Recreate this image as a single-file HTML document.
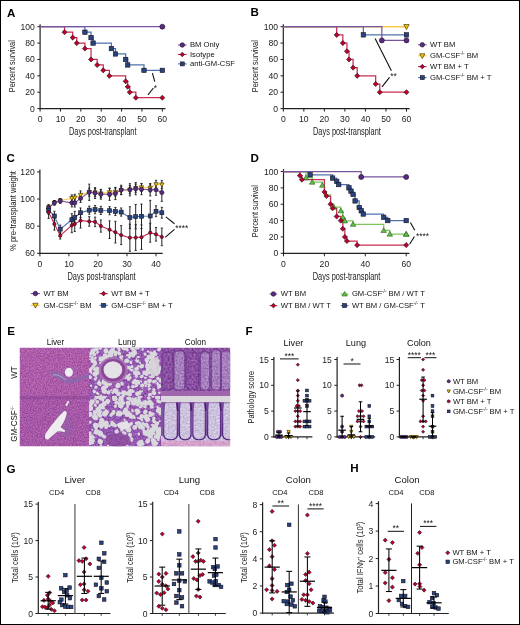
<!DOCTYPE html>
<html><head><meta charset="utf-8"><title>Figure</title>
<style>
html,body{margin:0;padding:0;background:#fff;}
#wrap{position:relative;width:520px;height:625px;overflow:hidden;}
#wrap svg{display:block;position:absolute;left:0;top:0;will-change:transform;}
#frame{position:absolute;left:0;top:0;width:520px;height:625px;box-sizing:border-box;border:1px solid #000;pointer-events:none;}
text{font-family:"Liberation Sans", sans-serif;}
</style></head><body><div id="wrap">
<svg width="520" height="625" viewBox="0 0 520 625" font-family='"Liberation Sans", sans-serif'>
<rect x="0" y="0" width="520" height="625" fill="#fff"/>
<text transform="translate(6.9,16.5)" font-size="11.6" text-anchor="start" font-weight="bold" fill="#000">A</text>
<text transform="translate(250.5,16.3)" font-size="11.6" text-anchor="start" font-weight="bold" fill="#000">B</text>
<text transform="translate(6.6,161.8)" font-size="11.6" text-anchor="start" font-weight="bold" fill="#000">C</text>
<text transform="translate(250.5,161.7)" font-size="11.6" text-anchor="start" font-weight="bold" fill="#000">D</text>
<text transform="translate(7.3,334.7)" font-size="11.6" text-anchor="start" font-weight="bold" fill="#000">E</text>
<text transform="translate(245.4,334.7)" font-size="11.6" text-anchor="start" font-weight="bold" fill="#000">F</text>
<text transform="translate(6.6,472.5)" font-size="11.6" text-anchor="start" font-weight="bold" fill="#000">G</text>
<text transform="translate(350.3,472.3)" font-size="11.6" text-anchor="start" font-weight="bold" fill="#000">H</text>
<line x1="40.1" y1="24.3" x2="40.1" y2="109.2" stroke="#222" stroke-width="1.2"/>
<line x1="39.5" y1="108.6" x2="165.52" y2="108.6" stroke="#222" stroke-width="1.2"/>
<line x1="37.3" y1="108.6" x2="40.1" y2="108.6" stroke="#222" stroke-width="1"/>
<text transform="translate(34.9,111.6)" font-size="8.6" text-anchor="end" font-weight="normal" fill="#222">0</text>
<line x1="37.3" y1="92.22" x2="40.1" y2="92.22" stroke="#222" stroke-width="1"/>
<text transform="translate(34.9,95.22)" font-size="8.6" text-anchor="end" font-weight="normal" fill="#222">20</text>
<line x1="37.3" y1="75.84" x2="40.1" y2="75.84" stroke="#222" stroke-width="1"/>
<text transform="translate(34.9,78.84)" font-size="8.6" text-anchor="end" font-weight="normal" fill="#222">40</text>
<line x1="37.3" y1="59.46" x2="40.1" y2="59.46" stroke="#222" stroke-width="1"/>
<text transform="translate(34.9,62.46)" font-size="8.6" text-anchor="end" font-weight="normal" fill="#222">60</text>
<line x1="37.3" y1="43.08" x2="40.1" y2="43.08" stroke="#222" stroke-width="1"/>
<text transform="translate(34.9,46.08)" font-size="8.6" text-anchor="end" font-weight="normal" fill="#222">80</text>
<line x1="37.3" y1="26.7" x2="40.1" y2="26.7" stroke="#222" stroke-width="1"/>
<text transform="translate(34.9,29.7)" font-size="8.6" text-anchor="end" font-weight="normal" fill="#222">100</text>
<line x1="40.1" y1="108.6" x2="40.1" y2="111.6" stroke="#222" stroke-width="1"/>
<text transform="translate(40.1,121.9)" font-size="8.6" text-anchor="middle" font-weight="normal" fill="#222">0</text>
<line x1="60.47" y1="108.6" x2="60.47" y2="111.6" stroke="#222" stroke-width="1"/>
<text transform="translate(60.47,121.9)" font-size="8.6" text-anchor="middle" font-weight="normal" fill="#222">10</text>
<line x1="80.84" y1="108.6" x2="80.84" y2="111.6" stroke="#222" stroke-width="1"/>
<text transform="translate(80.84,121.9)" font-size="8.6" text-anchor="middle" font-weight="normal" fill="#222">20</text>
<line x1="101.21" y1="108.6" x2="101.21" y2="111.6" stroke="#222" stroke-width="1"/>
<text transform="translate(101.21,121.9)" font-size="8.6" text-anchor="middle" font-weight="normal" fill="#222">30</text>
<line x1="121.58" y1="108.6" x2="121.58" y2="111.6" stroke="#222" stroke-width="1"/>
<text transform="translate(121.58,121.9)" font-size="8.6" text-anchor="middle" font-weight="normal" fill="#222">40</text>
<line x1="141.95" y1="108.6" x2="141.95" y2="111.6" stroke="#222" stroke-width="1"/>
<text transform="translate(141.95,121.9)" font-size="8.6" text-anchor="middle" font-weight="normal" fill="#222">50</text>
<line x1="162.32" y1="108.6" x2="162.32" y2="111.6" stroke="#222" stroke-width="1"/>
<text transform="translate(162.32,121.9)" font-size="8.6" text-anchor="middle" font-weight="normal" fill="#222">60</text>
<text transform="translate(15.2,66.2) rotate(-90)" font-size="9.2" text-anchor="middle" font-weight="normal" fill="#222" textLength="52" lengthAdjust="spacingAndGlyphs">Percent survival</text>
<text transform="translate(69,135.1)" font-size="11" text-anchor="start" font-weight="normal" fill="#222" textLength="67.5" lengthAdjust="spacingAndGlyphs">Days post-transplant</text>
<polyline points="40.1,26.7 64.54,26.7 64.54,32.19 72.69,32.19 72.69,37.59 76.77,37.59 76.77,43.08 84.91,43.08 84.91,48.57 91.03,48.57 91.03,59.46 97.14,59.46 97.14,64.95 103.25,64.95 103.25,70.35 109.36,70.35 109.36,75.84 125.65,75.84 125.65,81.33 127.69,81.33 127.69,86.73 129.73,86.73 129.73,92.22 135.84,92.22 135.84,97.71 162.32,97.71" fill="none" stroke="#c62f53" stroke-width="1.25" stroke-linejoin="miter"/>
<polyline points="40.1,26.7 84.91,26.7 84.91,32.19 91.03,32.19 91.03,37.59 93.06,37.59 93.06,43.08 111.4,43.08 111.4,48.57 115.47,48.57 115.47,53.97 125.65,53.97 125.65,59.46 127.69,59.46 127.69,64.95 143.99,64.95 143.99,70.35 162.32,70.35" fill="none" stroke="#5072aa" stroke-width="1.25" stroke-linejoin="miter"/>
<polyline points="40.1,26.7 162.32,26.7" fill="none" stroke="#77569b" stroke-width="1.3" stroke-linejoin="miter"/>
<path d="M64.54 29.64L67.09 32.19L64.54 34.74L61.99 32.19Z" fill="#bf0029" stroke="#1a1020" stroke-width="0.6"/>
<path d="M72.69 35.04L75.24 37.59L72.69 40.14L70.14 37.59Z" fill="#bf0029" stroke="#1a1020" stroke-width="0.6"/>
<path d="M76.77 40.53L79.32 43.08L76.77 45.63L74.22 43.08Z" fill="#bf0029" stroke="#1a1020" stroke-width="0.6"/>
<path d="M84.91 46.02L87.46 48.57L84.91 51.12L82.36 48.57Z" fill="#bf0029" stroke="#1a1020" stroke-width="0.6"/>
<path d="M91.03 56.91L93.58 59.46L91.03 62.01L88.48 59.46Z" fill="#bf0029" stroke="#1a1020" stroke-width="0.6"/>
<path d="M97.14 62.4L99.69 64.95L97.14 67.5L94.59 64.95Z" fill="#bf0029" stroke="#1a1020" stroke-width="0.6"/>
<path d="M103.25 67.8L105.8 70.35L103.25 72.9L100.7 70.35Z" fill="#bf0029" stroke="#1a1020" stroke-width="0.6"/>
<path d="M109.36 73.29L111.91 75.84L109.36 78.39L106.81 75.84Z" fill="#bf0029" stroke="#1a1020" stroke-width="0.6"/>
<path d="M125.65 78.78L128.2 81.33L125.65 83.88L123.1 81.33Z" fill="#bf0029" stroke="#1a1020" stroke-width="0.6"/>
<path d="M127.69 84.18L130.24 86.73L127.69 89.28L125.14 86.73Z" fill="#bf0029" stroke="#1a1020" stroke-width="0.6"/>
<path d="M129.73 89.67L132.28 92.22L129.73 94.77L127.18 92.22Z" fill="#bf0029" stroke="#1a1020" stroke-width="0.6"/>
<path d="M135.84 95.16L138.39 97.71L135.84 100.26L133.29 97.71Z" fill="#bf0029" stroke="#1a1020" stroke-width="0.6"/>
<path d="M162.32 95.16L164.87 97.71L162.32 100.26L159.77 97.71Z" fill="#bf0029" stroke="#1a1020" stroke-width="0.6"/>
<rect x="82.71" y="29.99" width="4.4" height="4.4" fill="#26457f" stroke="#1a1020" stroke-width="0.6"/>
<rect x="88.83" y="35.39" width="4.4" height="4.4" fill="#26457f" stroke="#1a1020" stroke-width="0.6"/>
<rect x="90.86" y="40.88" width="4.4" height="4.4" fill="#26457f" stroke="#1a1020" stroke-width="0.6"/>
<rect x="109.2" y="46.37" width="4.4" height="4.4" fill="#26457f" stroke="#1a1020" stroke-width="0.6"/>
<rect x="113.27" y="51.77" width="4.4" height="4.4" fill="#26457f" stroke="#1a1020" stroke-width="0.6"/>
<rect x="123.45" y="57.26" width="4.4" height="4.4" fill="#26457f" stroke="#1a1020" stroke-width="0.6"/>
<rect x="125.49" y="62.75" width="4.4" height="4.4" fill="#26457f" stroke="#1a1020" stroke-width="0.6"/>
<rect x="141.79" y="68.15" width="4.4" height="4.4" fill="#26457f" stroke="#1a1020" stroke-width="0.6"/>
<rect x="160.12" y="68.15" width="4.4" height="4.4" fill="#26457f" stroke="#1a1020" stroke-width="0.6"/>
<circle cx="162.32" cy="26.7" r="2.5" fill="#5a2a84" stroke="#1a1020" stroke-width="0.6"/>
<line x1="152.4" y1="73.2" x2="154.8" y2="81.6" stroke="#111" stroke-width="1.1"/>
<line x1="153.4" y1="88" x2="148" y2="94.8" stroke="#111" stroke-width="1.1"/>
<text transform="translate(155.4,91.2)" font-size="8.4" text-anchor="middle" font-weight="normal" fill="#111">*</text>
<line x1="178" y1="45" x2="186.6" y2="45" stroke="#77569b" stroke-width="1.1"/>
<circle cx="182.3" cy="45" r="2.25" fill="#5a2a84" stroke="#1a1020" stroke-width="0.6"/>
<text transform="translate(190,47.3) scale(0.97,1)" font-size="7.9" text-anchor="start" font-weight="normal" fill="#111">BM Only</text>
<line x1="178" y1="54.5" x2="186.6" y2="54.5" stroke="#c62f53" stroke-width="1.1"/>
<path d="M182.3 52.2L184.59 54.5L182.3 56.8L180.01 54.5Z" fill="#bf0029" stroke="#1a1020" stroke-width="0.6"/>
<text transform="translate(190,56.8) scale(0.97,1)" font-size="7.9" text-anchor="start" font-weight="normal" fill="#111">Isotype</text>
<line x1="178" y1="63.9" x2="186.6" y2="63.9" stroke="#5072aa" stroke-width="1.1"/>
<rect x="180.32" y="61.92" width="3.96" height="3.96" fill="#26457f" stroke="#1a1020" stroke-width="0.6"/>
<text transform="translate(190,66.2) scale(0.97,1)" font-size="7.9" text-anchor="start" font-weight="normal" fill="#111">anti-GM-CSF</text>
<line x1="283.3" y1="24.3" x2="283.3" y2="109.2" stroke="#222" stroke-width="1.2"/>
<line x1="282.7" y1="108.6" x2="409.68" y2="108.6" stroke="#222" stroke-width="1.2"/>
<line x1="280.5" y1="108.6" x2="283.3" y2="108.6" stroke="#222" stroke-width="1"/>
<text transform="translate(278.1,111.6)" font-size="8.6" text-anchor="end" font-weight="normal" fill="#222">0</text>
<line x1="280.5" y1="92.22" x2="283.3" y2="92.22" stroke="#222" stroke-width="1"/>
<text transform="translate(278.1,95.22)" font-size="8.6" text-anchor="end" font-weight="normal" fill="#222">20</text>
<line x1="280.5" y1="75.84" x2="283.3" y2="75.84" stroke="#222" stroke-width="1"/>
<text transform="translate(278.1,78.84)" font-size="8.6" text-anchor="end" font-weight="normal" fill="#222">40</text>
<line x1="280.5" y1="59.46" x2="283.3" y2="59.46" stroke="#222" stroke-width="1"/>
<text transform="translate(278.1,62.46)" font-size="8.6" text-anchor="end" font-weight="normal" fill="#222">60</text>
<line x1="280.5" y1="43.08" x2="283.3" y2="43.08" stroke="#222" stroke-width="1"/>
<text transform="translate(278.1,46.08)" font-size="8.6" text-anchor="end" font-weight="normal" fill="#222">80</text>
<line x1="280.5" y1="26.7" x2="283.3" y2="26.7" stroke="#222" stroke-width="1"/>
<text transform="translate(278.1,29.7)" font-size="8.6" text-anchor="end" font-weight="normal" fill="#222">100</text>
<line x1="283.3" y1="108.6" x2="283.3" y2="111.6" stroke="#222" stroke-width="1"/>
<text transform="translate(283.3,121.9)" font-size="8.6" text-anchor="middle" font-weight="normal" fill="#222">0</text>
<line x1="303.83" y1="108.6" x2="303.83" y2="111.6" stroke="#222" stroke-width="1"/>
<text transform="translate(303.83,121.9)" font-size="8.6" text-anchor="middle" font-weight="normal" fill="#222">10</text>
<line x1="324.36" y1="108.6" x2="324.36" y2="111.6" stroke="#222" stroke-width="1"/>
<text transform="translate(324.36,121.9)" font-size="8.6" text-anchor="middle" font-weight="normal" fill="#222">20</text>
<line x1="344.89" y1="108.6" x2="344.89" y2="111.6" stroke="#222" stroke-width="1"/>
<text transform="translate(344.89,121.9)" font-size="8.6" text-anchor="middle" font-weight="normal" fill="#222">30</text>
<line x1="365.42" y1="108.6" x2="365.42" y2="111.6" stroke="#222" stroke-width="1"/>
<text transform="translate(365.42,121.9)" font-size="8.6" text-anchor="middle" font-weight="normal" fill="#222">40</text>
<line x1="385.95" y1="108.6" x2="385.95" y2="111.6" stroke="#222" stroke-width="1"/>
<text transform="translate(385.95,121.9)" font-size="8.6" text-anchor="middle" font-weight="normal" fill="#222">50</text>
<line x1="406.48" y1="108.6" x2="406.48" y2="111.6" stroke="#222" stroke-width="1"/>
<text transform="translate(406.48,121.9)" font-size="8.6" text-anchor="middle" font-weight="normal" fill="#222">60</text>
<text transform="translate(258.2,66.2) rotate(-90)" font-size="9.2" text-anchor="middle" font-weight="normal" fill="#222" textLength="52" lengthAdjust="spacingAndGlyphs">Percent survival</text>
<text transform="translate(313,135.1)" font-size="11" text-anchor="start" font-weight="normal" fill="#222" textLength="67.8" lengthAdjust="spacingAndGlyphs">Days post-transplant</text>
<polyline points="283.3,26.7 406.48,26.7" fill="none" stroke="#f3c94a" stroke-width="1.35" stroke-linejoin="miter"/>
<polyline points="283.3,26.7 336.68,26.7 336.68,34.89 342.84,34.89 342.84,43.08 346.94,43.08 346.94,51.27 349,51.27 349,59.46 353.1,59.46 353.1,67.65 357.21,67.65 357.21,75.84 375.69,75.84 375.69,84.03 379.79,84.03 379.79,92.22 406.48,92.22" fill="none" stroke="#c62f53" stroke-width="1.25" stroke-linejoin="miter"/>
<polyline points="283.3,26.7 363.37,26.7 363.37,34.89 406.48,34.89" fill="none" stroke="#5072aa" stroke-width="1.25" stroke-linejoin="miter"/>
<polyline points="283.3,26.7 381.84,26.7 381.84,40.38 406.48,40.38" fill="none" stroke="#77569b" stroke-width="1.25" stroke-linejoin="miter"/>
<path d="M336.68 32.34L339.23 34.89L336.68 37.44L334.13 34.89Z" fill="#bf0029" stroke="#1a1020" stroke-width="0.6"/>
<path d="M342.84 40.53L345.39 43.08L342.84 45.63L340.29 43.08Z" fill="#bf0029" stroke="#1a1020" stroke-width="0.6"/>
<path d="M346.94 48.72L349.49 51.27L346.94 53.82L344.39 51.27Z" fill="#bf0029" stroke="#1a1020" stroke-width="0.6"/>
<path d="M349 56.91L351.55 59.46L349 62.01L346.45 59.46Z" fill="#bf0029" stroke="#1a1020" stroke-width="0.6"/>
<path d="M353.1 65.1L355.65 67.65L353.1 70.2L350.55 67.65Z" fill="#bf0029" stroke="#1a1020" stroke-width="0.6"/>
<path d="M357.21 73.29L359.76 75.84L357.21 78.39L354.66 75.84Z" fill="#bf0029" stroke="#1a1020" stroke-width="0.6"/>
<path d="M375.69 81.48L378.24 84.03L375.69 86.58L373.13 84.03Z" fill="#bf0029" stroke="#1a1020" stroke-width="0.6"/>
<path d="M379.79 89.67L382.34 92.22L379.79 94.77L377.24 92.22Z" fill="#bf0029" stroke="#1a1020" stroke-width="0.6"/>
<path d="M406.48 89.67L409.03 92.22L406.48 94.77L403.93 92.22Z" fill="#bf0029" stroke="#1a1020" stroke-width="0.6"/>
<rect x="361.17" y="32.69" width="4.4" height="4.4" fill="#26457f" stroke="#1a1020" stroke-width="0.6"/>
<rect x="404.28" y="32.69" width="4.4" height="4.4" fill="#26457f" stroke="#1a1020" stroke-width="0.6"/>
<circle cx="381.84" cy="40.38" r="2.5" fill="#5a2a84" stroke="#1a1020" stroke-width="0.6"/>
<circle cx="406.48" cy="40.38" r="2.5" fill="#5a2a84" stroke="#1a1020" stroke-width="0.6"/>
<path d="M403.78 24.59L409.18 24.59L406.48 29.54Z" fill="#f6c400" stroke="#2a2000" stroke-width="0.6"/>
<line x1="375.1" y1="38.5" x2="391.4" y2="70.8" stroke="#111" stroke-width="1.1"/>
<line x1="389.5" y1="77.4" x2="382" y2="86.8" stroke="#111" stroke-width="1.1"/>
<text transform="translate(393.6,79.1)" font-size="8.4" text-anchor="middle" font-weight="normal" fill="#111">**</text>
<line x1="418" y1="44.8" x2="426.6" y2="44.8" stroke="#77569b" stroke-width="1.1"/>
<circle cx="422.3" cy="44.8" r="2.25" fill="#5a2a84" stroke="#1a1020" stroke-width="0.6"/>
<text transform="translate(430,47.1) scale(0.97,1)" font-size="7.9" text-anchor="start" font-weight="normal" fill="#111">WT BM</text>
<line x1="418" y1="55.8" x2="426.6" y2="55.8" stroke="#f3c94a" stroke-width="1.1"/>
<path d="M419.68 53.75L424.92 53.75L422.3 58.56Z" fill="#f6c400" stroke="#2a2000" stroke-width="0.6"/>
<text transform="translate(430,58.1) scale(0.97,1)" font-size="7.9" text-anchor="start" font-weight="normal" fill="#111">GM-CSF<tspan font-size="4.8" dy="-3.1">-/-</tspan><tspan dy="3.1"> </tspan>BM</text>
<line x1="418" y1="66.6" x2="426.6" y2="66.6" stroke="#c62f53" stroke-width="1.1"/>
<path d="M422.3 64.3L424.6 66.6L422.3 68.89L420 66.6Z" fill="#bf0029" stroke="#1a1020" stroke-width="0.6"/>
<text transform="translate(430,68.9) scale(0.97,1)" font-size="7.9" text-anchor="start" font-weight="normal" fill="#111">WT BM + T</text>
<line x1="418" y1="77.6" x2="426.6" y2="77.6" stroke="#5072aa" stroke-width="1.1"/>
<rect x="420.32" y="75.62" width="3.96" height="3.96" fill="#26457f" stroke="#1a1020" stroke-width="0.6"/>
<text transform="translate(430,79.9) scale(0.97,1)" font-size="7.9" text-anchor="start" font-weight="normal" fill="#111">GM-CSF<tspan font-size="4.8" dy="-3.1">-/-</tspan><tspan dy="3.1"> </tspan>BM + T</text>
<line x1="39.9" y1="169.5" x2="39.9" y2="253.9" stroke="#222" stroke-width="1.2"/>
<line x1="39.3" y1="253.3" x2="162.7" y2="253.3" stroke="#222" stroke-width="1.2"/>
<line x1="37.1" y1="253.3" x2="39.9" y2="253.3" stroke="#222" stroke-width="1"/>
<text transform="translate(34.7,256.3)" font-size="8.6" text-anchor="end" font-weight="normal" fill="#222">60</text>
<line x1="37.1" y1="226.17" x2="39.9" y2="226.17" stroke="#222" stroke-width="1"/>
<text transform="translate(34.7,229.17)" font-size="8.6" text-anchor="end" font-weight="normal" fill="#222">80</text>
<line x1="37.1" y1="199.03" x2="39.9" y2="199.03" stroke="#222" stroke-width="1"/>
<text transform="translate(34.7,202.03)" font-size="8.6" text-anchor="end" font-weight="normal" fill="#222">100</text>
<line x1="37.1" y1="171.9" x2="39.9" y2="171.9" stroke="#222" stroke-width="1"/>
<text transform="translate(34.7,174.9)" font-size="8.6" text-anchor="end" font-weight="normal" fill="#222">120</text>
<line x1="39.9" y1="253.3" x2="39.9" y2="256.3" stroke="#222" stroke-width="1"/>
<text transform="translate(39.9,266.6)" font-size="8.6" text-anchor="middle" font-weight="normal" fill="#222">0</text>
<line x1="68.93" y1="253.3" x2="68.93" y2="256.3" stroke="#222" stroke-width="1"/>
<text transform="translate(68.93,266.6)" font-size="8.6" text-anchor="middle" font-weight="normal" fill="#222">10</text>
<line x1="97.96" y1="253.3" x2="97.96" y2="256.3" stroke="#222" stroke-width="1"/>
<text transform="translate(97.96,266.6)" font-size="8.6" text-anchor="middle" font-weight="normal" fill="#222">20</text>
<line x1="126.99" y1="253.3" x2="126.99" y2="256.3" stroke="#222" stroke-width="1"/>
<text transform="translate(126.99,266.6)" font-size="8.6" text-anchor="middle" font-weight="normal" fill="#222">30</text>
<line x1="156.02" y1="253.3" x2="156.02" y2="256.3" stroke="#222" stroke-width="1"/>
<text transform="translate(156.02,266.6)" font-size="8.6" text-anchor="middle" font-weight="normal" fill="#222">40</text>
<text transform="translate(16,211) rotate(-90)" font-size="9.2" text-anchor="middle" font-weight="normal" fill="#222" textLength="80" lengthAdjust="spacingAndGlyphs">% pre-transplant weight</text>
<text transform="translate(67.4,279.7)" font-size="11" text-anchor="start" font-weight="normal" fill="#222" textLength="68.2" lengthAdjust="spacingAndGlyphs">Days post-transplant</text>
<line x1="48.61" y1="204.46" x2="48.61" y2="210.43" stroke="#222" stroke-width="1"/>
<line x1="47.51" y1="204.46" x2="49.71" y2="204.46" stroke="#222" stroke-width="0.9"/>
<line x1="47.51" y1="210.43" x2="49.71" y2="210.43" stroke="#222" stroke-width="0.9"/>
<line x1="54.41" y1="200.53" x2="54.41" y2="204.87" stroke="#222" stroke-width="1"/>
<line x1="53.31" y1="200.53" x2="55.52" y2="200.53" stroke="#222" stroke-width="0.9"/>
<line x1="53.31" y1="204.87" x2="55.52" y2="204.87" stroke="#222" stroke-width="0.9"/>
<line x1="60.22" y1="198.49" x2="60.22" y2="202.83" stroke="#222" stroke-width="1"/>
<line x1="59.12" y1="198.49" x2="61.32" y2="198.49" stroke="#222" stroke-width="0.9"/>
<line x1="59.12" y1="202.83" x2="61.32" y2="202.83" stroke="#222" stroke-width="0.9"/>
<line x1="71.83" y1="194.83" x2="71.83" y2="201.61" stroke="#222" stroke-width="1"/>
<line x1="70.73" y1="194.83" x2="72.93" y2="194.83" stroke="#222" stroke-width="0.9"/>
<line x1="70.73" y1="201.61" x2="72.93" y2="201.61" stroke="#222" stroke-width="0.9"/>
<line x1="74.74" y1="194.29" x2="74.74" y2="201.07" stroke="#222" stroke-width="1"/>
<line x1="73.64" y1="194.29" x2="75.84" y2="194.29" stroke="#222" stroke-width="0.9"/>
<line x1="73.64" y1="201.07" x2="75.84" y2="201.07" stroke="#222" stroke-width="0.9"/>
<line x1="80.54" y1="190.89" x2="80.54" y2="199.03" stroke="#222" stroke-width="1"/>
<line x1="79.44" y1="190.89" x2="81.64" y2="190.89" stroke="#222" stroke-width="0.9"/>
<line x1="79.44" y1="199.03" x2="81.64" y2="199.03" stroke="#222" stroke-width="0.9"/>
<line x1="89.25" y1="188.04" x2="89.25" y2="196.18" stroke="#222" stroke-width="1"/>
<line x1="88.15" y1="188.04" x2="90.35" y2="188.04" stroke="#222" stroke-width="0.9"/>
<line x1="88.15" y1="196.18" x2="90.35" y2="196.18" stroke="#222" stroke-width="0.9"/>
<line x1="95.06" y1="188.45" x2="95.06" y2="196.59" stroke="#222" stroke-width="1"/>
<line x1="93.96" y1="188.45" x2="96.16" y2="188.45" stroke="#222" stroke-width="0.9"/>
<line x1="93.96" y1="196.59" x2="96.16" y2="196.59" stroke="#222" stroke-width="0.9"/>
<line x1="100.86" y1="189.54" x2="100.86" y2="197.68" stroke="#222" stroke-width="1"/>
<line x1="99.76" y1="189.54" x2="101.96" y2="189.54" stroke="#222" stroke-width="0.9"/>
<line x1="99.76" y1="197.68" x2="101.96" y2="197.68" stroke="#222" stroke-width="0.9"/>
<line x1="109.57" y1="188.32" x2="109.57" y2="196.46" stroke="#222" stroke-width="1"/>
<line x1="108.47" y1="188.32" x2="110.67" y2="188.32" stroke="#222" stroke-width="0.9"/>
<line x1="108.47" y1="196.46" x2="110.67" y2="196.46" stroke="#222" stroke-width="0.9"/>
<line x1="115.38" y1="187.91" x2="115.38" y2="196.05" stroke="#222" stroke-width="1"/>
<line x1="114.28" y1="187.91" x2="116.48" y2="187.91" stroke="#222" stroke-width="0.9"/>
<line x1="114.28" y1="196.05" x2="116.48" y2="196.05" stroke="#222" stroke-width="0.9"/>
<line x1="121.18" y1="186.28" x2="121.18" y2="194.42" stroke="#222" stroke-width="1"/>
<line x1="120.08" y1="186.28" x2="122.28" y2="186.28" stroke="#222" stroke-width="0.9"/>
<line x1="120.08" y1="194.42" x2="122.28" y2="194.42" stroke="#222" stroke-width="0.9"/>
<line x1="129.89" y1="185.6" x2="129.89" y2="193.74" stroke="#222" stroke-width="1"/>
<line x1="128.79" y1="185.6" x2="130.99" y2="185.6" stroke="#222" stroke-width="0.9"/>
<line x1="128.79" y1="193.74" x2="130.99" y2="193.74" stroke="#222" stroke-width="0.9"/>
<line x1="135.7" y1="184.11" x2="135.7" y2="192.25" stroke="#222" stroke-width="1"/>
<line x1="134.6" y1="184.11" x2="136.8" y2="184.11" stroke="#222" stroke-width="0.9"/>
<line x1="134.6" y1="192.25" x2="136.8" y2="192.25" stroke="#222" stroke-width="0.9"/>
<line x1="141.5" y1="183.43" x2="141.5" y2="191.57" stroke="#222" stroke-width="1"/>
<line x1="140.41" y1="183.43" x2="142.6" y2="183.43" stroke="#222" stroke-width="0.9"/>
<line x1="140.41" y1="191.57" x2="142.6" y2="191.57" stroke="#222" stroke-width="0.9"/>
<line x1="150.21" y1="183.84" x2="150.21" y2="191.98" stroke="#222" stroke-width="1"/>
<line x1="149.11" y1="183.84" x2="151.31" y2="183.84" stroke="#222" stroke-width="0.9"/>
<line x1="149.11" y1="191.98" x2="151.31" y2="191.98" stroke="#222" stroke-width="0.9"/>
<line x1="156.02" y1="180.31" x2="156.02" y2="188.45" stroke="#222" stroke-width="1"/>
<line x1="154.92" y1="180.31" x2="157.12" y2="180.31" stroke="#222" stroke-width="0.9"/>
<line x1="154.92" y1="188.45" x2="157.12" y2="188.45" stroke="#222" stroke-width="0.9"/>
<line x1="161.83" y1="180.58" x2="161.83" y2="188.72" stroke="#222" stroke-width="1"/>
<line x1="160.73" y1="180.58" x2="162.93" y2="180.58" stroke="#222" stroke-width="0.9"/>
<line x1="160.73" y1="188.72" x2="162.93" y2="188.72" stroke="#222" stroke-width="0.9"/>
<line x1="48.61" y1="205.27" x2="48.61" y2="210.7" stroke="#222" stroke-width="1"/>
<line x1="47.51" y1="205.27" x2="49.71" y2="205.27" stroke="#222" stroke-width="0.9"/>
<line x1="47.51" y1="210.7" x2="49.71" y2="210.7" stroke="#222" stroke-width="0.9"/>
<line x1="54.41" y1="200.66" x2="54.41" y2="205" stroke="#222" stroke-width="1"/>
<line x1="53.31" y1="200.66" x2="55.52" y2="200.66" stroke="#222" stroke-width="0.9"/>
<line x1="53.31" y1="205" x2="55.52" y2="205" stroke="#222" stroke-width="0.9"/>
<line x1="60.22" y1="198.9" x2="60.22" y2="203.24" stroke="#222" stroke-width="1"/>
<line x1="59.12" y1="198.9" x2="61.32" y2="198.9" stroke="#222" stroke-width="0.9"/>
<line x1="59.12" y1="203.24" x2="61.32" y2="203.24" stroke="#222" stroke-width="0.9"/>
<line x1="71.83" y1="198.76" x2="71.83" y2="206.9" stroke="#222" stroke-width="1"/>
<line x1="70.73" y1="198.76" x2="72.93" y2="198.76" stroke="#222" stroke-width="0.9"/>
<line x1="70.73" y1="206.9" x2="72.93" y2="206.9" stroke="#222" stroke-width="0.9"/>
<line x1="74.74" y1="198.9" x2="74.74" y2="207.04" stroke="#222" stroke-width="1"/>
<line x1="73.64" y1="198.9" x2="75.84" y2="198.9" stroke="#222" stroke-width="0.9"/>
<line x1="73.64" y1="207.04" x2="75.84" y2="207.04" stroke="#222" stroke-width="0.9"/>
<line x1="80.54" y1="194.29" x2="80.54" y2="202.43" stroke="#222" stroke-width="1"/>
<line x1="79.44" y1="194.29" x2="81.64" y2="194.29" stroke="#222" stroke-width="0.9"/>
<line x1="79.44" y1="202.43" x2="81.64" y2="202.43" stroke="#222" stroke-width="0.9"/>
<line x1="89.25" y1="184.11" x2="89.25" y2="200.39" stroke="#222" stroke-width="1"/>
<line x1="88.15" y1="184.11" x2="90.35" y2="184.11" stroke="#222" stroke-width="0.9"/>
<line x1="88.15" y1="200.39" x2="90.35" y2="200.39" stroke="#222" stroke-width="0.9"/>
<line x1="95.06" y1="187.64" x2="95.06" y2="198.49" stroke="#222" stroke-width="1"/>
<line x1="93.96" y1="187.64" x2="96.16" y2="187.64" stroke="#222" stroke-width="0.9"/>
<line x1="93.96" y1="198.49" x2="96.16" y2="198.49" stroke="#222" stroke-width="0.9"/>
<line x1="100.86" y1="189.4" x2="100.86" y2="199.17" stroke="#222" stroke-width="1"/>
<line x1="99.76" y1="189.4" x2="101.96" y2="189.4" stroke="#222" stroke-width="0.9"/>
<line x1="99.76" y1="199.17" x2="101.96" y2="199.17" stroke="#222" stroke-width="0.9"/>
<line x1="109.57" y1="188.18" x2="109.57" y2="200.39" stroke="#222" stroke-width="1"/>
<line x1="108.47" y1="188.18" x2="110.67" y2="188.18" stroke="#222" stroke-width="0.9"/>
<line x1="108.47" y1="200.39" x2="110.67" y2="200.39" stroke="#222" stroke-width="0.9"/>
<line x1="115.38" y1="187.37" x2="115.38" y2="199.58" stroke="#222" stroke-width="1"/>
<line x1="114.28" y1="187.37" x2="116.48" y2="187.37" stroke="#222" stroke-width="0.9"/>
<line x1="114.28" y1="199.58" x2="116.48" y2="199.58" stroke="#222" stroke-width="0.9"/>
<line x1="121.18" y1="185.2" x2="121.18" y2="194.69" stroke="#222" stroke-width="1"/>
<line x1="120.08" y1="185.2" x2="122.28" y2="185.2" stroke="#222" stroke-width="0.9"/>
<line x1="120.08" y1="194.69" x2="122.28" y2="194.69" stroke="#222" stroke-width="0.9"/>
<line x1="129.89" y1="183.7" x2="129.89" y2="195.91" stroke="#222" stroke-width="1"/>
<line x1="128.79" y1="183.7" x2="130.99" y2="183.7" stroke="#222" stroke-width="0.9"/>
<line x1="128.79" y1="195.91" x2="130.99" y2="195.91" stroke="#222" stroke-width="0.9"/>
<line x1="135.7" y1="182.62" x2="135.7" y2="194.83" stroke="#222" stroke-width="1"/>
<line x1="134.6" y1="182.62" x2="136.8" y2="182.62" stroke="#222" stroke-width="0.9"/>
<line x1="134.6" y1="194.83" x2="136.8" y2="194.83" stroke="#222" stroke-width="0.9"/>
<line x1="141.5" y1="183.84" x2="141.5" y2="194.69" stroke="#222" stroke-width="1"/>
<line x1="140.41" y1="183.84" x2="142.6" y2="183.84" stroke="#222" stroke-width="0.9"/>
<line x1="140.41" y1="194.69" x2="142.6" y2="194.69" stroke="#222" stroke-width="0.9"/>
<line x1="150.21" y1="183.7" x2="150.21" y2="195.91" stroke="#222" stroke-width="1"/>
<line x1="149.11" y1="183.7" x2="151.31" y2="183.7" stroke="#222" stroke-width="0.9"/>
<line x1="149.11" y1="195.91" x2="151.31" y2="195.91" stroke="#222" stroke-width="0.9"/>
<line x1="156.02" y1="184.38" x2="156.02" y2="195.23" stroke="#222" stroke-width="1"/>
<line x1="154.92" y1="184.38" x2="157.12" y2="184.38" stroke="#222" stroke-width="0.9"/>
<line x1="154.92" y1="195.23" x2="157.12" y2="195.23" stroke="#222" stroke-width="0.9"/>
<line x1="161.83" y1="183.7" x2="161.83" y2="201.34" stroke="#222" stroke-width="1"/>
<line x1="160.73" y1="183.7" x2="162.93" y2="183.7" stroke="#222" stroke-width="0.9"/>
<line x1="160.73" y1="201.34" x2="162.93" y2="201.34" stroke="#222" stroke-width="0.9"/>
<line x1="48.61" y1="206.09" x2="48.61" y2="214.23" stroke="#222" stroke-width="1"/>
<line x1="47.51" y1="206.09" x2="49.71" y2="206.09" stroke="#222" stroke-width="0.9"/>
<line x1="47.51" y1="214.23" x2="49.71" y2="214.23" stroke="#222" stroke-width="0.9"/>
<line x1="54.41" y1="211.24" x2="54.41" y2="220.74" stroke="#222" stroke-width="1"/>
<line x1="53.31" y1="211.24" x2="55.52" y2="211.24" stroke="#222" stroke-width="0.9"/>
<line x1="53.31" y1="220.74" x2="55.52" y2="220.74" stroke="#222" stroke-width="0.9"/>
<line x1="60.22" y1="225.08" x2="60.22" y2="233.22" stroke="#222" stroke-width="1"/>
<line x1="59.12" y1="225.08" x2="61.32" y2="225.08" stroke="#222" stroke-width="0.9"/>
<line x1="59.12" y1="233.22" x2="61.32" y2="233.22" stroke="#222" stroke-width="0.9"/>
<line x1="71.83" y1="213.69" x2="71.83" y2="225.9" stroke="#222" stroke-width="1"/>
<line x1="70.73" y1="213.69" x2="72.93" y2="213.69" stroke="#222" stroke-width="0.9"/>
<line x1="70.73" y1="225.9" x2="72.93" y2="225.9" stroke="#222" stroke-width="0.9"/>
<line x1="74.74" y1="211.38" x2="74.74" y2="223.59" stroke="#222" stroke-width="1"/>
<line x1="73.64" y1="211.38" x2="75.84" y2="211.38" stroke="#222" stroke-width="0.9"/>
<line x1="73.64" y1="223.59" x2="75.84" y2="223.59" stroke="#222" stroke-width="0.9"/>
<line x1="80.54" y1="207.99" x2="80.54" y2="217.48" stroke="#222" stroke-width="1"/>
<line x1="79.44" y1="207.99" x2="81.64" y2="207.99" stroke="#222" stroke-width="0.9"/>
<line x1="79.44" y1="217.48" x2="81.64" y2="217.48" stroke="#222" stroke-width="0.9"/>
<line x1="89.25" y1="206.09" x2="89.25" y2="214.23" stroke="#222" stroke-width="1"/>
<line x1="88.15" y1="206.09" x2="90.35" y2="206.09" stroke="#222" stroke-width="0.9"/>
<line x1="88.15" y1="214.23" x2="90.35" y2="214.23" stroke="#222" stroke-width="0.9"/>
<line x1="95.06" y1="205.55" x2="95.06" y2="213.69" stroke="#222" stroke-width="1"/>
<line x1="93.96" y1="205.55" x2="96.16" y2="205.55" stroke="#222" stroke-width="0.9"/>
<line x1="93.96" y1="213.69" x2="96.16" y2="213.69" stroke="#222" stroke-width="0.9"/>
<line x1="100.86" y1="206.36" x2="100.86" y2="214.5" stroke="#222" stroke-width="1"/>
<line x1="99.76" y1="206.36" x2="101.96" y2="206.36" stroke="#222" stroke-width="0.9"/>
<line x1="99.76" y1="214.5" x2="101.96" y2="214.5" stroke="#222" stroke-width="0.9"/>
<line x1="109.57" y1="206.63" x2="109.57" y2="214.77" stroke="#222" stroke-width="1"/>
<line x1="108.47" y1="206.63" x2="110.67" y2="206.63" stroke="#222" stroke-width="0.9"/>
<line x1="108.47" y1="214.77" x2="110.67" y2="214.77" stroke="#222" stroke-width="0.9"/>
<line x1="115.38" y1="207.44" x2="115.38" y2="215.58" stroke="#222" stroke-width="1"/>
<line x1="114.28" y1="207.44" x2="116.48" y2="207.44" stroke="#222" stroke-width="0.9"/>
<line x1="114.28" y1="215.58" x2="116.48" y2="215.58" stroke="#222" stroke-width="0.9"/>
<line x1="121.18" y1="207.99" x2="121.18" y2="216.13" stroke="#222" stroke-width="1"/>
<line x1="120.08" y1="207.99" x2="122.28" y2="207.99" stroke="#222" stroke-width="0.9"/>
<line x1="120.08" y1="216.13" x2="122.28" y2="216.13" stroke="#222" stroke-width="0.9"/>
<line x1="129.89" y1="206.77" x2="129.89" y2="228.47" stroke="#222" stroke-width="1"/>
<line x1="128.79" y1="206.77" x2="130.99" y2="206.77" stroke="#222" stroke-width="0.9"/>
<line x1="128.79" y1="228.47" x2="130.99" y2="228.47" stroke="#222" stroke-width="0.9"/>
<line x1="135.7" y1="204.46" x2="135.7" y2="228.88" stroke="#222" stroke-width="1"/>
<line x1="134.6" y1="204.46" x2="136.8" y2="204.46" stroke="#222" stroke-width="0.9"/>
<line x1="134.6" y1="228.88" x2="136.8" y2="228.88" stroke="#222" stroke-width="0.9"/>
<line x1="141.5" y1="204.05" x2="141.5" y2="228.47" stroke="#222" stroke-width="1"/>
<line x1="140.41" y1="204.05" x2="142.6" y2="204.05" stroke="#222" stroke-width="0.9"/>
<line x1="140.41" y1="228.47" x2="142.6" y2="228.47" stroke="#222" stroke-width="0.9"/>
<line x1="150.21" y1="200.39" x2="150.21" y2="231.59" stroke="#222" stroke-width="1"/>
<line x1="149.11" y1="200.39" x2="151.31" y2="200.39" stroke="#222" stroke-width="0.9"/>
<line x1="149.11" y1="231.59" x2="151.31" y2="231.59" stroke="#222" stroke-width="0.9"/>
<line x1="156.02" y1="205.82" x2="156.02" y2="216.67" stroke="#222" stroke-width="1"/>
<line x1="154.92" y1="205.82" x2="157.12" y2="205.82" stroke="#222" stroke-width="0.9"/>
<line x1="154.92" y1="216.67" x2="157.12" y2="216.67" stroke="#222" stroke-width="0.9"/>
<line x1="161.83" y1="207.31" x2="161.83" y2="218.16" stroke="#222" stroke-width="1"/>
<line x1="160.73" y1="207.31" x2="162.93" y2="207.31" stroke="#222" stroke-width="0.9"/>
<line x1="160.73" y1="218.16" x2="162.93" y2="218.16" stroke="#222" stroke-width="0.9"/>
<line x1="48.61" y1="206.22" x2="48.61" y2="218.43" stroke="#222" stroke-width="1"/>
<line x1="47.51" y1="206.22" x2="49.71" y2="206.22" stroke="#222" stroke-width="0.9"/>
<line x1="47.51" y1="218.43" x2="49.71" y2="218.43" stroke="#222" stroke-width="0.9"/>
<line x1="54.41" y1="217.89" x2="54.41" y2="230.1" stroke="#222" stroke-width="1"/>
<line x1="53.31" y1="217.89" x2="55.52" y2="217.89" stroke="#222" stroke-width="0.9"/>
<line x1="53.31" y1="230.1" x2="55.52" y2="230.1" stroke="#222" stroke-width="0.9"/>
<line x1="60.22" y1="232.27" x2="60.22" y2="239.06" stroke="#222" stroke-width="1"/>
<line x1="59.12" y1="232.27" x2="61.32" y2="232.27" stroke="#222" stroke-width="0.9"/>
<line x1="59.12" y1="239.06" x2="61.32" y2="239.06" stroke="#222" stroke-width="0.9"/>
<line x1="71.83" y1="217.76" x2="71.83" y2="232.68" stroke="#222" stroke-width="1"/>
<line x1="70.73" y1="217.76" x2="72.93" y2="217.76" stroke="#222" stroke-width="0.9"/>
<line x1="70.73" y1="232.68" x2="72.93" y2="232.68" stroke="#222" stroke-width="0.9"/>
<line x1="74.74" y1="216.53" x2="74.74" y2="231.46" stroke="#222" stroke-width="1"/>
<line x1="73.64" y1="216.53" x2="75.84" y2="216.53" stroke="#222" stroke-width="0.9"/>
<line x1="73.64" y1="231.46" x2="75.84" y2="231.46" stroke="#222" stroke-width="0.9"/>
<line x1="80.54" y1="213.14" x2="80.54" y2="228.07" stroke="#222" stroke-width="1"/>
<line x1="79.44" y1="213.14" x2="81.64" y2="213.14" stroke="#222" stroke-width="0.9"/>
<line x1="79.44" y1="228.07" x2="81.64" y2="228.07" stroke="#222" stroke-width="0.9"/>
<line x1="89.25" y1="216.67" x2="89.25" y2="226.17" stroke="#222" stroke-width="1"/>
<line x1="88.15" y1="216.67" x2="90.35" y2="216.67" stroke="#222" stroke-width="0.9"/>
<line x1="88.15" y1="226.17" x2="90.35" y2="226.17" stroke="#222" stroke-width="0.9"/>
<line x1="95.06" y1="217.08" x2="95.06" y2="226.57" stroke="#222" stroke-width="1"/>
<line x1="93.96" y1="217.08" x2="96.16" y2="217.08" stroke="#222" stroke-width="0.9"/>
<line x1="93.96" y1="226.57" x2="96.16" y2="226.57" stroke="#222" stroke-width="0.9"/>
<line x1="100.86" y1="219.93" x2="100.86" y2="232.14" stroke="#222" stroke-width="1"/>
<line x1="99.76" y1="219.93" x2="101.96" y2="219.93" stroke="#222" stroke-width="0.9"/>
<line x1="99.76" y1="232.14" x2="101.96" y2="232.14" stroke="#222" stroke-width="0.9"/>
<line x1="109.57" y1="220.88" x2="109.57" y2="238.51" stroke="#222" stroke-width="1"/>
<line x1="108.47" y1="220.88" x2="110.67" y2="220.88" stroke="#222" stroke-width="0.9"/>
<line x1="108.47" y1="238.51" x2="110.67" y2="238.51" stroke="#222" stroke-width="0.9"/>
<line x1="115.38" y1="221.28" x2="115.38" y2="242.99" stroke="#222" stroke-width="1"/>
<line x1="114.28" y1="221.28" x2="116.48" y2="221.28" stroke="#222" stroke-width="0.9"/>
<line x1="114.28" y1="242.99" x2="116.48" y2="242.99" stroke="#222" stroke-width="0.9"/>
<line x1="121.18" y1="225.62" x2="121.18" y2="244.62" stroke="#222" stroke-width="1"/>
<line x1="120.08" y1="225.62" x2="122.28" y2="225.62" stroke="#222" stroke-width="0.9"/>
<line x1="120.08" y1="244.62" x2="122.28" y2="244.62" stroke="#222" stroke-width="0.9"/>
<line x1="129.89" y1="224.13" x2="129.89" y2="251.27" stroke="#222" stroke-width="1"/>
<line x1="128.79" y1="224.13" x2="130.99" y2="224.13" stroke="#222" stroke-width="0.9"/>
<line x1="128.79" y1="251.27" x2="130.99" y2="251.27" stroke="#222" stroke-width="0.9"/>
<line x1="135.7" y1="224.67" x2="135.7" y2="250.45" stroke="#222" stroke-width="1"/>
<line x1="134.6" y1="224.67" x2="136.8" y2="224.67" stroke="#222" stroke-width="0.9"/>
<line x1="134.6" y1="250.45" x2="136.8" y2="250.45" stroke="#222" stroke-width="0.9"/>
<line x1="141.5" y1="224.95" x2="141.5" y2="249.37" stroke="#222" stroke-width="1"/>
<line x1="140.41" y1="224.95" x2="142.6" y2="224.95" stroke="#222" stroke-width="0.9"/>
<line x1="140.41" y1="249.37" x2="142.6" y2="249.37" stroke="#222" stroke-width="0.9"/>
<line x1="150.21" y1="223.18" x2="150.21" y2="242.18" stroke="#222" stroke-width="1"/>
<line x1="149.11" y1="223.18" x2="151.31" y2="223.18" stroke="#222" stroke-width="0.9"/>
<line x1="149.11" y1="242.18" x2="151.31" y2="242.18" stroke="#222" stroke-width="0.9"/>
<line x1="156.02" y1="227.52" x2="156.02" y2="241.09" stroke="#222" stroke-width="1"/>
<line x1="154.92" y1="227.52" x2="157.12" y2="227.52" stroke="#222" stroke-width="0.9"/>
<line x1="154.92" y1="241.09" x2="157.12" y2="241.09" stroke="#222" stroke-width="0.9"/>
<line x1="161.83" y1="228.07" x2="161.83" y2="245.7" stroke="#222" stroke-width="1"/>
<line x1="160.73" y1="228.07" x2="162.93" y2="228.07" stroke="#222" stroke-width="0.9"/>
<line x1="160.73" y1="245.7" x2="162.93" y2="245.7" stroke="#222" stroke-width="0.9"/>
<polyline points="48.61,207.44 54.41,202.7 60.22,200.66 71.83,198.22 74.74,197.68 80.54,194.96 89.25,192.11 95.06,192.52 100.86,193.61 109.57,192.39 115.38,191.98 121.18,190.35 129.89,189.67 135.7,188.18 141.5,187.5 150.21,187.91 156.02,184.38 161.83,184.65" fill="none" stroke="#f3c94a" stroke-width="1.1" stroke-linejoin="miter"/>
<polyline points="48.61,207.99 54.41,202.83 60.22,201.07 71.83,202.83 74.74,202.97 80.54,198.36 89.25,192.25 95.06,193.06 100.86,194.29 109.57,194.29 115.38,193.47 121.18,189.94 129.89,189.81 135.7,188.72 141.5,189.27 150.21,189.81 156.02,189.81 161.83,192.52" fill="none" stroke="#77569b" stroke-width="1.1" stroke-linejoin="miter"/>
<polyline points="48.61,210.16 54.41,215.99 60.22,229.15 71.83,219.79 74.74,217.48 80.54,212.74 89.25,210.16 95.06,209.62 100.86,210.43 109.57,210.7 115.38,211.51 121.18,212.06 129.89,217.62 135.7,216.67 141.5,216.26 150.21,215.99 156.02,211.24 161.83,212.74" fill="none" stroke="#5072aa" stroke-width="1.1" stroke-linejoin="miter"/>
<polyline points="48.61,212.33 54.41,224 60.22,235.66 71.83,225.22 74.74,224 80.54,220.6 89.25,221.42 95.06,221.83 100.86,226.03 109.57,229.69 115.38,232.14 121.18,235.12 129.89,237.7 135.7,237.56 141.5,237.16 150.21,232.68 156.02,234.31 161.83,236.88" fill="none" stroke="#c62f53" stroke-width="1.1" stroke-linejoin="miter"/>
<path d="M46.45 205.76L50.77 205.76L48.61 209.71Z" fill="#f6c400" stroke="#2a2000" stroke-width="0.6"/>
<path d="M52.25 201.01L56.58 201.01L54.41 204.96Z" fill="#f6c400" stroke="#2a2000" stroke-width="0.6"/>
<path d="M58.06 198.98L62.38 198.98L60.22 202.93Z" fill="#f6c400" stroke="#2a2000" stroke-width="0.6"/>
<path d="M69.67 196.53L73.99 196.53L71.83 200.49Z" fill="#f6c400" stroke="#2a2000" stroke-width="0.6"/>
<path d="M72.58 195.99L76.9 195.99L74.74 199.94Z" fill="#f6c400" stroke="#2a2000" stroke-width="0.6"/>
<path d="M78.38 193.28L82.7 193.28L80.54 197.23Z" fill="#f6c400" stroke="#2a2000" stroke-width="0.6"/>
<path d="M87.09 190.43L91.41 190.43L89.25 194.38Z" fill="#f6c400" stroke="#2a2000" stroke-width="0.6"/>
<path d="M92.9 190.84L97.22 190.84L95.06 194.79Z" fill="#f6c400" stroke="#2a2000" stroke-width="0.6"/>
<path d="M98.7 191.92L103.02 191.92L100.86 195.87Z" fill="#f6c400" stroke="#2a2000" stroke-width="0.6"/>
<path d="M107.41 190.7L111.73 190.7L109.57 194.65Z" fill="#f6c400" stroke="#2a2000" stroke-width="0.6"/>
<path d="M113.22 190.29L117.54 190.29L115.38 194.25Z" fill="#f6c400" stroke="#2a2000" stroke-width="0.6"/>
<path d="M119.02 188.67L123.34 188.67L121.18 192.62Z" fill="#f6c400" stroke="#2a2000" stroke-width="0.6"/>
<path d="M127.73 187.99L132.05 187.99L129.89 191.94Z" fill="#f6c400" stroke="#2a2000" stroke-width="0.6"/>
<path d="M133.54 186.5L137.86 186.5L135.7 190.45Z" fill="#f6c400" stroke="#2a2000" stroke-width="0.6"/>
<path d="M139.34 185.82L143.66 185.82L141.5 189.77Z" fill="#f6c400" stroke="#2a2000" stroke-width="0.6"/>
<path d="M148.05 186.22L152.37 186.22L150.21 190.18Z" fill="#f6c400" stroke="#2a2000" stroke-width="0.6"/>
<path d="M153.86 182.7L158.18 182.7L156.02 186.65Z" fill="#f6c400" stroke="#2a2000" stroke-width="0.6"/>
<path d="M159.67 182.97L163.99 182.97L161.83 186.92Z" fill="#f6c400" stroke="#2a2000" stroke-width="0.6"/>
<circle cx="48.61" cy="207.99" r="2.12" fill="#5a2a84" stroke="#1a1020" stroke-width="0.6"/>
<circle cx="54.41" cy="202.83" r="2.12" fill="#5a2a84" stroke="#1a1020" stroke-width="0.6"/>
<circle cx="60.22" cy="201.07" r="2.12" fill="#5a2a84" stroke="#1a1020" stroke-width="0.6"/>
<circle cx="71.83" cy="202.83" r="2.12" fill="#5a2a84" stroke="#1a1020" stroke-width="0.6"/>
<circle cx="74.74" cy="202.97" r="2.12" fill="#5a2a84" stroke="#1a1020" stroke-width="0.6"/>
<circle cx="80.54" cy="198.36" r="2.12" fill="#5a2a84" stroke="#1a1020" stroke-width="0.6"/>
<circle cx="89.25" cy="192.25" r="2.12" fill="#5a2a84" stroke="#1a1020" stroke-width="0.6"/>
<circle cx="95.06" cy="193.06" r="2.12" fill="#5a2a84" stroke="#1a1020" stroke-width="0.6"/>
<circle cx="100.86" cy="194.29" r="2.12" fill="#5a2a84" stroke="#1a1020" stroke-width="0.6"/>
<circle cx="109.57" cy="194.29" r="2.12" fill="#5a2a84" stroke="#1a1020" stroke-width="0.6"/>
<circle cx="115.38" cy="193.47" r="2.12" fill="#5a2a84" stroke="#1a1020" stroke-width="0.6"/>
<circle cx="121.18" cy="189.94" r="2.12" fill="#5a2a84" stroke="#1a1020" stroke-width="0.6"/>
<circle cx="129.89" cy="189.81" r="2.12" fill="#5a2a84" stroke="#1a1020" stroke-width="0.6"/>
<circle cx="135.7" cy="188.72" r="2.12" fill="#5a2a84" stroke="#1a1020" stroke-width="0.6"/>
<circle cx="141.5" cy="189.27" r="2.12" fill="#5a2a84" stroke="#1a1020" stroke-width="0.6"/>
<circle cx="150.21" cy="189.81" r="2.12" fill="#5a2a84" stroke="#1a1020" stroke-width="0.6"/>
<circle cx="156.02" cy="189.81" r="2.12" fill="#5a2a84" stroke="#1a1020" stroke-width="0.6"/>
<circle cx="161.83" cy="192.52" r="2.12" fill="#5a2a84" stroke="#1a1020" stroke-width="0.6"/>
<rect x="46.63" y="208.18" width="3.96" height="3.96" fill="#26457f" stroke="#1a1020" stroke-width="0.6"/>
<rect x="52.44" y="214.01" width="3.96" height="3.96" fill="#26457f" stroke="#1a1020" stroke-width="0.6"/>
<rect x="58.24" y="227.17" width="3.96" height="3.96" fill="#26457f" stroke="#1a1020" stroke-width="0.6"/>
<rect x="69.85" y="217.81" width="3.96" height="3.96" fill="#26457f" stroke="#1a1020" stroke-width="0.6"/>
<rect x="72.76" y="215.5" width="3.96" height="3.96" fill="#26457f" stroke="#1a1020" stroke-width="0.6"/>
<rect x="78.56" y="210.76" width="3.96" height="3.96" fill="#26457f" stroke="#1a1020" stroke-width="0.6"/>
<rect x="87.27" y="208.18" width="3.96" height="3.96" fill="#26457f" stroke="#1a1020" stroke-width="0.6"/>
<rect x="93.08" y="207.64" width="3.96" height="3.96" fill="#26457f" stroke="#1a1020" stroke-width="0.6"/>
<rect x="98.88" y="208.45" width="3.96" height="3.96" fill="#26457f" stroke="#1a1020" stroke-width="0.6"/>
<rect x="107.59" y="208.72" width="3.96" height="3.96" fill="#26457f" stroke="#1a1020" stroke-width="0.6"/>
<rect x="113.4" y="209.53" width="3.96" height="3.96" fill="#26457f" stroke="#1a1020" stroke-width="0.6"/>
<rect x="119.2" y="210.08" width="3.96" height="3.96" fill="#26457f" stroke="#1a1020" stroke-width="0.6"/>
<rect x="127.91" y="215.64" width="3.96" height="3.96" fill="#26457f" stroke="#1a1020" stroke-width="0.6"/>
<rect x="133.72" y="214.69" width="3.96" height="3.96" fill="#26457f" stroke="#1a1020" stroke-width="0.6"/>
<rect x="139.53" y="214.28" width="3.96" height="3.96" fill="#26457f" stroke="#1a1020" stroke-width="0.6"/>
<rect x="148.23" y="214.01" width="3.96" height="3.96" fill="#26457f" stroke="#1a1020" stroke-width="0.6"/>
<rect x="154.04" y="209.26" width="3.96" height="3.96" fill="#26457f" stroke="#1a1020" stroke-width="0.6"/>
<rect x="159.85" y="210.76" width="3.96" height="3.96" fill="#26457f" stroke="#1a1020" stroke-width="0.6"/>
<circle cx="48.61" cy="212.33" r="1.66" fill="#bf0029" stroke="#1a1020" stroke-width="0.6"/>
<circle cx="54.41" cy="224" r="1.66" fill="#bf0029" stroke="#1a1020" stroke-width="0.6"/>
<circle cx="60.22" cy="235.66" r="1.66" fill="#bf0029" stroke="#1a1020" stroke-width="0.6"/>
<circle cx="71.83" cy="225.22" r="1.66" fill="#bf0029" stroke="#1a1020" stroke-width="0.6"/>
<circle cx="74.74" cy="224" r="1.66" fill="#bf0029" stroke="#1a1020" stroke-width="0.6"/>
<circle cx="80.54" cy="220.6" r="1.66" fill="#bf0029" stroke="#1a1020" stroke-width="0.6"/>
<circle cx="89.25" cy="221.42" r="1.66" fill="#bf0029" stroke="#1a1020" stroke-width="0.6"/>
<circle cx="95.06" cy="221.83" r="1.66" fill="#bf0029" stroke="#1a1020" stroke-width="0.6"/>
<circle cx="100.86" cy="226.03" r="1.66" fill="#bf0029" stroke="#1a1020" stroke-width="0.6"/>
<circle cx="109.57" cy="229.69" r="1.66" fill="#bf0029" stroke="#1a1020" stroke-width="0.6"/>
<circle cx="115.38" cy="232.14" r="1.66" fill="#bf0029" stroke="#1a1020" stroke-width="0.6"/>
<circle cx="121.18" cy="235.12" r="1.66" fill="#bf0029" stroke="#1a1020" stroke-width="0.6"/>
<circle cx="129.89" cy="237.7" r="1.66" fill="#bf0029" stroke="#1a1020" stroke-width="0.6"/>
<circle cx="135.7" cy="237.56" r="1.66" fill="#bf0029" stroke="#1a1020" stroke-width="0.6"/>
<circle cx="141.5" cy="237.16" r="1.66" fill="#bf0029" stroke="#1a1020" stroke-width="0.6"/>
<circle cx="150.21" cy="232.68" r="1.66" fill="#bf0029" stroke="#1a1020" stroke-width="0.6"/>
<circle cx="156.02" cy="234.31" r="1.66" fill="#bf0029" stroke="#1a1020" stroke-width="0.6"/>
<circle cx="161.83" cy="236.88" r="1.66" fill="#bf0029" stroke="#1a1020" stroke-width="0.6"/>
<line x1="165.9" y1="216.9" x2="174.5" y2="223.8" stroke="#111" stroke-width="1.1"/>
<line x1="165.2" y1="237.3" x2="174.5" y2="229.4" stroke="#111" stroke-width="1.1"/>
<text transform="translate(181.8,231.2)" font-size="8.4" text-anchor="middle" font-weight="normal" fill="#111">****</text>
<line x1="30.8" y1="293.6" x2="40" y2="293.6" stroke="#77569b" stroke-width="1.1"/>
<circle cx="35.4" cy="293.6" r="2.25" fill="#5a2a84" stroke="#1a1020" stroke-width="0.6"/>
<text transform="translate(43.4,295.9) scale(0.97,1)" font-size="7.9" text-anchor="start" font-weight="normal" fill="#111">WT BM</text>
<line x1="99.4" y1="293.6" x2="107.8" y2="293.6" stroke="#c62f53" stroke-width="1.1"/>
<path d="M103.6 291.31L105.9 293.6L103.6 295.9L101.31 293.6Z" fill="#bf0029" stroke="#1a1020" stroke-width="0.6"/>
<text transform="translate(111.2,295.9) scale(0.97,1)" font-size="7.9" text-anchor="start" font-weight="normal" fill="#111">WT BM + T</text>
<line x1="30.8" y1="305.3" x2="40" y2="305.3" stroke="#f3c94a" stroke-width="1.1"/>
<path d="M32.78 303.25L38.02 303.25L35.4 308.06Z" fill="#f6c400" stroke="#2a2000" stroke-width="0.6"/>
<text transform="translate(43.4,307.6) scale(0.97,1)" font-size="7.9" text-anchor="start" font-weight="normal" fill="#111">GM-CSF<tspan font-size="4.8" dy="-3.1">-/-</tspan><tspan dy="3.1"> </tspan>BM</text>
<line x1="99.4" y1="305.3" x2="107.8" y2="305.3" stroke="#5072aa" stroke-width="1.1"/>
<rect x="101.62" y="303.32" width="3.96" height="3.96" fill="#26457f" stroke="#1a1020" stroke-width="0.6"/>
<text transform="translate(111.2,307.6) scale(0.97,1)" font-size="7.9" text-anchor="start" font-weight="normal" fill="#111">GM-CSF<tspan font-size="4.8" dy="-3.1">-/-</tspan><tspan dy="3.1"> </tspan>BM + T</text>
<line x1="283.5" y1="169.1" x2="283.5" y2="253.9" stroke="#222" stroke-width="1.2"/>
<line x1="282.9" y1="253.3" x2="409.4" y2="253.3" stroke="#222" stroke-width="1.2"/>
<line x1="280.7" y1="253.3" x2="283.5" y2="253.3" stroke="#222" stroke-width="1"/>
<text transform="translate(278.3,256.3)" font-size="8.6" text-anchor="end" font-weight="normal" fill="#222">0</text>
<line x1="280.7" y1="236.94" x2="283.5" y2="236.94" stroke="#222" stroke-width="1"/>
<text transform="translate(278.3,239.94)" font-size="8.6" text-anchor="end" font-weight="normal" fill="#222">20</text>
<line x1="280.7" y1="220.58" x2="283.5" y2="220.58" stroke="#222" stroke-width="1"/>
<text transform="translate(278.3,223.58)" font-size="8.6" text-anchor="end" font-weight="normal" fill="#222">40</text>
<line x1="280.7" y1="204.22" x2="283.5" y2="204.22" stroke="#222" stroke-width="1"/>
<text transform="translate(278.3,207.22)" font-size="8.6" text-anchor="end" font-weight="normal" fill="#222">60</text>
<line x1="280.7" y1="187.86" x2="283.5" y2="187.86" stroke="#222" stroke-width="1"/>
<text transform="translate(278.3,190.86)" font-size="8.6" text-anchor="end" font-weight="normal" fill="#222">80</text>
<line x1="280.7" y1="171.5" x2="283.5" y2="171.5" stroke="#222" stroke-width="1"/>
<text transform="translate(278.3,174.5)" font-size="8.6" text-anchor="end" font-weight="normal" fill="#222">100</text>
<line x1="283.5" y1="253.3" x2="283.5" y2="256.3" stroke="#222" stroke-width="1"/>
<text transform="translate(283.5,266.6)" font-size="8.6" text-anchor="middle" font-weight="normal" fill="#222">0</text>
<line x1="324.4" y1="253.3" x2="324.4" y2="256.3" stroke="#222" stroke-width="1"/>
<text transform="translate(324.4,266.6)" font-size="8.6" text-anchor="middle" font-weight="normal" fill="#222">20</text>
<line x1="365.3" y1="253.3" x2="365.3" y2="256.3" stroke="#222" stroke-width="1"/>
<text transform="translate(365.3,266.6)" font-size="8.6" text-anchor="middle" font-weight="normal" fill="#222">40</text>
<line x1="406.2" y1="253.3" x2="406.2" y2="256.3" stroke="#222" stroke-width="1"/>
<text transform="translate(406.2,266.6)" font-size="8.6" text-anchor="middle" font-weight="normal" fill="#222">60</text>
<text transform="translate(258.2,211.2) rotate(-90)" font-size="9.2" text-anchor="middle" font-weight="normal" fill="#222" textLength="52" lengthAdjust="spacingAndGlyphs">Percent survival</text>
<text transform="translate(312.8,279.7)" font-size="11" text-anchor="start" font-weight="normal" fill="#222" textLength="67.6" lengthAdjust="spacingAndGlyphs">Days post-transplant</text>
<polyline points="283.5,171.5 310.08,171.5 310.08,174.77 332.58,174.77 332.58,178.04 336.67,178.04 336.67,181.32 338.71,181.32 338.71,184.59 348.94,184.59 348.94,187.86 350.99,187.86 350.99,191.13 353.03,191.13 353.03,194.4 355.07,194.4 355.07,200.95 359.16,200.95 359.16,207.49 361.21,207.49 361.21,210.76 363.25,210.76 363.25,214.04 383.7,214.04 383.7,217.31 387.8,217.31 387.8,220.58 406.2,220.58" fill="none" stroke="#5072aa" stroke-width="1.25" stroke-linejoin="miter"/>
<polyline points="283.5,171.5 306,171.5 306,177.72 312.13,177.72 312.13,182.13 322.36,182.13 322.36,185.16 324.4,185.16 324.4,194.98 330.53,194.98 330.53,204.22 333.81,204.22 333.81,207.08 340.76,207.08 340.76,210.76 342.81,210.76 342.81,217.31 344.85,217.31 344.85,220.83 353.03,220.83 353.03,224.26 383.7,224.26 383.7,230.4 389.84,230.4 389.84,234.08 406.2,234.08" fill="none" stroke="#7cc65a" stroke-width="1.25" stroke-linejoin="miter"/>
<polyline points="283.5,171.5 299.86,171.5 299.86,175.59 301.9,175.59 301.9,179.68 324.4,179.68 324.4,191.95 326.44,191.95 326.44,196.04 330.53,196.04 330.53,204.22 332.58,204.22 332.58,208.31 336.67,208.31 336.67,216.49 340.76,216.49 340.76,220.58 342.81,220.58 342.81,228.76 344.85,228.76 344.85,236.94 346.89,236.94 346.89,241.03 357.12,241.03 357.12,245.12 406.2,245.12" fill="none" stroke="#c62f53" stroke-width="1.25" stroke-linejoin="miter"/>
<polyline points="283.5,171.5 361.21,171.5 361.21,176.98 406.2,176.98" fill="none" stroke="#77569b" stroke-width="1.25" stroke-linejoin="miter"/>
<rect x="307.88" y="172.57" width="4.4" height="4.4" fill="#26457f" stroke="#1a1020" stroke-width="0.6"/>
<rect x="330.38" y="175.84" width="4.4" height="4.4" fill="#26457f" stroke="#1a1020" stroke-width="0.6"/>
<rect x="334.47" y="179.12" width="4.4" height="4.4" fill="#26457f" stroke="#1a1020" stroke-width="0.6"/>
<rect x="336.51" y="182.39" width="4.4" height="4.4" fill="#26457f" stroke="#1a1020" stroke-width="0.6"/>
<rect x="346.74" y="185.66" width="4.4" height="4.4" fill="#26457f" stroke="#1a1020" stroke-width="0.6"/>
<rect x="348.79" y="188.93" width="4.4" height="4.4" fill="#26457f" stroke="#1a1020" stroke-width="0.6"/>
<rect x="350.83" y="192.2" width="4.4" height="4.4" fill="#26457f" stroke="#1a1020" stroke-width="0.6"/>
<rect x="352.88" y="198.75" width="4.4" height="4.4" fill="#26457f" stroke="#1a1020" stroke-width="0.6"/>
<rect x="356.96" y="205.29" width="4.4" height="4.4" fill="#26457f" stroke="#1a1020" stroke-width="0.6"/>
<rect x="359.01" y="208.56" width="4.4" height="4.4" fill="#26457f" stroke="#1a1020" stroke-width="0.6"/>
<rect x="361.06" y="211.84" width="4.4" height="4.4" fill="#26457f" stroke="#1a1020" stroke-width="0.6"/>
<rect x="381.5" y="215.11" width="4.4" height="4.4" fill="#26457f" stroke="#1a1020" stroke-width="0.6"/>
<rect x="385.6" y="218.38" width="4.4" height="4.4" fill="#26457f" stroke="#1a1020" stroke-width="0.6"/>
<rect x="404" y="218.38" width="4.4" height="4.4" fill="#26457f" stroke="#1a1020" stroke-width="0.6"/>
<path d="M303.19 179.82L308.8 179.82L306 175.06Z" fill="#5fbf45" stroke="#1d4a12" stroke-width="0.5"/>
<path d="M309.33 184.23L314.93 184.23L312.13 179.47Z" fill="#5fbf45" stroke="#1d4a12" stroke-width="0.5"/>
<path d="M319.56 187.26L325.16 187.26L322.36 182.5Z" fill="#5fbf45" stroke="#1d4a12" stroke-width="0.5"/>
<path d="M331.01 209.18L336.61 209.18L333.81 204.42Z" fill="#5fbf45" stroke="#1d4a12" stroke-width="0.5"/>
<path d="M337.96 212.86L343.56 212.86L340.76 208.1Z" fill="#5fbf45" stroke="#1d4a12" stroke-width="0.5"/>
<path d="M340 219.41L345.61 219.41L342.81 214.65Z" fill="#5fbf45" stroke="#1d4a12" stroke-width="0.5"/>
<path d="M342.05 222.93L347.65 222.93L344.85 218.17Z" fill="#5fbf45" stroke="#1d4a12" stroke-width="0.5"/>
<path d="M350.23 226.36L355.83 226.36L353.03 221.6Z" fill="#5fbf45" stroke="#1d4a12" stroke-width="0.5"/>
<path d="M380.9 232.5L386.5 232.5L383.7 227.74Z" fill="#5fbf45" stroke="#1d4a12" stroke-width="0.5"/>
<path d="M387.04 236.18L392.64 236.18L389.84 231.42Z" fill="#5fbf45" stroke="#1d4a12" stroke-width="0.5"/>
<path d="M403.4 236.18L409 236.18L406.2 231.42Z" fill="#5fbf45" stroke="#1d4a12" stroke-width="0.5"/>
<path d="M403.4 236.18L409 236.18L406.2 231.42Z" fill="#5fbf45" stroke="#1d4a12" stroke-width="0.5"/>
<path d="M299.86 173.04L302.41 175.59L299.86 178.14L297.31 175.59Z" fill="#bf0029" stroke="#1a1020" stroke-width="0.6"/>
<path d="M301.9 177.13L304.45 179.68L301.9 182.23L299.35 179.68Z" fill="#bf0029" stroke="#1a1020" stroke-width="0.6"/>
<path d="M324.4 189.4L326.95 191.95L324.4 194.5L321.85 191.95Z" fill="#bf0029" stroke="#1a1020" stroke-width="0.6"/>
<path d="M326.44 193.49L329 196.04L326.44 198.59L323.89 196.04Z" fill="#bf0029" stroke="#1a1020" stroke-width="0.6"/>
<path d="M330.53 201.67L333.08 204.22L330.53 206.77L327.98 204.22Z" fill="#bf0029" stroke="#1a1020" stroke-width="0.6"/>
<path d="M332.58 205.76L335.13 208.31L332.58 210.86L330.03 208.31Z" fill="#bf0029" stroke="#1a1020" stroke-width="0.6"/>
<path d="M336.67 213.94L339.22 216.49L336.67 219.04L334.12 216.49Z" fill="#bf0029" stroke="#1a1020" stroke-width="0.6"/>
<path d="M340.76 218.03L343.31 220.58L340.76 223.13L338.21 220.58Z" fill="#bf0029" stroke="#1a1020" stroke-width="0.6"/>
<path d="M342.81 226.21L345.36 228.76L342.81 231.31L340.25 228.76Z" fill="#bf0029" stroke="#1a1020" stroke-width="0.6"/>
<path d="M344.85 234.39L347.4 236.94L344.85 239.49L342.3 236.94Z" fill="#bf0029" stroke="#1a1020" stroke-width="0.6"/>
<path d="M346.89 238.48L349.44 241.03L346.89 243.58L344.34 241.03Z" fill="#bf0029" stroke="#1a1020" stroke-width="0.6"/>
<path d="M357.12 242.57L359.67 245.12L357.12 247.67L354.57 245.12Z" fill="#bf0029" stroke="#1a1020" stroke-width="0.6"/>
<path d="M406.2 242.57L408.75 245.12L406.2 247.67L403.65 245.12Z" fill="#bf0029" stroke="#1a1020" stroke-width="0.6"/>
<circle cx="361.21" cy="176.98" r="2.5" fill="#5a2a84" stroke="#1a1020" stroke-width="0.6"/>
<circle cx="406.2" cy="176.98" r="2.5" fill="#5a2a84" stroke="#1a1020" stroke-width="0.6"/>
<line x1="410.4" y1="222.5" x2="414.8" y2="230.2" stroke="#111" stroke-width="1.1"/>
<line x1="409.6" y1="244.2" x2="414.4" y2="236.5" stroke="#111" stroke-width="1.1"/>
<text transform="translate(422.5,238.5)" font-size="8.4" text-anchor="middle" font-weight="normal" fill="#111">****</text>
<line x1="269.6" y1="294" x2="277.3" y2="294" stroke="#77569b" stroke-width="1.1"/>
<circle cx="273.45" cy="294" r="2.25" fill="#5a2a84" stroke="#1a1020" stroke-width="0.6"/>
<text transform="translate(280.7,296.3) scale(0.97,1)" font-size="7.9" text-anchor="start" font-weight="normal" fill="#111">WT BM</text>
<line x1="340.8" y1="294" x2="348.5" y2="294" stroke="#7cc65a" stroke-width="1.1"/>
<path d="M341.93 296.04L347.37 296.04L344.65 291.41Z" fill="#5fbf45" stroke="#1d4a12" stroke-width="0.5"/>
<text transform="translate(351.9,296.3) scale(0.97,1)" font-size="7.9" text-anchor="start" font-weight="normal" fill="#111">GM-CSF<tspan font-size="4.8" dy="-3.1">-/-</tspan><tspan dy="3.1"> </tspan>BM / WT T</text>
<line x1="269.6" y1="305.6" x2="277.3" y2="305.6" stroke="#c62f53" stroke-width="1.1"/>
<path d="M273.45 303.31L275.75 305.6L273.45 307.9L271.16 305.6Z" fill="#bf0029" stroke="#1a1020" stroke-width="0.6"/>
<text transform="translate(280.7,307.9) scale(0.97,1)" font-size="7.9" text-anchor="start" font-weight="normal" fill="#111">WT BM / WT T</text>
<line x1="340.8" y1="305.6" x2="348.5" y2="305.6" stroke="#5072aa" stroke-width="1.1"/>
<rect x="342.67" y="303.62" width="3.96" height="3.96" fill="#26457f" stroke="#1a1020" stroke-width="0.6"/>
<text transform="translate(351.9,307.9) scale(0.97,1)" font-size="7.9" text-anchor="start" font-weight="normal" fill="#111">WT BM / GM-CSF<tspan font-size="4.8" dy="-3.1">-/-</tspan><tspan dy="3.1"> </tspan>T</text>
<defs><filter id="gL1" x="0" y="0" width="100%" height="100%" color-interpolation-filters="sRGB"><feTurbulence type="fractalNoise" baseFrequency="0.75" numOctaves="2" seed="3" result="n"/><feColorMatrix in="n" type="matrix" values="0.32 0.12 0 0 0.455  0.32 0 0 0 0.201  0.32 -0.12 0 0 0.563  0 0 0 0 1"/><feComposite in2="SourceGraphic" operator="in"/></filter><filter id="gL2" x="0" y="0" width="100%" height="100%" color-interpolation-filters="sRGB"><feTurbulence type="fractalNoise" baseFrequency="0.75" numOctaves="2" seed="5" result="n"/><feColorMatrix in="n" type="matrix" values="0.32 0.12 0 0 0.431  0.32 0 0 0 0.185  0.32 -0.12 0 0 0.555  0 0 0 0 1"/><feComposite in2="SourceGraphic" operator="in"/></filter><filter id="gU" x="0" y="0" width="100%" height="100%" color-interpolation-filters="sRGB"><feTurbulence type="fractalNoise" baseFrequency="0.6" numOctaves="2" seed="7" result="n"/><feColorMatrix in="n" type="matrix" values="0.42 0.14 0 0 0.300  0.42 0 0 0 0.135  0.42 -0.14 0 0 0.550  0 0 0 0 1"/><feComposite in2="SourceGraphic" operator="in"/></filter><filter id="gC1" x="0" y="0" width="100%" height="100%" color-interpolation-filters="sRGB"><feTurbulence type="fractalNoise" baseFrequency="0.5" numOctaves="2" seed="9" result="n"/><feColorMatrix in="n" type="matrix" values="0.4 0.1 0 0 0.291  0.4 0 0 0 0.114  0.4 -0.1 0 0 0.485  0 0 0 0 1"/><feComposite in2="SourceGraphic" operator="in"/></filter><filter id="gC1b" x="0" y="0" width="100%" height="100%" color-interpolation-filters="sRGB"><feTurbulence type="fractalNoise" baseFrequency="0.6" numOctaves="2" seed="13" result="n"/><feColorMatrix in="n" type="matrix" values="0.45 0 0 0 0.442  0.45 0 0 0 0.308  0.45 -0 0 0 0.536  0 0 0 0 1"/><feComposite in2="SourceGraphic" operator="in"/></filter><filter id="gC2" x="0" y="0" width="100%" height="100%" color-interpolation-filters="sRGB"><feTurbulence type="fractalNoise" baseFrequency="0.6" numOctaves="2" seed="11" result="n"/><feColorMatrix in="n" type="matrix" values="0.3 0 0 0 0.654  0.3 0 0 0 0.611  0.3 -0 0 0 0.721  0 0 0 0 1"/><feComposite in2="SourceGraphic" operator="in"/></filter><filter id="gP" x="0" y="0" width="100%" height="100%" color-interpolation-filters="sRGB"><feTurbulence type="fractalNoise" baseFrequency="0.6" numOctaves="2" seed="17" result="n"/><feColorMatrix in="n" type="matrix" values="0.3 0 0 0 0.685  0.3 0 0 0 0.485  0.3 -0 0 0 0.650  0 0 0 0 1"/><feComposite in2="SourceGraphic" operator="in"/></filter><clipPath id="cLW"><rect x="19.5" y="347.5" width="69.5" height="48.5"/></clipPath><clipPath id="cLG"><rect x="19.5" y="396" width="69.5" height="50.5"/></clipPath><clipPath id="cUW"><rect x="89" y="347.5" width="72" height="48.5"/></clipPath><clipPath id="cUG"><rect x="89" y="396" width="72" height="50.5"/></clipPath><clipPath id="cCW"><rect x="161" y="347.5" width="69.3" height="48.5"/></clipPath><clipPath id="cCG"><rect x="161" y="402" width="69.3" height="44.6"/></clipPath></defs>
<g clip-path="url(#cLW)">
<rect x="19.5" y="347.5" width="69.5" height="48.5" fill="#fff" filter="url(#gL1)"/>
<path d="M50.5 372.5 C56 369 61 374 66 378 C71 381 78 377 84 375.5 C86 375 88 374.5 90 374 L90 377.5 C86 378.5 80 380 75 382.5 C70 384.5 65 383 61 380.5 C57 378 54 376.5 51 376 Z" fill="#8a68aa" opacity="0.85"/>
<path d="M53 375 C58 374 62 377 66 380" fill="none" stroke="#c7b5d8" stroke-width="0.8"/>
<ellipse cx="68.9" cy="372.3" rx="4.7" ry="5.2" fill="#8d6aa9"/>
<ellipse cx="68.9" cy="372.3" rx="4.0" ry="4.5" fill="#f0ecf1"/>
</g>
<g clip-path="url(#cLG)">
<rect x="19.5" y="396" width="69.5" height="50.5" fill="#fff" filter="url(#gL2)"/>
<rect x="19.5" y="396" width="69.5" height="3.2" fill="#7e3f8c" opacity="0.35"/>
<path d="M60 410 C65 410 71 416 73 423 C75 431 72 437 67 438 C63 438 60 433 59 428 C58 421 57 413 60 410Z" fill="#8562a6" opacity="0.3"/>

<path d="M45 435.8 Q44.8 440.4 48.4 439.2 L57.2 431.4 Q61 430.8 64.4 432.2 L65.4 430.8 L60.6 427.2 Q65.8 419.5 66.8 413 Q66.4 410 63.6 411.6 Q55.5 419.5 47 431.6 Q45.4 433.6 45 435.8Z" fill="#eeecef"/>
<path d="M65.2 405.5 L67.8 400.8 L69.2 401.6 L67 406.2Z" fill="#eeecef"/>
</g>
<g clip-path="url(#cUW)">
<rect x="89" y="347.5" width="72" height="48.5" fill="#fff" filter="url(#gU)"/>
<g fill="#d9d8dc"><ellipse cx="155.54" cy="370.08" rx="1.76" ry="1.58" transform="rotate(47 155.54 370.08)"/><ellipse cx="146.88" cy="370.57" rx="1.94" ry="1.35" transform="rotate(114 146.88 370.57)"/><ellipse cx="110.84" cy="351.9" rx="2.28" ry="2.16" transform="rotate(10 110.84 351.9)"/><ellipse cx="131.87" cy="366.71" rx="1.67" ry="1.62" transform="rotate(166 131.87 366.71)"/><ellipse cx="100.34" cy="348.23" rx="1.8" ry="1.13" transform="rotate(48 100.34 348.23)"/><ellipse cx="152.33" cy="376.58" rx="2.22" ry="1.7" transform="rotate(151 152.33 376.58)"/><ellipse cx="149.65" cy="372.68" rx="1.99" ry="1.69" transform="rotate(169 149.65 372.68)"/><ellipse cx="95.12" cy="379.26" rx="1.59" ry="1.39" transform="rotate(21 95.12 379.26)"/><ellipse cx="139.96" cy="362.79" rx="1.29" ry="0.96" transform="rotate(17 139.96 362.79)"/><ellipse cx="129.55" cy="352.73" rx="1.08" ry="0.81" transform="rotate(17 129.55 352.73)"/><ellipse cx="157.98" cy="388.59" rx="0.9" ry="0.64" transform="rotate(13 157.98 388.59)"/><ellipse cx="122.84" cy="395.05" rx="1.58" ry="1" transform="rotate(161 122.84 395.05)"/><ellipse cx="103.29" cy="380.23" rx="1.47" ry="1.11" transform="rotate(3 103.29 380.23)"/><ellipse cx="158.41" cy="384.26" rx="1.1" ry="0.8" transform="rotate(25 158.41 384.26)"/><ellipse cx="89.79" cy="370.05" rx="1.73" ry="1.63" transform="rotate(48 89.79 370.05)"/><ellipse cx="121.21" cy="356.75" rx="2.14" ry="1.43" transform="rotate(164 121.21 356.75)"/><ellipse cx="160.28" cy="347.52" rx="2.37" ry="2.58" transform="rotate(151 160.28 347.52)"/><ellipse cx="110.9" cy="390.42" rx="1.26" ry="1" transform="rotate(154 110.9 390.42)"/><ellipse cx="135.21" cy="352.37" rx="2.58" ry="1.82" transform="rotate(66 135.21 352.37)"/><ellipse cx="89.69" cy="377.1" rx="2.31" ry="1.83" transform="rotate(19 89.69 377.1)"/><ellipse cx="95.49" cy="375.76" rx="1.31" ry="1.18" transform="rotate(95 95.49 375.76)"/><ellipse cx="133.79" cy="353.67" rx="1.9" ry="1.93" transform="rotate(34 133.79 353.67)"/><ellipse cx="151.39" cy="356.37" rx="1.16" ry="1.23" transform="rotate(156 151.39 356.37)"/><ellipse cx="106.96" cy="356.71" rx="2.16" ry="2.31" transform="rotate(50 106.96 356.71)"/><ellipse cx="138.46" cy="366.33" rx="1.72" ry="1.1" transform="rotate(12 138.46 366.33)"/><ellipse cx="96.48" cy="349.38" rx="2.54" ry="1.82" transform="rotate(180 96.48 349.38)"/><ellipse cx="154.15" cy="371.31" rx="1.78" ry="1.9" transform="rotate(17 154.15 371.31)"/><ellipse cx="98.1" cy="370.75" rx="2.01" ry="1.83" transform="rotate(18 98.1 370.75)"/><ellipse cx="109.18" cy="391.99" rx="1.25" ry="0.76" transform="rotate(68 109.18 391.99)"/><ellipse cx="92.36" cy="361.18" rx="1.8" ry="1.96" transform="rotate(23 92.36 361.18)"/><ellipse cx="115.07" cy="390.71" rx="2.57" ry="2.38" transform="rotate(176 115.07 390.71)"/><ellipse cx="126.58" cy="393.42" rx="1.9" ry="2.02" transform="rotate(121 126.58 393.42)"/><ellipse cx="154.54" cy="381.5" rx="2.54" ry="1.55" transform="rotate(162 154.54 381.5)"/><ellipse cx="94.39" cy="350.76" rx="1.43" ry="0.95" transform="rotate(18 94.39 350.76)"/><ellipse cx="94.42" cy="373.99" rx="2.15" ry="2.26" transform="rotate(180 94.42 373.99)"/><ellipse cx="98.33" cy="394.22" rx="1.48" ry="0.95" transform="rotate(121 98.33 394.22)"/><ellipse cx="153.86" cy="389.75" rx="1.61" ry="1.6" transform="rotate(127 153.86 389.75)"/><ellipse cx="130.24" cy="377.81" rx="1.55" ry="1.38" transform="rotate(155 130.24 377.81)"/><ellipse cx="94.2" cy="351.9" rx="1.1" ry="0.8" transform="rotate(106 94.2 351.9)"/><ellipse cx="141.43" cy="366.34" rx="2.15" ry="1.91" transform="rotate(112 141.43 366.34)"/><ellipse cx="111.34" cy="351.76" rx="0.94" ry="1.01" transform="rotate(28 111.34 351.76)"/><ellipse cx="124.8" cy="377.3" rx="2.46" ry="1.79" transform="rotate(2 124.8 377.3)"/><ellipse cx="115.49" cy="354.45" rx="1.94" ry="1.67" transform="rotate(87 115.49 354.45)"/><ellipse cx="136.52" cy="368.93" rx="2.42" ry="1.84" transform="rotate(170 136.52 368.93)"/><ellipse cx="146.87" cy="384.1" rx="1.24" ry="0.88" transform="rotate(56 146.87 384.1)"/><ellipse cx="130.98" cy="362.85" rx="1.13" ry="0.96" transform="rotate(10 130.98 362.85)"/><ellipse cx="140.21" cy="393.58" rx="1.37" ry="0.94" transform="rotate(115 140.21 393.58)"/><ellipse cx="122.94" cy="392.4" rx="2.31" ry="1.83" transform="rotate(133 122.94 392.4)"/><ellipse cx="149.42" cy="395.13" rx="1.67" ry="1.06" transform="rotate(8 149.42 395.13)"/><ellipse cx="137.83" cy="361.13" rx="1.5" ry="1.39" transform="rotate(144 137.83 361.13)"/><ellipse cx="90.38" cy="354.09" rx="1.67" ry="1.02" transform="rotate(68 90.38 354.09)"/><ellipse cx="106.09" cy="354.33" rx="0.98" ry="0.9" transform="rotate(114 106.09 354.33)"/><ellipse cx="96.85" cy="373.47" rx="1.99" ry="1.56" transform="rotate(19 96.85 373.47)"/><ellipse cx="138.28" cy="357.17" rx="1.71" ry="1.18" transform="rotate(2 138.28 357.17)"/><ellipse cx="143.36" cy="373.44" rx="0.96" ry="0.69" transform="rotate(88 143.36 373.44)"/><ellipse cx="127.86" cy="393.42" rx="1.75" ry="1.92" transform="rotate(40 127.86 393.42)"/><ellipse cx="117.33" cy="385.91" rx="2.44" ry="1.57" transform="rotate(99 117.33 385.91)"/><ellipse cx="98.35" cy="369.5" rx="1.96" ry="2.07" transform="rotate(96 98.35 369.5)"/><ellipse cx="128.6" cy="379.15" rx="1.75" ry="1.77" transform="rotate(87 128.6 379.15)"/><ellipse cx="103.75" cy="382.51" rx="2.29" ry="2.11" transform="rotate(31 103.75 382.51)"/><ellipse cx="104.36" cy="391.15" rx="2.57" ry="2.79" transform="rotate(137 104.36 391.15)"/><ellipse cx="159.33" cy="392.72" rx="1.35" ry="1.29" transform="rotate(4 159.33 392.72)"/><ellipse cx="114.09" cy="351.51" rx="1.65" ry="1.44" transform="rotate(70 114.09 351.51)"/><ellipse cx="124.1" cy="348.88" rx="2.28" ry="1.44" transform="rotate(8 124.1 348.88)"/><ellipse cx="145.73" cy="354.31" rx="1.15" ry="0.99" transform="rotate(132 145.73 354.31)"/><ellipse cx="149.48" cy="380.93" rx="2.51" ry="2.12" transform="rotate(176 149.48 380.93)"/><ellipse cx="95.19" cy="358.24" rx="1.8" ry="1.34" transform="rotate(143 95.19 358.24)"/><ellipse cx="135" cy="372.85" rx="2.33" ry="2.05" transform="rotate(79 135 372.85)"/><ellipse cx="137.33" cy="393.81" rx="2.38" ry="2.15" transform="rotate(77 137.33 393.81)"/><ellipse cx="150.26" cy="394.47" rx="1.79" ry="1.59" transform="rotate(51 150.26 394.47)"/><ellipse cx="118.6" cy="353.04" rx="0.91" ry="0.72" transform="rotate(137 118.6 353.04)"/><ellipse cx="158.8" cy="372.53" rx="1.58" ry="1.58" transform="rotate(144 158.8 372.53)"/><ellipse cx="97.78" cy="352.02" rx="1.18" ry="1.26" transform="rotate(117 97.78 352.02)"/><ellipse cx="118.79" cy="393.91" rx="2.47" ry="1.81" transform="rotate(121 118.79 393.91)"/><ellipse cx="153.86" cy="392.88" rx="2.46" ry="2.13" transform="rotate(27 153.86 392.88)"/><ellipse cx="155.62" cy="353.78" rx="2.22" ry="1.36" transform="rotate(49 155.62 353.78)"/><ellipse cx="100.2" cy="348.07" rx="1.38" ry="1.33" transform="rotate(62 100.2 348.07)"/><ellipse cx="133.62" cy="352.59" rx="2.14" ry="1.42" transform="rotate(130 133.62 352.59)"/><ellipse cx="133.89" cy="382.31" rx="2.09" ry="2.17" transform="rotate(5 133.89 382.31)"/><ellipse cx="127.11" cy="355.25" rx="1.25" ry="1.14" transform="rotate(163 127.11 355.25)"/><ellipse cx="104.72" cy="357.98" rx="1.82" ry="1.63" transform="rotate(34 104.72 357.98)"/><ellipse cx="105.75" cy="383.43" rx="2.28" ry="2.39" transform="rotate(80 105.75 383.43)"/><ellipse cx="132.43" cy="390.7" rx="1.23" ry="1.22" transform="rotate(49 132.43 390.7)"/><ellipse cx="152.9" cy="354" rx="1.31" ry="1.26" transform="rotate(66 152.9 354)"/><ellipse cx="156.77" cy="373.85" rx="2.1" ry="1.47" transform="rotate(160 156.77 373.85)"/><ellipse cx="138.34" cy="348.36" rx="1.24" ry="1.17" transform="rotate(92 138.34 348.36)"/><ellipse cx="97.31" cy="372.03" rx="2.19" ry="1.86" transform="rotate(175 97.31 372.03)"/><ellipse cx="148.97" cy="386.44" rx="1.72" ry="1.05" transform="rotate(141 148.97 386.44)"/><ellipse cx="133.16" cy="391.4" rx="1.72" ry="1.19" transform="rotate(29 133.16 391.4)"/><ellipse cx="103.68" cy="388.25" rx="2.58" ry="2.75" transform="rotate(24 103.68 388.25)"/><ellipse cx="130.74" cy="354.02" rx="2.06" ry="1.31" transform="rotate(24 130.74 354.02)"/><ellipse cx="132.27" cy="348.14" rx="2.09" ry="2.14" transform="rotate(46 132.27 348.14)"/><ellipse cx="115.65" cy="392.21" rx="1.93" ry="1.25" transform="rotate(3 115.65 392.21)"/><ellipse cx="112.31" cy="351.61" rx="2.33" ry="2.42" transform="rotate(161 112.31 351.61)"/><ellipse cx="156.65" cy="375.13" rx="1.22" ry="1.09" transform="rotate(87 156.65 375.13)"/><ellipse cx="146.95" cy="360.03" rx="2.45" ry="2.38" transform="rotate(40 146.95 360.03)"/><ellipse cx="147.65" cy="367.17" rx="2.42" ry="2.52" transform="rotate(177 147.65 367.17)"/><ellipse cx="102.07" cy="357.53" rx="1.21" ry="1.21" transform="rotate(77 102.07 357.53)"/><ellipse cx="122.76" cy="348.01" rx="1.5" ry="1.38" transform="rotate(159 122.76 348.01)"/><ellipse cx="92.57" cy="360.74" rx="2.53" ry="1.9" transform="rotate(55 92.57 360.74)"/><ellipse cx="136.5" cy="375.12" rx="1.81" ry="1.44" transform="rotate(127 136.5 375.12)"/><ellipse cx="135.24" cy="381.51" rx="2.19" ry="2.39" transform="rotate(5 135.24 381.51)"/><ellipse cx="97.26" cy="352.74" rx="1.3" ry="1.07" transform="rotate(129 97.26 352.74)"/><ellipse cx="92.63" cy="356.98" rx="1.54" ry="1" transform="rotate(64 92.63 356.98)"/><ellipse cx="127.92" cy="367.66" rx="1.79" ry="1.83" transform="rotate(25 127.92 367.66)"/><ellipse cx="134.94" cy="386.76" rx="1.03" ry="0.93" transform="rotate(11 134.94 386.76)"/><ellipse cx="116.82" cy="393.02" rx="1.56" ry="1.69" transform="rotate(126 116.82 393.02)"/><ellipse cx="128.02" cy="376.43" rx="1.63" ry="1.38" transform="rotate(72 128.02 376.43)"/><ellipse cx="126.93" cy="376.49" rx="1.52" ry="1.13" transform="rotate(167 126.93 376.49)"/><ellipse cx="108.42" cy="392.58" rx="2.03" ry="1.98" transform="rotate(6 108.42 392.58)"/><ellipse cx="90.01" cy="359.38" rx="0.97" ry="0.66" transform="rotate(175 90.01 359.38)"/><ellipse cx="117.08" cy="391.03" rx="2.17" ry="1.36" transform="rotate(81 117.08 391.03)"/><ellipse cx="94.29" cy="391.42" rx="1.63" ry="1.37" transform="rotate(62 94.29 391.42)"/><ellipse cx="92.27" cy="352.28" rx="2.28" ry="2.4" transform="rotate(36 92.27 352.28)"/><ellipse cx="159.48" cy="387.11" rx="1.93" ry="1.27" transform="rotate(159 159.48 387.11)"/><ellipse cx="119.04" cy="353.22" rx="2.36" ry="1.84" transform="rotate(39 119.04 353.22)"/><ellipse cx="97.95" cy="368.98" rx="2.04" ry="1.68" transform="rotate(67 97.95 368.98)"/><ellipse cx="135.05" cy="380.58" rx="1.52" ry="1.48" transform="rotate(35 135.05 380.58)"/><ellipse cx="157.59" cy="383.11" rx="1.31" ry="0.86" transform="rotate(79 157.59 383.11)"/><ellipse cx="145.47" cy="377.81" rx="1.51" ry="1.11" transform="rotate(175 145.47 377.81)"/><ellipse cx="141.21" cy="381.4" rx="1.22" ry="0.9" transform="rotate(61 141.21 381.4)"/><ellipse cx="102.67" cy="359.57" rx="2.57" ry="2.71" transform="rotate(174 102.67 359.57)"/><ellipse cx="91.84" cy="350.45" rx="1.36" ry="1.11" transform="rotate(159 91.84 350.45)"/><ellipse cx="91.74" cy="358.29" rx="1.37" ry="1.34" transform="rotate(173 91.74 358.29)"/><ellipse cx="100.58" cy="358.89" rx="2.57" ry="2.16" transform="rotate(90 100.58 358.89)"/><ellipse cx="142.63" cy="388.17" rx="1.03" ry="0.68" transform="rotate(159 142.63 388.17)"/><ellipse cx="149.34" cy="384.79" rx="1.66" ry="1.61" transform="rotate(99 149.34 384.79)"/><ellipse cx="147.31" cy="365.39" rx="2.01" ry="2.2" transform="rotate(83 147.31 365.39)"/><ellipse cx="109.94" cy="384.31" rx="2.3" ry="1.59" transform="rotate(167 109.94 384.31)"/><ellipse cx="115.59" cy="352.21" rx="2.39" ry="1.53" transform="rotate(21 115.59 352.21)"/><ellipse cx="147.7" cy="369.98" rx="2.3" ry="1.39" transform="rotate(79 147.7 369.98)"/><ellipse cx="94.88" cy="362.23" rx="2.13" ry="2.02" transform="rotate(72 94.88 362.23)"/><ellipse cx="152.48" cy="358.11" rx="2.02" ry="1.54" transform="rotate(30 152.48 358.11)"/><ellipse cx="131.82" cy="391.27" rx="2.07" ry="1.53" transform="rotate(135 131.82 391.27)"/><ellipse cx="146.82" cy="362.28" rx="1.44" ry="1.15" transform="rotate(132 146.82 362.28)"/><ellipse cx="146.39" cy="373.72" rx="2.32" ry="2.05" transform="rotate(45 146.39 373.72)"/><ellipse cx="95.46" cy="369.54" rx="2.35" ry="2.37" transform="rotate(56 95.46 369.54)"/><ellipse cx="129.86" cy="394.37" rx="2.01" ry="2.01" transform="rotate(16 129.86 394.37)"/><ellipse cx="130.9" cy="362.32" rx="1.83" ry="1.4" transform="rotate(70 130.9 362.32)"/><ellipse cx="142.07" cy="391.1" rx="1.04" ry="0.96" transform="rotate(36 142.07 391.1)"/><ellipse cx="96.02" cy="387.09" rx="1.62" ry="1.55" transform="rotate(125 96.02 387.09)"/><ellipse cx="144.11" cy="372.8" rx="2.2" ry="1.75" transform="rotate(86 144.11 372.8)"/><ellipse cx="147.12" cy="363.65" rx="1.13" ry="0.96" transform="rotate(18 147.12 363.65)"/><ellipse cx="139.99" cy="391.88" rx="1.6" ry="1.62" transform="rotate(170 139.99 391.88)"/><ellipse cx="114.14" cy="347.69" rx="1.54" ry="0.99" transform="rotate(118 114.14 347.69)"/><ellipse cx="157.96" cy="378.55" rx="1.79" ry="1.71" transform="rotate(28 157.96 378.55)"/><ellipse cx="99.53" cy="383.45" rx="2.58" ry="2.04" transform="rotate(42 99.53 383.45)"/><ellipse cx="127.09" cy="360.79" rx="2.41" ry="2.01" transform="rotate(29 127.09 360.79)"/><ellipse cx="110.85" cy="355.04" rx="2.46" ry="2.6" transform="rotate(117 110.85 355.04)"/><ellipse cx="90.24" cy="370.83" rx="2.26" ry="1.71" transform="rotate(50 90.24 370.83)"/><ellipse cx="102.29" cy="358.04" rx="1.3" ry="1.25" transform="rotate(152 102.29 358.04)"/><ellipse cx="153.41" cy="367.02" rx="2.45" ry="2.62" transform="rotate(160 153.41 367.02)"/><ellipse cx="128.47" cy="387.13" rx="1.72" ry="1.25" transform="rotate(103 128.47 387.13)"/><ellipse cx="154.83" cy="364.09" rx="1.83" ry="1.97" transform="rotate(123 154.83 364.09)"/><ellipse cx="151.11" cy="366.87" rx="1.27" ry="0.85" transform="rotate(98 151.11 366.87)"/><ellipse cx="159.27" cy="386.04" rx="2.22" ry="2.2" transform="rotate(14 159.27 386.04)"/><ellipse cx="136.34" cy="359.02" rx="0.92" ry="0.77" transform="rotate(95 136.34 359.02)"/><ellipse cx="121.4" cy="359.46" rx="1.62" ry="1.68" transform="rotate(106 121.4 359.46)"/><ellipse cx="100.3" cy="363.11" rx="1.34" ry="1.39" transform="rotate(132 100.3 363.11)"/><ellipse cx="98.44" cy="383.47" rx="1.95" ry="1.68" transform="rotate(13 98.44 383.47)"/><ellipse cx="99.85" cy="384.86" rx="0.9" ry="0.91" transform="rotate(38 99.85 384.86)"/><ellipse cx="148.19" cy="351.5" rx="1.36" ry="1.3" transform="rotate(24 148.19 351.5)"/><ellipse cx="153.06" cy="381.14" rx="1.04" ry="1.01" transform="rotate(139 153.06 381.14)"/><ellipse cx="150.73" cy="362.22" rx="2.24" ry="1.81" transform="rotate(174 150.73 362.22)"/><ellipse cx="95.55" cy="387.58" rx="1.25" ry="1.09" transform="rotate(134 95.55 387.58)"/><ellipse cx="124.58" cy="393.41" rx="2.54" ry="1.92" transform="rotate(103 124.58 393.41)"/><ellipse cx="94.47" cy="362.33" rx="1.69" ry="1.62" transform="rotate(92 94.47 362.33)"/><ellipse cx="94.35" cy="354.32" rx="2.04" ry="1.91" transform="rotate(31 94.35 354.32)"/><ellipse cx="136.08" cy="348.1" rx="1.54" ry="1.47" transform="rotate(60 136.08 348.1)"/><ellipse cx="110.13" cy="353" rx="2.21" ry="2.27" transform="rotate(52 110.13 353)"/><ellipse cx="153.91" cy="354.88" rx="1.97" ry="2.1" transform="rotate(76 153.91 354.88)"/><ellipse cx="157.69" cy="384.11" rx="1.84" ry="1.19" transform="rotate(48 157.69 384.11)"/><ellipse cx="103.4" cy="382.98" rx="1.46" ry="1.57" transform="rotate(144 103.4 382.98)"/><ellipse cx="96.33" cy="377.65" rx="1.12" ry="1.03" transform="rotate(45 96.33 377.65)"/><ellipse cx="149.26" cy="376.25" rx="1.05" ry="0.75" transform="rotate(40 149.26 376.25)"/><ellipse cx="160.09" cy="368.54" rx="2.21" ry="1.7" transform="rotate(109 160.09 368.54)"/><ellipse cx="155.74" cy="354.24" rx="1.25" ry="0.84" transform="rotate(176 155.74 354.24)"/><ellipse cx="118.67" cy="348.25" rx="1.58" ry="1.5" transform="rotate(62 118.67 348.25)"/><ellipse cx="136.54" cy="377.02" rx="0.93" ry="0.71" transform="rotate(87 136.54 377.02)"/><ellipse cx="129.12" cy="357.44" rx="1.47" ry="1.09" transform="rotate(26 129.12 357.44)"/><ellipse cx="133.02" cy="355.18" rx="2.2" ry="2.32" transform="rotate(140 133.02 355.18)"/><ellipse cx="125.97" cy="375.35" rx="1.24" ry="1.32" transform="rotate(180 125.97 375.35)"/><ellipse cx="149.16" cy="357.06" rx="2.51" ry="2.29" transform="rotate(50 149.16 357.06)"/><ellipse cx="144.92" cy="354.11" rx="1.71" ry="1.38" transform="rotate(85 144.92 354.11)"/><ellipse cx="112.7" cy="392.56" rx="1.51" ry="1.26" transform="rotate(31 112.7 392.56)"/><ellipse cx="121.56" cy="382.89" rx="1.31" ry="1.16" transform="rotate(139 121.56 382.89)"/><ellipse cx="129.37" cy="374.68" rx="1.35" ry="1.42" transform="rotate(85 129.37 374.68)"/><ellipse cx="132.31" cy="353.45" rx="2.3" ry="1.71" transform="rotate(93 132.31 353.45)"/><ellipse cx="148.81" cy="356.5" rx="1.83" ry="1.17" transform="rotate(8 148.81 356.5)"/><ellipse cx="118.04" cy="385.46" rx="2.48" ry="2.73" transform="rotate(35 118.04 385.46)"/><ellipse cx="142.11" cy="366.01" rx="1.91" ry="1.91" transform="rotate(4 142.11 366.01)"/><ellipse cx="91.38" cy="373.1" rx="1.1" ry="0.88" transform="rotate(86 91.38 373.1)"/><ellipse cx="126.42" cy="360.29" rx="1.87" ry="1.43" transform="rotate(164 126.42 360.29)"/><ellipse cx="145.45" cy="382.5" rx="2.24" ry="1.79" transform="rotate(127 145.45 382.5)"/><ellipse cx="132.21" cy="370.29" rx="1.6" ry="1.46" transform="rotate(176 132.21 370.29)"/><ellipse cx="129.66" cy="367.24" rx="1.38" ry="1.44" transform="rotate(118 129.66 367.24)"/><ellipse cx="149.35" cy="388.97" rx="1.6" ry="1.3" transform="rotate(144 149.35 388.97)"/><ellipse cx="97.25" cy="393.04" rx="1.46" ry="1.26" transform="rotate(107 97.25 393.04)"/><ellipse cx="154.11" cy="363.05" rx="0.99" ry="0.96" transform="rotate(110 154.11 363.05)"/><ellipse cx="141.7" cy="376.48" rx="2.18" ry="1.64" transform="rotate(151 141.7 376.48)"/><ellipse cx="152.15" cy="359.35" rx="2.34" ry="1.68" transform="rotate(101 152.15 359.35)"/><ellipse cx="159.02" cy="370.57" rx="1.08" ry="1.14" transform="rotate(139 159.02 370.57)"/><ellipse cx="105.98" cy="350.82" rx="2.45" ry="2.65" transform="rotate(170 105.98 350.82)"/><ellipse cx="129.61" cy="355.46" rx="2" ry="1.62" transform="rotate(31 129.61 355.46)"/><ellipse cx="154.05" cy="352.28" rx="2.25" ry="1.49" transform="rotate(137 154.05 352.28)"/><ellipse cx="130.46" cy="369.48" rx="1.4" ry="1.35" transform="rotate(6 130.46 369.48)"/><ellipse cx="112.38" cy="350.54" rx="2.42" ry="2.44" transform="rotate(101 112.38 350.54)"/><ellipse cx="99.17" cy="381.08" rx="1.29" ry="0.97" transform="rotate(116 99.17 381.08)"/><ellipse cx="153.69" cy="362.43" rx="1.75" ry="1.86" transform="rotate(120 153.69 362.43)"/><ellipse cx="152.27" cy="357.33" rx="2.36" ry="2.23" transform="rotate(15 152.27 357.33)"/><ellipse cx="103.08" cy="388.14" rx="1.5" ry="1.26" transform="rotate(44 103.08 388.14)"/><ellipse cx="134.75" cy="381.35" rx="1.85" ry="1.6" transform="rotate(60 134.75 381.35)"/><ellipse cx="102.79" cy="390.19" rx="0.99" ry="0.64" transform="rotate(80 102.79 390.19)"/><ellipse cx="158.22" cy="360.78" rx="1.61" ry="1.68" transform="rotate(85 158.22 360.78)"/><ellipse cx="139.11" cy="392.98" rx="1.66" ry="1.06" transform="rotate(57 139.11 392.98)"/><ellipse cx="151.03" cy="353.35" rx="2.07" ry="1.52" transform="rotate(60 151.03 353.35)"/><ellipse cx="125.1" cy="361.83" rx="1.36" ry="1.37" transform="rotate(134 125.1 361.83)"/><ellipse cx="152.68" cy="376.11" rx="1.29" ry="0.97" transform="rotate(46 152.68 376.11)"/><ellipse cx="137.03" cy="360.93" rx="1.99" ry="1.28" transform="rotate(19 137.03 360.93)"/><ellipse cx="127.22" cy="349.7" rx="1.92" ry="1.42" transform="rotate(64 127.22 349.7)"/><ellipse cx="100.84" cy="395.43" rx="1.22" ry="0.84" transform="rotate(140 100.84 395.43)"/><ellipse cx="91.08" cy="385.83" rx="1.16" ry="1.21" transform="rotate(159 91.08 385.83)"/><ellipse cx="122.24" cy="383.9" rx="1.55" ry="1.65" transform="rotate(127 122.24 383.9)"/><ellipse cx="93.34" cy="350.61" rx="2.22" ry="2.34" transform="rotate(82 93.34 350.61)"/><ellipse cx="136.39" cy="385.48" rx="1.78" ry="1.52" transform="rotate(162 136.39 385.48)"/><ellipse cx="138.27" cy="372.75" rx="2.52" ry="1.73" transform="rotate(42 138.27 372.75)"/><ellipse cx="97.07" cy="368.63" rx="2.04" ry="1.78" transform="rotate(65 97.07 368.63)"/><ellipse cx="145.63" cy="385.87" rx="1.3" ry="1.1" transform="rotate(56 145.63 385.87)"/><ellipse cx="150.39" cy="376.76" rx="1.34" ry="0.94" transform="rotate(13 150.39 376.76)"/><ellipse cx="130.23" cy="389.83" rx="1.21" ry="0.82" transform="rotate(4 130.23 389.83)"/><ellipse cx="132.82" cy="386.6" rx="1.76" ry="1.69" transform="rotate(7 132.82 386.6)"/><ellipse cx="94.22" cy="391.5" rx="1.87" ry="1.63" transform="rotate(60 94.22 391.5)"/><ellipse cx="133.87" cy="350.12" rx="1.62" ry="1.54" transform="rotate(159 133.87 350.12)"/><ellipse cx="142.17" cy="385.36" rx="2.2" ry="1.87" transform="rotate(166 142.17 385.36)"/><ellipse cx="148.08" cy="355.82" rx="1.33" ry="0.91" transform="rotate(176 148.08 355.82)"/><ellipse cx="136.45" cy="376.4" rx="1.67" ry="1.27" transform="rotate(119 136.45 376.4)"/><ellipse cx="158.88" cy="349.54" rx="1.73" ry="1.7" transform="rotate(34 158.88 349.54)"/><ellipse cx="142.64" cy="349.4" rx="1.31" ry="1.37" transform="rotate(36 142.64 349.4)"/><ellipse cx="95.58" cy="374.47" rx="1.7" ry="1.82" transform="rotate(8 95.58 374.47)"/><ellipse cx="137.95" cy="382.28" rx="2.56" ry="2.32" transform="rotate(75 137.95 382.28)"/><ellipse cx="156.14" cy="365.15" rx="1.47" ry="1.61" transform="rotate(156 156.14 365.15)"/><ellipse cx="104.72" cy="355.28" rx="1.89" ry="2.08" transform="rotate(87 104.72 355.28)"/><ellipse cx="129.85" cy="391.73" rx="2.4" ry="2.55" transform="rotate(45 129.85 391.73)"/><ellipse cx="149.7" cy="365.98" rx="2.23" ry="1.58" transform="rotate(88 149.7 365.98)"/><ellipse cx="106.75" cy="385.97" rx="2.27" ry="1.9" transform="rotate(102 106.75 385.97)"/><ellipse cx="160.52" cy="380.44" rx="2.37" ry="1.66" transform="rotate(98 160.52 380.44)"/><ellipse cx="119.18" cy="349.79" rx="1.37" ry="1.47" transform="rotate(158 119.18 349.79)"/><ellipse cx="90.34" cy="356.33" rx="1.35" ry="1.07" transform="rotate(166 90.34 356.33)"/></g>
<ellipse cx="113.2" cy="370.2" rx="14.5" ry="13.2" fill="#a872b4" opacity="0.9"/>
<ellipse cx="113.2" cy="370.2" rx="12.3" ry="11.3" fill="#8a4797"/>
<ellipse cx="112.9" cy="369.9" rx="9.3" ry="8.6" fill="#e4e2e6"/>
<path d="M89 369 L95.5 361.5 L97.5 363.5 L90.5 372Z" fill="#d9d7da"/>
<path d="M150 360 L158 356 L160 368 L154 378 L148 372Z" fill="#d7d4d8" opacity="0.9"/>
</g>
<g clip-path="url(#cUG)">
<rect x="89" y="396" width="72" height="50.5" fill="#fff" filter="url(#gU)"/>
<g fill="#d9d8dc"><ellipse cx="155.59" cy="443.9" rx="2.87" ry="1.84" transform="rotate(151 155.59 443.9)"/><ellipse cx="111.09" cy="415.15" rx="1.75" ry="1.69" transform="rotate(68 111.09 415.15)"/><ellipse cx="121.01" cy="407.16" rx="1.96" ry="1.2" transform="rotate(21 121.01 407.16)"/><ellipse cx="159.65" cy="421.16" rx="1.04" ry="0.95" transform="rotate(110 159.65 421.16)"/><ellipse cx="114.85" cy="398.91" rx="2.64" ry="2.37" transform="rotate(168 114.85 398.91)"/><ellipse cx="101.38" cy="406.91" rx="2.54" ry="2.25" transform="rotate(94 101.38 406.91)"/><ellipse cx="158.74" cy="410.2" rx="3.05" ry="2.7" transform="rotate(121 158.74 410.2)"/><ellipse cx="101.79" cy="420.4" rx="2.66" ry="2.5" transform="rotate(41 101.79 420.4)"/><ellipse cx="102.11" cy="405.02" rx="1.68" ry="1.69" transform="rotate(50 102.11 405.02)"/><ellipse cx="130.93" cy="400.16" rx="1.89" ry="1.68" transform="rotate(146 130.93 400.16)"/><ellipse cx="109.2" cy="425.79" rx="1.23" ry="1.29" transform="rotate(138 109.2 425.79)"/><ellipse cx="107.61" cy="401.41" rx="2.65" ry="2.52" transform="rotate(126 107.61 401.41)"/><ellipse cx="106.14" cy="423.55" rx="2.93" ry="2.63" transform="rotate(98 106.14 423.55)"/><ellipse cx="101.04" cy="445.24" rx="1.12" ry="0.9" transform="rotate(5 101.04 445.24)"/><ellipse cx="100.71" cy="407.39" rx="1.03" ry="0.73" transform="rotate(14 100.71 407.39)"/><ellipse cx="102.92" cy="399.83" rx="1.98" ry="1.38" transform="rotate(117 102.92 399.83)"/><ellipse cx="157.43" cy="406.91" rx="1.22" ry="1.05" transform="rotate(43 157.43 406.91)"/><ellipse cx="138.72" cy="424.18" rx="1.5" ry="0.98" transform="rotate(42 138.72 424.18)"/><ellipse cx="153.86" cy="418.46" rx="1.72" ry="1.8" transform="rotate(42 153.86 418.46)"/><ellipse cx="153.45" cy="430.73" rx="1.87" ry="1.77" transform="rotate(163 153.45 430.73)"/><ellipse cx="142.69" cy="423.56" rx="1.89" ry="1.42" transform="rotate(142 142.69 423.56)"/><ellipse cx="132.91" cy="398.6" rx="1.6" ry="0.98" transform="rotate(35 132.91 398.6)"/><ellipse cx="112.94" cy="424.25" rx="2.75" ry="1.99" transform="rotate(169 112.94 424.25)"/><ellipse cx="94.66" cy="424.38" rx="2.14" ry="1.53" transform="rotate(143 94.66 424.38)"/><ellipse cx="157.95" cy="436.38" rx="3.08" ry="2.26" transform="rotate(86 157.95 436.38)"/><ellipse cx="151.45" cy="406.28" rx="2.43" ry="1.67" transform="rotate(115 151.45 406.28)"/><ellipse cx="142.7" cy="444.21" rx="1.88" ry="1.39" transform="rotate(152 142.7 444.21)"/><ellipse cx="138.61" cy="423.23" rx="2.17" ry="1.87" transform="rotate(76 138.61 423.23)"/><ellipse cx="93.48" cy="440.95" rx="1.79" ry="1.09" transform="rotate(116 93.48 440.95)"/><ellipse cx="132.57" cy="410.73" rx="1.67" ry="1.29" transform="rotate(77 132.57 410.73)"/><ellipse cx="92.08" cy="440.79" rx="2.4" ry="2.35" transform="rotate(65 92.08 440.79)"/><ellipse cx="153.31" cy="445.9" rx="1.31" ry="1.03" transform="rotate(158 153.31 445.9)"/><ellipse cx="122.32" cy="402.11" rx="2.19" ry="1.8" transform="rotate(9 122.32 402.11)"/><ellipse cx="159.75" cy="428.03" rx="1.09" ry="1.09" transform="rotate(70 159.75 428.03)"/><ellipse cx="103.43" cy="424.55" rx="2.31" ry="2.28" transform="rotate(46 103.43 424.55)"/><ellipse cx="142.16" cy="415.98" rx="2.43" ry="1.81" transform="rotate(20 142.16 415.98)"/><ellipse cx="91.95" cy="402.07" rx="2.57" ry="2.8" transform="rotate(34 91.95 402.07)"/><ellipse cx="132.99" cy="403.03" rx="2.54" ry="2.12" transform="rotate(75 132.99 403.03)"/><ellipse cx="130.02" cy="434.92" rx="2.27" ry="2.03" transform="rotate(83 130.02 434.92)"/><ellipse cx="91.11" cy="413.7" rx="1.34" ry="0.94" transform="rotate(109 91.11 413.7)"/><ellipse cx="160.43" cy="434.26" rx="1.47" ry="1.31" transform="rotate(111 160.43 434.26)"/><ellipse cx="136.77" cy="422.85" rx="1.46" ry="1.29" transform="rotate(79 136.77 422.85)"/><ellipse cx="121.87" cy="429.31" rx="2.34" ry="1.82" transform="rotate(79 121.87 429.31)"/><ellipse cx="148.83" cy="398" rx="1.83" ry="1.76" transform="rotate(166 148.83 398)"/><ellipse cx="127.53" cy="406.63" rx="1.85" ry="1.17" transform="rotate(80 127.53 406.63)"/><ellipse cx="141.99" cy="419.86" rx="1.34" ry="1.42" transform="rotate(93 141.99 419.86)"/><ellipse cx="106.71" cy="411.92" rx="2.41" ry="1.98" transform="rotate(44 106.71 411.92)"/><ellipse cx="117.71" cy="414.55" rx="2.05" ry="1.24" transform="rotate(159 117.71 414.55)"/><ellipse cx="120.69" cy="405.61" rx="2.62" ry="2.86" transform="rotate(116 120.69 405.61)"/><ellipse cx="149.49" cy="415.77" rx="1.8" ry="1.13" transform="rotate(8 149.49 415.77)"/><ellipse cx="119.34" cy="413.69" rx="2.98" ry="2.79" transform="rotate(171 119.34 413.69)"/><ellipse cx="151.92" cy="432.32" rx="1.3" ry="1.42" transform="rotate(150 151.92 432.32)"/><ellipse cx="147.43" cy="419.44" rx="2.58" ry="2.74" transform="rotate(108 147.43 419.44)"/><ellipse cx="123.07" cy="403.35" rx="2.35" ry="1.77" transform="rotate(158 123.07 403.35)"/><ellipse cx="90.28" cy="422.27" rx="1.44" ry="1.33" transform="rotate(88 90.28 422.27)"/><ellipse cx="145.37" cy="411.77" rx="2.48" ry="2.02" transform="rotate(139 145.37 411.77)"/><ellipse cx="156.51" cy="423.37" rx="1.71" ry="1.66" transform="rotate(56 156.51 423.37)"/><ellipse cx="145.91" cy="424.77" rx="2.89" ry="1.96" transform="rotate(176 145.91 424.77)"/><ellipse cx="145.21" cy="403.05" rx="2.95" ry="2.79" transform="rotate(79 145.21 403.05)"/><ellipse cx="158.81" cy="401.6" rx="2.74" ry="1.75" transform="rotate(20 158.81 401.6)"/><ellipse cx="158.26" cy="397.71" rx="2" ry="2.14" transform="rotate(9 158.26 397.71)"/><ellipse cx="125.84" cy="409.74" rx="2.2" ry="2.41" transform="rotate(165 125.84 409.74)"/><ellipse cx="89.49" cy="442.46" rx="2.93" ry="2.73" transform="rotate(173 89.49 442.46)"/><ellipse cx="94.1" cy="437.42" rx="1.37" ry="0.97" transform="rotate(15 94.1 437.42)"/><ellipse cx="142.02" cy="441.33" rx="1.55" ry="1.64" transform="rotate(153 142.02 441.33)"/><ellipse cx="147.28" cy="434.34" rx="2.2" ry="1.95" transform="rotate(11 147.28 434.34)"/><ellipse cx="134.82" cy="403.04" rx="2.67" ry="2.08" transform="rotate(149 134.82 403.04)"/><ellipse cx="156.72" cy="424.17" rx="3.05" ry="1.84" transform="rotate(127 156.72 424.17)"/><ellipse cx="94.89" cy="412.47" rx="2.41" ry="2.18" transform="rotate(42 94.89 412.47)"/><ellipse cx="103.97" cy="436.61" rx="2.67" ry="1.79" transform="rotate(35 103.97 436.61)"/><ellipse cx="148.06" cy="429.79" rx="1.23" ry="1.26" transform="rotate(129 148.06 429.79)"/><ellipse cx="103.16" cy="404.65" rx="2.42" ry="2.24" transform="rotate(153 103.16 404.65)"/><ellipse cx="156.11" cy="436.42" rx="2.76" ry="2.02" transform="rotate(153 156.11 436.42)"/><ellipse cx="96.13" cy="425.51" rx="2.7" ry="2.75" transform="rotate(32 96.13 425.51)"/><ellipse cx="97.29" cy="417.73" rx="1.13" ry="1.07" transform="rotate(96 97.29 417.73)"/><ellipse cx="159.82" cy="434.8" rx="1.21" ry="0.87" transform="rotate(94 159.82 434.8)"/><ellipse cx="134.43" cy="417.47" rx="1.46" ry="1.28" transform="rotate(63 134.43 417.47)"/><ellipse cx="113.14" cy="424.47" rx="3.04" ry="1.97" transform="rotate(33 113.14 424.47)"/><ellipse cx="142.01" cy="403.71" rx="2.18" ry="2" transform="rotate(9 142.01 403.71)"/><ellipse cx="121.16" cy="398.69" rx="2.95" ry="2.16" transform="rotate(52 121.16 398.69)"/><ellipse cx="95.66" cy="417.61" rx="2.01" ry="2" transform="rotate(103 95.66 417.61)"/><ellipse cx="127.3" cy="415.08" rx="2.35" ry="1.43" transform="rotate(144 127.3 415.08)"/><ellipse cx="152.36" cy="443.69" rx="1.05" ry="1.08" transform="rotate(84 152.36 443.69)"/><ellipse cx="138.9" cy="401.35" rx="2.54" ry="2.5" transform="rotate(160 138.9 401.35)"/><ellipse cx="150.15" cy="412.94" rx="1.82" ry="1.96" transform="rotate(179 150.15 412.94)"/><ellipse cx="99.35" cy="411.06" rx="2.11" ry="1.82" transform="rotate(152 99.35 411.06)"/><ellipse cx="134.79" cy="427.38" rx="2.3" ry="2.47" transform="rotate(102 134.79 427.38)"/><ellipse cx="137.61" cy="404.98" rx="1.56" ry="1.51" transform="rotate(39 137.61 404.98)"/><ellipse cx="147.77" cy="441.03" rx="2.65" ry="2.32" transform="rotate(124 147.77 441.03)"/><ellipse cx="101.76" cy="396.96" rx="2.28" ry="2.4" transform="rotate(93 101.76 396.96)"/><ellipse cx="95.75" cy="427.66" rx="2.46" ry="1.79" transform="rotate(51 95.75 427.66)"/><ellipse cx="159.07" cy="430.71" rx="3.06" ry="3.34" transform="rotate(37 159.07 430.71)"/><ellipse cx="124.41" cy="412.23" rx="2.62" ry="2.11" transform="rotate(94 124.41 412.23)"/><ellipse cx="128.12" cy="425.7" rx="2.78" ry="1.74" transform="rotate(96 128.12 425.7)"/><ellipse cx="153.67" cy="425.86" rx="2.54" ry="1.61" transform="rotate(32 153.67 425.86)"/><ellipse cx="97.31" cy="401.86" rx="1.91" ry="1.98" transform="rotate(90 97.31 401.86)"/><ellipse cx="101.17" cy="441.75" rx="1.76" ry="1.32" transform="rotate(116 101.17 441.75)"/><ellipse cx="155.05" cy="446.46" rx="1.43" ry="1.26" transform="rotate(101 155.05 446.46)"/><ellipse cx="153.89" cy="433.69" rx="1.59" ry="1.36" transform="rotate(167 153.89 433.69)"/><ellipse cx="145.5" cy="432.88" rx="2.77" ry="2.8" transform="rotate(138 145.5 432.88)"/><ellipse cx="89.96" cy="414.25" rx="2.64" ry="2.43" transform="rotate(58 89.96 414.25)"/><ellipse cx="128.11" cy="403.11" rx="2.5" ry="2.38" transform="rotate(71 128.11 403.11)"/><ellipse cx="152.22" cy="425.12" rx="1.23" ry="1.35" transform="rotate(150 152.22 425.12)"/><ellipse cx="152.95" cy="396.16" rx="1.57" ry="1.32" transform="rotate(123 152.95 396.16)"/><ellipse cx="101.4" cy="426.93" rx="1.91" ry="1.9" transform="rotate(29 101.4 426.93)"/><ellipse cx="140.11" cy="443.32" rx="3.04" ry="3.15" transform="rotate(30 140.11 443.32)"/><ellipse cx="158.3" cy="439.72" rx="1.38" ry="1.4" transform="rotate(57 158.3 439.72)"/><ellipse cx="104.67" cy="396.36" rx="2.44" ry="2.09" transform="rotate(106 104.67 396.36)"/><ellipse cx="95.17" cy="404.93" rx="1.4" ry="1.48" transform="rotate(10 95.17 404.93)"/><ellipse cx="146.95" cy="441.43" rx="1.15" ry="0.7" transform="rotate(46 146.95 441.43)"/><ellipse cx="118.62" cy="412.46" rx="2.02" ry="1.84" transform="rotate(20 118.62 412.46)"/><ellipse cx="152.84" cy="407.32" rx="1.13" ry="1.19" transform="rotate(1 152.84 407.32)"/><ellipse cx="95.76" cy="405.78" rx="1.18" ry="0.85" transform="rotate(35 95.76 405.78)"/><ellipse cx="150.17" cy="431.08" rx="1.92" ry="1.41" transform="rotate(124 150.17 431.08)"/><ellipse cx="92.27" cy="429.64" rx="1.01" ry="0.87" transform="rotate(159 92.27 429.64)"/><ellipse cx="106.41" cy="426.72" rx="2.39" ry="1.83" transform="rotate(133 106.41 426.72)"/><ellipse cx="128.5" cy="429.64" rx="2.77" ry="2.8" transform="rotate(124 128.5 429.64)"/><ellipse cx="115.3" cy="406.3" rx="1.6" ry="1.7" transform="rotate(80 115.3 406.3)"/><ellipse cx="135.91" cy="397.74" rx="1.16" ry="0.88" transform="rotate(161 135.91 397.74)"/><ellipse cx="130.19" cy="430.89" rx="1.46" ry="0.94" transform="rotate(131 130.19 430.89)"/><ellipse cx="100.47" cy="406.19" rx="2.46" ry="2.14" transform="rotate(114 100.47 406.19)"/><ellipse cx="129.86" cy="398.62" rx="1.56" ry="1.24" transform="rotate(24 129.86 398.62)"/><ellipse cx="116.65" cy="431.65" rx="2.09" ry="2.24" transform="rotate(52 116.65 431.65)"/><ellipse cx="100.28" cy="441.54" rx="2.55" ry="2.75" transform="rotate(122 100.28 441.54)"/><ellipse cx="100.41" cy="432.74" rx="1.05" ry="0.73" transform="rotate(137 100.41 432.74)"/><ellipse cx="119.83" cy="424.82" rx="2.91" ry="1.96" transform="rotate(7 119.83 424.82)"/><ellipse cx="130.85" cy="424.08" rx="2.51" ry="1.74" transform="rotate(139 130.85 424.08)"/><ellipse cx="147.63" cy="418.73" rx="2.14" ry="1.36" transform="rotate(117 147.63 418.73)"/><ellipse cx="119.12" cy="400.34" rx="1.48" ry="1.12" transform="rotate(41 119.12 400.34)"/><ellipse cx="138" cy="412.64" rx="2.83" ry="1.72" transform="rotate(145 138 412.64)"/><ellipse cx="137.29" cy="410.74" rx="2.83" ry="2.04" transform="rotate(23 137.29 410.74)"/><ellipse cx="100.92" cy="397.82" rx="2.58" ry="2.56" transform="rotate(95 100.92 397.82)"/><ellipse cx="94.68" cy="399.63" rx="1.2" ry="0.95" transform="rotate(28 94.68 399.63)"/><ellipse cx="113.74" cy="412.11" rx="2.45" ry="1.78" transform="rotate(84 113.74 412.11)"/><ellipse cx="98.28" cy="408.48" rx="1.97" ry="1.87" transform="rotate(69 98.28 408.48)"/><ellipse cx="96.66" cy="431.86" rx="2.91" ry="2.09" transform="rotate(151 96.66 431.86)"/><ellipse cx="140.75" cy="417.82" rx="2.2" ry="1.87" transform="rotate(154 140.75 417.82)"/><ellipse cx="151.62" cy="430.11" rx="2.5" ry="2.28" transform="rotate(100 151.62 430.11)"/><ellipse cx="131.89" cy="416.6" rx="3.07" ry="2.12" transform="rotate(3 131.89 416.6)"/><ellipse cx="123.13" cy="425.91" rx="2.69" ry="2.42" transform="rotate(22 123.13 425.91)"/><ellipse cx="89.17" cy="439.43" rx="1.39" ry="1.44" transform="rotate(32 89.17 439.43)"/><ellipse cx="160.95" cy="432.76" rx="1.82" ry="1.92" transform="rotate(145 160.95 432.76)"/><ellipse cx="143.12" cy="428.26" rx="2.62" ry="1.91" transform="rotate(89 143.12 428.26)"/><ellipse cx="143.79" cy="430.98" rx="1.32" ry="1.07" transform="rotate(81 143.79 430.98)"/><ellipse cx="116.71" cy="402.68" rx="2.48" ry="2" transform="rotate(176 116.71 402.68)"/><ellipse cx="114.47" cy="396.95" rx="2.48" ry="2.26" transform="rotate(19 114.47 396.95)"/><ellipse cx="158.49" cy="431.81" rx="2.69" ry="2.85" transform="rotate(41 158.49 431.81)"/><ellipse cx="139.66" cy="397.11" rx="1.57" ry="1.13" transform="rotate(5 139.66 397.11)"/><ellipse cx="99.69" cy="425.94" rx="1.64" ry="1.07" transform="rotate(146 99.69 425.94)"/><ellipse cx="105.87" cy="410.18" rx="1.24" ry="0.89" transform="rotate(106 105.87 410.18)"/><ellipse cx="124.28" cy="433.2" rx="2.4" ry="1.87" transform="rotate(19 124.28 433.2)"/><ellipse cx="94.77" cy="416.86" rx="2.86" ry="2.69" transform="rotate(90 94.77 416.86)"/><ellipse cx="128.61" cy="398.25" rx="2.5" ry="1.64" transform="rotate(174 128.61 398.25)"/><ellipse cx="139.94" cy="396.85" rx="2.63" ry="1.73" transform="rotate(159 139.94 396.85)"/><ellipse cx="140.85" cy="406.58" rx="2.21" ry="1.55" transform="rotate(158 140.85 406.58)"/><ellipse cx="127.28" cy="445.44" rx="1.26" ry="0.9" transform="rotate(177 127.28 445.44)"/><ellipse cx="115.89" cy="425.74" rx="1.49" ry="1.17" transform="rotate(112 115.89 425.74)"/><ellipse cx="158.17" cy="436.53" rx="1.47" ry="0.89" transform="rotate(30 158.17 436.53)"/><ellipse cx="126.16" cy="422.52" rx="1.94" ry="2" transform="rotate(167 126.16 422.52)"/><ellipse cx="149.56" cy="402.56" rx="2.74" ry="2.78" transform="rotate(75 149.56 402.56)"/><ellipse cx="137.88" cy="418.11" rx="1.15" ry="0.81" transform="rotate(13 137.88 418.11)"/><ellipse cx="135.94" cy="423.11" rx="1.26" ry="1.07" transform="rotate(53 135.94 423.11)"/><ellipse cx="103.48" cy="407.77" rx="1.94" ry="1.44" transform="rotate(66 103.48 407.77)"/><ellipse cx="108.12" cy="445.84" rx="1.21" ry="1.23" transform="rotate(67 108.12 445.84)"/><ellipse cx="153.38" cy="427.91" rx="1.77" ry="1.92" transform="rotate(173 153.38 427.91)"/><ellipse cx="104.91" cy="413.69" rx="3.02" ry="2.84" transform="rotate(140 104.91 413.69)"/><ellipse cx="156.53" cy="427.34" rx="1.86" ry="1.89" transform="rotate(137 156.53 427.34)"/><ellipse cx="125.05" cy="411.87" rx="2.19" ry="2.01" transform="rotate(76 125.05 411.87)"/><ellipse cx="122.8" cy="396.33" rx="1.67" ry="1.72" transform="rotate(126 122.8 396.33)"/><ellipse cx="122.78" cy="413.52" rx="1.04" ry="0.86" transform="rotate(73 122.78 413.52)"/><ellipse cx="94.17" cy="432.98" rx="1.13" ry="0.81" transform="rotate(173 94.17 432.98)"/><ellipse cx="136.47" cy="425.54" rx="1.52" ry="1.32" transform="rotate(67 136.47 425.54)"/><ellipse cx="92.98" cy="443.37" rx="1.22" ry="0.82" transform="rotate(155 92.98 443.37)"/><ellipse cx="160.76" cy="412.61" rx="2.79" ry="2.12" transform="rotate(115 160.76 412.61)"/><ellipse cx="91.19" cy="436.95" rx="2.86" ry="2.57" transform="rotate(146 91.19 436.95)"/><ellipse cx="151.31" cy="402.85" rx="1.86" ry="1.28" transform="rotate(16 151.31 402.85)"/><ellipse cx="145.61" cy="416.54" rx="2.84" ry="2.04" transform="rotate(129 145.61 416.54)"/><ellipse cx="154.13" cy="428.92" rx="2.6" ry="1.99" transform="rotate(82 154.13 428.92)"/><ellipse cx="127.24" cy="413.2" rx="1.6" ry="1.13" transform="rotate(13 127.24 413.2)"/><ellipse cx="152.64" cy="439.91" rx="2.04" ry="1.39" transform="rotate(130 152.64 439.91)"/><ellipse cx="138.8" cy="404.4" rx="1.4" ry="1.04" transform="rotate(176 138.8 404.4)"/><ellipse cx="152.64" cy="439.71" rx="1.78" ry="1.62" transform="rotate(120 152.64 439.71)"/><ellipse cx="112.43" cy="413.58" rx="1.83" ry="1.99" transform="rotate(66 112.43 413.58)"/><ellipse cx="152.72" cy="414.01" rx="1.79" ry="1.95" transform="rotate(80 152.72 414.01)"/><ellipse cx="100.19" cy="423.42" rx="2.01" ry="1.82" transform="rotate(69 100.19 423.42)"/><ellipse cx="112.06" cy="422.11" rx="1.62" ry="1.5" transform="rotate(41 112.06 422.11)"/><ellipse cx="138.8" cy="433.98" rx="1.38" ry="1.36" transform="rotate(123 138.8 433.98)"/><ellipse cx="151.78" cy="404.48" rx="2.25" ry="1.74" transform="rotate(154 151.78 404.48)"/><ellipse cx="154.04" cy="421.28" rx="2.34" ry="1.86" transform="rotate(55 154.04 421.28)"/><ellipse cx="127.57" cy="414.06" rx="3.05" ry="2.6" transform="rotate(10 127.57 414.06)"/><ellipse cx="98.49" cy="433.83" rx="1.09" ry="1.18" transform="rotate(54 98.49 433.83)"/><ellipse cx="100.52" cy="419.32" rx="1" ry="0.8" transform="rotate(45 100.52 419.32)"/><ellipse cx="138.35" cy="398.54" rx="1.5" ry="0.99" transform="rotate(85 138.35 398.54)"/><ellipse cx="96.87" cy="396.79" rx="2.56" ry="2.29" transform="rotate(131 96.87 396.79)"/><ellipse cx="100.21" cy="433.4" rx="2.78" ry="3.04" transform="rotate(147 100.21 433.4)"/><ellipse cx="135.01" cy="400.22" rx="2.53" ry="2.25" transform="rotate(32 135.01 400.22)"/><ellipse cx="97.28" cy="410.16" rx="2.61" ry="1.78" transform="rotate(81 97.28 410.16)"/><ellipse cx="128.24" cy="413.63" rx="2.91" ry="2.17" transform="rotate(92 128.24 413.63)"/><ellipse cx="89.63" cy="433.47" rx="2.29" ry="1.67" transform="rotate(121 89.63 433.47)"/><ellipse cx="90.48" cy="408.26" rx="2.7" ry="2.77" transform="rotate(86 90.48 408.26)"/><ellipse cx="150.86" cy="414.37" rx="2.5" ry="1.67" transform="rotate(54 150.86 414.37)"/><ellipse cx="127.83" cy="405.64" rx="1.18" ry="0.72" transform="rotate(54 127.83 405.64)"/><ellipse cx="96.08" cy="418.66" rx="2.24" ry="1.6" transform="rotate(164 96.08 418.66)"/><ellipse cx="130.87" cy="414.01" rx="1.23" ry="1.19" transform="rotate(176 130.87 414.01)"/><ellipse cx="99.63" cy="411.68" rx="2.43" ry="2.32" transform="rotate(41 99.63 411.68)"/><ellipse cx="89.09" cy="414.22" rx="2.35" ry="1.42" transform="rotate(179 89.09 414.22)"/><ellipse cx="99.54" cy="414.99" rx="2.94" ry="2.02" transform="rotate(45 99.54 414.99)"/><ellipse cx="120.27" cy="403.95" rx="2.54" ry="2.08" transform="rotate(63 120.27 403.95)"/><ellipse cx="117.42" cy="413.8" rx="1.6" ry="1.45" transform="rotate(29 117.42 413.8)"/><ellipse cx="96.28" cy="431.96" rx="2.61" ry="2.33" transform="rotate(41 96.28 431.96)"/><ellipse cx="140.56" cy="426.63" rx="2.44" ry="2.6" transform="rotate(67 140.56 426.63)"/><ellipse cx="147.48" cy="426.97" rx="1.68" ry="1.04" transform="rotate(180 147.48 426.97)"/><ellipse cx="140.21" cy="422.74" rx="1.15" ry="1.18" transform="rotate(32 140.21 422.74)"/><ellipse cx="144.89" cy="407.1" rx="1.98" ry="1.25" transform="rotate(27 144.89 407.1)"/><ellipse cx="89.96" cy="405.9" rx="2.42" ry="2.06" transform="rotate(10 89.96 405.9)"/><ellipse cx="157.44" cy="396.92" rx="2.56" ry="2.56" transform="rotate(98 157.44 396.92)"/><ellipse cx="154.05" cy="441.81" rx="2.67" ry="2.72" transform="rotate(165 154.05 441.81)"/><ellipse cx="150.3" cy="436.1" rx="2.65" ry="2.74" transform="rotate(65 150.3 436.1)"/><ellipse cx="104.44" cy="403.51" rx="2.64" ry="2.02" transform="rotate(70 104.44 403.51)"/><ellipse cx="124.54" cy="419.9" rx="1.05" ry="1.12" transform="rotate(145 124.54 419.9)"/><ellipse cx="150.63" cy="432.88" rx="2.99" ry="3.09" transform="rotate(131 150.63 432.88)"/><ellipse cx="148.46" cy="427.54" rx="1.7" ry="1.15" transform="rotate(131 148.46 427.54)"/><ellipse cx="131.17" cy="439.38" rx="2.5" ry="1.99" transform="rotate(74 131.17 439.38)"/></g>
<ellipse cx="124" cy="425.6" rx="6.4" ry="3.8" fill="#e4e2e6"/>
<ellipse cx="118" cy="440" rx="13" ry="7" fill="#8a4898" opacity="0.55"/>
</g>
<g clip-path="url(#cCW)">
<rect x="161" y="347.5" width="69.3" height="48.5" fill="#fff" filter="url(#gC1)"/>
<rect x="162.2" y="351.7" width="10.9" height="38" rx="4" fill="none" stroke="#5e2f82" stroke-width="1.1" opacity="0.55"/>
<rect x="173.9" y="350.7" width="11" height="39" rx="4" fill="none" stroke="#5e2f82" stroke-width="1.1" opacity="0.55"/>
<rect x="174.6" y="351.4" width="9.6" height="38" rx="3.5" fill="#fff" filter="url(#gC1b)" opacity="0.85"/>
<rect x="186.2" y="352.7" width="12.6" height="37" rx="4" fill="none" stroke="#5e2f82" stroke-width="1.1" opacity="0.55"/>
<rect x="200.2" y="351.7" width="9.6" height="38" rx="4" fill="none" stroke="#5e2f82" stroke-width="1.1" opacity="0.55"/>
<rect x="200.9" y="352.4" width="8.2" height="37" rx="3.5" fill="#fff" filter="url(#gC1b)" opacity="0.85"/>
<rect x="211.2" y="349.7" width="9.6" height="40" rx="4" fill="none" stroke="#5e2f82" stroke-width="1.1" opacity="0.55"/>
<rect x="211.9" y="350.4" width="8.2" height="39" rx="3.5" fill="#fff" filter="url(#gC1b)" opacity="0.85"/>
<rect x="221.2" y="350.7" width="9.6" height="39" rx="4" fill="none" stroke="#5e2f82" stroke-width="1.1" opacity="0.55"/>
<rect x="221.9" y="351.4" width="8.2" height="38" rx="3.5" fill="#fff" filter="url(#gC1b)" opacity="0.85"/>
<rect x="161" y="391" width="69.3" height="5" fill="#a66aaf" opacity="0.8"/>
</g>
<rect x="161" y="396" width="69.3" height="6" fill="#dad8dc"/>
<g clip-path="url(#cCG)">
<rect x="161" y="402" width="69.3" height="44.6" fill="#fff" filter="url(#gC2)"/>
<path d="M163.6 403 L163.6 434.3 Q163.6 439.8 170.5 439.8 Q177.4 439.8 177.4 434.3 L177.4 403" fill="none" stroke="#52267c" stroke-width="1.3"/>
<path d="M179.4 403 L179.4 434.3 Q179.4 439.8 185.2 439.8 Q191 439.8 191 434.3 L191 403" fill="none" stroke="#52267c" stroke-width="1.3"/>
<path d="M192.8 403 L192.8 434.3 Q192.8 439.8 199.1 439.8 Q205.4 439.8 205.4 434.3 L205.4 403" fill="none" stroke="#52267c" stroke-width="1.3"/>
<path d="M207.6 403 L207.6 434.3 Q207.6 439.8 214.1 439.8 Q220.6 439.8 220.6 434.3 L220.6 403" fill="none" stroke="#52267c" stroke-width="1.3"/>
<path d="M222.6 403 L222.6 434.3 Q222.6 439.8 229.3 439.8 Q236 439.8 236 434.3 L236 403" fill="none" stroke="#52267c" stroke-width="1.3"/>
<path d="M175.8 402 L181 402 L179.6 412 L178.9 436 L177.9 436 L177.2 412Z" fill="#7a4a9c" opacity="0.9"/>
<path d="M177 402.5 Q177.5 406 177.8 411" fill="none" stroke="#4a1f72" stroke-width="1.6"/>
<path d="M189.4 402 L194.6 402 L193.2 412 L192.5 436 L191.5 436 L190.8 412Z" fill="#7a4a9c" opacity="0.9"/>
<path d="M190.6 402.5 Q191.1 406 191.4 411" fill="none" stroke="#4a1f72" stroke-width="1.6"/>
<path d="M203.9 402 L209.1 402 L207.7 412 L207 436 L206 436 L205.3 412Z" fill="#7a4a9c" opacity="0.9"/>
<path d="M205.1 402.5 Q205.6 406 205.9 411" fill="none" stroke="#4a1f72" stroke-width="1.6"/>
<path d="M219 402 L224.2 402 L222.8 412 L222.1 436 L221.1 436 L220.4 412Z" fill="#7a4a9c" opacity="0.9"/>
<path d="M220.2 402.5 Q220.7 406 221 411" fill="none" stroke="#4a1f72" stroke-width="1.6"/>
<path d="M161 402 L165.5 402 L164.2 412 L163.6 436 L161 436Z" fill="#7a4a9c" opacity="0.9"/>
<rect x="161" y="440.6" width="69.3" height="6" fill="#fff" filter="url(#gP)"/>
<rect x="161" y="402" width="69.3" height="1.2" fill="#8b5aa5" opacity="0.6"/>
</g>
<text transform="translate(55.5,344.9) scale(0.95,1)" font-size="8.6" text-anchor="middle" font-weight="normal" fill="#111">Liver</text>
<text transform="translate(127,344.9) scale(0.95,1)" font-size="8.6" text-anchor="middle" font-weight="normal" fill="#111">Lung</text>
<text transform="translate(195.4,344.9) scale(0.95,1)" font-size="8.6" text-anchor="middle" font-weight="normal" fill="#111">Colon</text>
<text transform="translate(16.6,372.5) rotate(-90) scale(0.95,1)" font-size="8.4" text-anchor="middle" font-weight="normal" fill="#111">WT</text>
<text transform="translate(16.6,424) rotate(-90) scale(0.95,1)" font-size="8.4" text-anchor="middle" font-weight="normal" fill="#111">GM-CSF<tspan font-size="4.6" dy="-3">-/-</tspan></text>
<line x1="273.9" y1="357.1" x2="273.9" y2="437.5" stroke="#222" stroke-width="1.2"/>
<line x1="273.3" y1="436.9" x2="312.4" y2="436.9" stroke="#222" stroke-width="1.2"/>
<line x1="271.1" y1="436.9" x2="273.9" y2="436.9" stroke="#222" stroke-width="1"/>
<text transform="translate(268.7,439.9)" font-size="8.6" text-anchor="end" font-weight="normal" fill="#222">0</text>
<line x1="271.1" y1="411.1" x2="273.9" y2="411.1" stroke="#222" stroke-width="1"/>
<text transform="translate(268.7,414.1)" font-size="8.6" text-anchor="end" font-weight="normal" fill="#222">5</text>
<line x1="271.1" y1="385.3" x2="273.9" y2="385.3" stroke="#222" stroke-width="1"/>
<text transform="translate(268.7,388.3)" font-size="8.6" text-anchor="end" font-weight="normal" fill="#222">10</text>
<line x1="271.1" y1="359.5" x2="273.9" y2="359.5" stroke="#222" stroke-width="1"/>
<text transform="translate(268.7,362.5)" font-size="8.6" text-anchor="end" font-weight="normal" fill="#222">15</text>
<text transform="translate(293.4,346) scale(0.97,1)" font-size="9.4" text-anchor="middle" font-weight="normal" fill="#111">Liver</text>
<circle cx="277.85" cy="431.74" r="1.55" fill="#5a2a84" stroke="#1a1020" stroke-width="0.6"/>
<circle cx="280.15" cy="431.74" r="1.55" fill="#5a2a84" stroke="#1a1020" stroke-width="0.6"/>
<circle cx="276.7" cy="436.9" r="1.55" fill="#5a2a84" stroke="#1a1020" stroke-width="0.6"/>
<circle cx="279" cy="436.9" r="1.55" fill="#5a2a84" stroke="#1a1020" stroke-width="0.6"/>
<circle cx="281.3" cy="436.9" r="1.55" fill="#5a2a84" stroke="#1a1020" stroke-width="0.6"/>
<line x1="279" y1="432.26" x2="279" y2="436.9" stroke="#000" stroke-width="1.05"/>
<line x1="277.2" y1="432.26" x2="280.8" y2="432.26" stroke="#000" stroke-width="1.05"/>
<line x1="277.2" y1="436.9" x2="280.8" y2="436.9" stroke="#000" stroke-width="1.05"/>
<line x1="275.2" y1="435.09" x2="282.8" y2="435.09" stroke="#000" stroke-width="1.2"/>
<path d="M286.93 430.43L290.27 430.43L288.6 433.5Z" fill="#f6c400" stroke="#2a2000" stroke-width="0.6"/>
<path d="M284.53 435.59L287.87 435.59L286.2 438.66Z" fill="#f6c400" stroke="#2a2000" stroke-width="0.6"/>
<path d="M286.93 435.59L290.27 435.59L288.6 438.66Z" fill="#f6c400" stroke="#2a2000" stroke-width="0.6"/>
<path d="M289.33 435.59L292.67 435.59L291 438.66Z" fill="#f6c400" stroke="#2a2000" stroke-width="0.6"/>
<line x1="288.6" y1="433.03" x2="288.6" y2="436.9" stroke="#000" stroke-width="1.05"/>
<line x1="286.8" y1="433.03" x2="290.4" y2="433.03" stroke="#000" stroke-width="1.05"/>
<line x1="286.8" y1="436.9" x2="290.4" y2="436.9" stroke="#000" stroke-width="1.05"/>
<line x1="284.8" y1="435.61" x2="292.4" y2="435.61" stroke="#000" stroke-width="1.2"/>
<line x1="288.6" y1="436.9" x2="288.6" y2="439.2" stroke="#222" stroke-width="0.9"/>
<path d="M297.8 363.08L299.38 364.66L297.8 366.24L296.22 364.66Z" fill="#bf0029" stroke="#1a1020" stroke-width="0.6"/>
<path d="M297.8 378.56L299.38 380.14L297.8 381.72L296.22 380.14Z" fill="#bf0029" stroke="#1a1020" stroke-width="0.6"/>
<path d="M297.8 388.88L299.38 390.46L297.8 392.04L296.22 390.46Z" fill="#bf0029" stroke="#1a1020" stroke-width="0.6"/>
<path d="M297.8 394.04L299.38 395.62L297.8 397.2L296.22 395.62Z" fill="#bf0029" stroke="#1a1020" stroke-width="0.6"/>
<path d="M297.8 399.2L299.38 400.78L297.8 402.36L296.22 400.78Z" fill="#bf0029" stroke="#1a1020" stroke-width="0.6"/>
<path d="M296.6 404.36L298.18 405.94L296.6 407.52L295.02 405.94Z" fill="#bf0029" stroke="#1a1020" stroke-width="0.6"/>
<path d="M299 404.36L300.58 405.94L299 407.52L297.42 405.94Z" fill="#bf0029" stroke="#1a1020" stroke-width="0.6"/>
<path d="M295.4 409.52L296.98 411.1L295.4 412.68L293.82 411.1Z" fill="#bf0029" stroke="#1a1020" stroke-width="0.6"/>
<path d="M297.8 409.52L299.38 411.1L297.8 412.68L296.22 411.1Z" fill="#bf0029" stroke="#1a1020" stroke-width="0.6"/>
<path d="M300.2 409.52L301.78 411.1L300.2 412.68L298.62 411.1Z" fill="#bf0029" stroke="#1a1020" stroke-width="0.6"/>
<path d="M297.8 414.68L299.38 416.26L297.8 417.84L296.22 416.26Z" fill="#bf0029" stroke="#1a1020" stroke-width="0.6"/>
<path d="M295.4 419.84L296.98 421.42L295.4 423L293.82 421.42Z" fill="#bf0029" stroke="#1a1020" stroke-width="0.6"/>
<path d="M297.8 419.84L299.38 421.42L297.8 423L296.22 421.42Z" fill="#bf0029" stroke="#1a1020" stroke-width="0.6"/>
<path d="M300.2 419.84L301.78 421.42L300.2 423L298.62 421.42Z" fill="#bf0029" stroke="#1a1020" stroke-width="0.6"/>
<path d="M295.4 425L296.98 426.58L295.4 428.16L293.82 426.58Z" fill="#bf0029" stroke="#1a1020" stroke-width="0.6"/>
<path d="M297.8 425L299.38 426.58L297.8 428.16L296.22 426.58Z" fill="#bf0029" stroke="#1a1020" stroke-width="0.6"/>
<path d="M300.2 425L301.78 426.58L300.2 428.16L298.62 426.58Z" fill="#bf0029" stroke="#1a1020" stroke-width="0.6"/>
<line x1="297.8" y1="390.98" x2="297.8" y2="426.06" stroke="#000" stroke-width="1.05"/>
<line x1="296" y1="390.98" x2="299.6" y2="390.98" stroke="#000" stroke-width="1.05"/>
<line x1="296" y1="426.06" x2="299.6" y2="426.06" stroke="#000" stroke-width="1.05"/>
<line x1="294" y1="408" x2="301.6" y2="408" stroke="#000" stroke-width="1.2"/>
<line x1="297.8" y1="436.9" x2="297.8" y2="439.2" stroke="#222" stroke-width="0.9"/>
<rect x="305.64" y="389.1" width="2.73" height="2.73" fill="#26457f" stroke="#1a1020" stroke-width="0.6"/>
<rect x="305.64" y="394.26" width="2.73" height="2.73" fill="#26457f" stroke="#1a1020" stroke-width="0.6"/>
<rect x="303.04" y="399.42" width="2.73" height="2.73" fill="#26457f" stroke="#1a1020" stroke-width="0.6"/>
<rect x="305.64" y="399.42" width="2.73" height="2.73" fill="#26457f" stroke="#1a1020" stroke-width="0.6"/>
<rect x="308.24" y="399.42" width="2.73" height="2.73" fill="#26457f" stroke="#1a1020" stroke-width="0.6"/>
<rect x="305.64" y="404.58" width="2.73" height="2.73" fill="#26457f" stroke="#1a1020" stroke-width="0.6"/>
<rect x="303.04" y="420.06" width="2.73" height="2.73" fill="#26457f" stroke="#1a1020" stroke-width="0.6"/>
<rect x="305.64" y="420.06" width="2.73" height="2.73" fill="#26457f" stroke="#1a1020" stroke-width="0.6"/>
<rect x="308.24" y="420.06" width="2.73" height="2.73" fill="#26457f" stroke="#1a1020" stroke-width="0.6"/>
<rect x="303.04" y="425.22" width="2.73" height="2.73" fill="#26457f" stroke="#1a1020" stroke-width="0.6"/>
<rect x="305.64" y="425.22" width="2.73" height="2.73" fill="#26457f" stroke="#1a1020" stroke-width="0.6"/>
<rect x="308.24" y="425.22" width="2.73" height="2.73" fill="#26457f" stroke="#1a1020" stroke-width="0.6"/>
<line x1="307" y1="398.72" x2="307" y2="425.55" stroke="#000" stroke-width="1.05"/>
<line x1="305.2" y1="398.72" x2="308.8" y2="398.72" stroke="#000" stroke-width="1.05"/>
<line x1="305.2" y1="425.55" x2="308.8" y2="425.55" stroke="#000" stroke-width="1.05"/>
<line x1="303.2" y1="411.62" x2="310.8" y2="411.62" stroke="#000" stroke-width="1.2"/>
<line x1="307" y1="436.9" x2="307" y2="439.2" stroke="#222" stroke-width="0.9"/>
<line x1="280" y1="358.9" x2="298.7" y2="358.9" stroke="#111" stroke-width="1"/>
<text transform="translate(289.35,358.7)" font-size="8.4" text-anchor="middle" font-weight="normal" fill="#111">***</text>
<line x1="337.1" y1="357.1" x2="337.1" y2="437.5" stroke="#222" stroke-width="1.2"/>
<line x1="336.5" y1="436.9" x2="375.2" y2="436.9" stroke="#222" stroke-width="1.2"/>
<line x1="334.3" y1="436.9" x2="337.1" y2="436.9" stroke="#222" stroke-width="1"/>
<text transform="translate(331.9,439.9)" font-size="8.6" text-anchor="end" font-weight="normal" fill="#222">0</text>
<line x1="334.3" y1="411.1" x2="337.1" y2="411.1" stroke="#222" stroke-width="1"/>
<text transform="translate(331.9,414.1)" font-size="8.6" text-anchor="end" font-weight="normal" fill="#222">5</text>
<line x1="334.3" y1="385.3" x2="337.1" y2="385.3" stroke="#222" stroke-width="1"/>
<text transform="translate(331.9,388.3)" font-size="8.6" text-anchor="end" font-weight="normal" fill="#222">10</text>
<line x1="334.3" y1="359.5" x2="337.1" y2="359.5" stroke="#222" stroke-width="1"/>
<text transform="translate(331.9,362.5)" font-size="8.6" text-anchor="end" font-weight="normal" fill="#222">15</text>
<text transform="translate(355.9,346) scale(0.97,1)" font-size="9.4" text-anchor="middle" font-weight="normal" fill="#111">Lung</text>
<circle cx="342.1" cy="395.62" r="1.55" fill="#5a2a84" stroke="#1a1020" stroke-width="0.6"/>
<circle cx="342.1" cy="426.58" r="1.55" fill="#5a2a84" stroke="#1a1020" stroke-width="0.6"/>
<circle cx="342.1" cy="431.74" r="1.55" fill="#5a2a84" stroke="#1a1020" stroke-width="0.6"/>
<circle cx="339.6" cy="436.9" r="1.55" fill="#5a2a84" stroke="#1a1020" stroke-width="0.6"/>
<circle cx="342.1" cy="436.9" r="1.55" fill="#5a2a84" stroke="#1a1020" stroke-width="0.6"/>
<circle cx="344.6" cy="436.9" r="1.55" fill="#5a2a84" stroke="#1a1020" stroke-width="0.6"/>
<line x1="342.1" y1="416.26" x2="342.1" y2="436.9" stroke="#000" stroke-width="1.05"/>
<line x1="340.3" y1="416.26" x2="343.9" y2="416.26" stroke="#000" stroke-width="1.05"/>
<line x1="340.3" y1="436.9" x2="343.9" y2="436.9" stroke="#000" stroke-width="1.05"/>
<line x1="338.3" y1="430.19" x2="345.9" y2="430.19" stroke="#000" stroke-width="1.2"/>
<path d="M349.63 425.27L352.97 425.27L351.3 428.34Z" fill="#f6c400" stroke="#2a2000" stroke-width="0.6"/>
<path d="M349.63 430.43L352.97 430.43L351.3 433.5Z" fill="#f6c400" stroke="#2a2000" stroke-width="0.6"/>
<path d="M347.13 435.59L350.47 435.59L348.8 438.66Z" fill="#f6c400" stroke="#2a2000" stroke-width="0.6"/>
<path d="M349.63 435.59L352.97 435.59L351.3 438.66Z" fill="#f6c400" stroke="#2a2000" stroke-width="0.6"/>
<path d="M352.13 435.59L355.47 435.59L353.8 438.66Z" fill="#f6c400" stroke="#2a2000" stroke-width="0.6"/>
<line x1="351.3" y1="426.58" x2="351.3" y2="436.9" stroke="#000" stroke-width="1.05"/>
<line x1="349.5" y1="426.58" x2="353.1" y2="426.58" stroke="#000" stroke-width="1.05"/>
<line x1="349.5" y1="436.9" x2="353.1" y2="436.9" stroke="#000" stroke-width="1.05"/>
<line x1="347.5" y1="434.84" x2="355.1" y2="434.84" stroke="#000" stroke-width="1.2"/>
<line x1="351.3" y1="436.9" x2="351.3" y2="439.2" stroke="#222" stroke-width="0.9"/>
<path d="M359.5 383.72L361.08 385.3L359.5 386.88L357.92 385.3Z" fill="#bf0029" stroke="#1a1020" stroke-width="0.6"/>
<path d="M361.5 383.72L363.08 385.3L361.5 386.88L359.92 385.3Z" fill="#bf0029" stroke="#1a1020" stroke-width="0.6"/>
<path d="M359 409.52L360.58 411.1L359 412.68L357.42 411.1Z" fill="#bf0029" stroke="#1a1020" stroke-width="0.6"/>
<path d="M362 409.52L363.58 411.1L362 412.68L360.42 411.1Z" fill="#bf0029" stroke="#1a1020" stroke-width="0.6"/>
<path d="M357.5 414.68L359.08 416.26L357.5 417.84L355.92 416.26Z" fill="#bf0029" stroke="#1a1020" stroke-width="0.6"/>
<path d="M360.5 414.68L362.08 416.26L360.5 417.84L358.92 416.26Z" fill="#bf0029" stroke="#1a1020" stroke-width="0.6"/>
<path d="M363.5 414.68L365.08 416.26L363.5 417.84L361.92 416.26Z" fill="#bf0029" stroke="#1a1020" stroke-width="0.6"/>
<path d="M357.5 419.84L359.08 421.42L357.5 423L355.92 421.42Z" fill="#bf0029" stroke="#1a1020" stroke-width="0.6"/>
<path d="M360.5 419.84L362.08 421.42L360.5 423L358.92 421.42Z" fill="#bf0029" stroke="#1a1020" stroke-width="0.6"/>
<path d="M363.5 419.84L365.08 421.42L363.5 423L361.92 421.42Z" fill="#bf0029" stroke="#1a1020" stroke-width="0.6"/>
<path d="M360.5 425L362.08 426.58L360.5 428.16L358.92 426.58Z" fill="#bf0029" stroke="#1a1020" stroke-width="0.6"/>
<path d="M360.5 435.32L362.08 436.9L360.5 438.48L358.92 436.9Z" fill="#bf0029" stroke="#1a1020" stroke-width="0.6"/>
<line x1="360.5" y1="401.81" x2="360.5" y2="431.74" stroke="#000" stroke-width="1.05"/>
<line x1="358.7" y1="401.81" x2="362.3" y2="401.81" stroke="#000" stroke-width="1.05"/>
<line x1="358.7" y1="431.74" x2="362.3" y2="431.74" stroke="#000" stroke-width="1.05"/>
<line x1="356.7" y1="419.36" x2="364.3" y2="419.36" stroke="#000" stroke-width="1.2"/>
<line x1="360.5" y1="436.9" x2="360.5" y2="439.2" stroke="#222" stroke-width="0.9"/>
<rect x="367.94" y="404.58" width="2.73" height="2.73" fill="#26457f" stroke="#1a1020" stroke-width="0.6"/>
<rect x="367.94" y="414.9" width="2.73" height="2.73" fill="#26457f" stroke="#1a1020" stroke-width="0.6"/>
<rect x="367.94" y="420.06" width="2.73" height="2.73" fill="#26457f" stroke="#1a1020" stroke-width="0.6"/>
<rect x="364.94" y="425.22" width="2.73" height="2.73" fill="#26457f" stroke="#1a1020" stroke-width="0.6"/>
<rect x="367.94" y="425.22" width="2.73" height="2.73" fill="#26457f" stroke="#1a1020" stroke-width="0.6"/>
<rect x="370.94" y="425.22" width="2.73" height="2.73" fill="#26457f" stroke="#1a1020" stroke-width="0.6"/>
<rect x="364.94" y="435.54" width="2.73" height="2.73" fill="#26457f" stroke="#1a1020" stroke-width="0.6"/>
<rect x="367.94" y="435.54" width="2.73" height="2.73" fill="#26457f" stroke="#1a1020" stroke-width="0.6"/>
<rect x="370.94" y="435.54" width="2.73" height="2.73" fill="#26457f" stroke="#1a1020" stroke-width="0.6"/>
<line x1="369.3" y1="418.32" x2="369.3" y2="436.9" stroke="#000" stroke-width="1.05"/>
<line x1="367.5" y1="418.32" x2="371.1" y2="418.32" stroke="#000" stroke-width="1.05"/>
<line x1="367.5" y1="436.9" x2="371.1" y2="436.9" stroke="#000" stroke-width="1.05"/>
<line x1="365.5" y1="426.06" x2="373.1" y2="426.06" stroke="#000" stroke-width="1.2"/>
<line x1="369.3" y1="436.9" x2="369.3" y2="439.2" stroke="#222" stroke-width="0.9"/>
<line x1="343.5" y1="364" x2="360.5" y2="364" stroke="#111" stroke-width="1"/>
<text transform="translate(352,363.8)" font-size="8.4" text-anchor="middle" font-weight="normal" fill="#111">*</text>
<line x1="399.4" y1="357.1" x2="399.4" y2="437.5" stroke="#222" stroke-width="1.2"/>
<line x1="398.8" y1="436.9" x2="436.7" y2="436.9" stroke="#222" stroke-width="1.2"/>
<line x1="396.6" y1="436.9" x2="399.4" y2="436.9" stroke="#222" stroke-width="1"/>
<text transform="translate(394.2,439.9)" font-size="8.6" text-anchor="end" font-weight="normal" fill="#222">0</text>
<line x1="396.6" y1="411.1" x2="399.4" y2="411.1" stroke="#222" stroke-width="1"/>
<text transform="translate(394.2,414.1)" font-size="8.6" text-anchor="end" font-weight="normal" fill="#222">5</text>
<line x1="396.6" y1="385.3" x2="399.4" y2="385.3" stroke="#222" stroke-width="1"/>
<text transform="translate(394.2,388.3)" font-size="8.6" text-anchor="end" font-weight="normal" fill="#222">10</text>
<line x1="396.6" y1="359.5" x2="399.4" y2="359.5" stroke="#222" stroke-width="1"/>
<text transform="translate(394.2,362.5)" font-size="8.6" text-anchor="end" font-weight="normal" fill="#222">15</text>
<text transform="translate(419,346) scale(0.97,1)" font-size="9.4" text-anchor="middle" font-weight="normal" fill="#111">Colon</text>
<circle cx="400.7" cy="436.9" r="1.55" fill="#5a2a84" stroke="#1a1020" stroke-width="0.6"/>
<circle cx="402.7" cy="436.9" r="1.55" fill="#5a2a84" stroke="#1a1020" stroke-width="0.6"/>
<circle cx="404.7" cy="436.9" r="1.55" fill="#5a2a84" stroke="#1a1020" stroke-width="0.6"/>
<circle cx="406.7" cy="436.9" r="1.55" fill="#5a2a84" stroke="#1a1020" stroke-width="0.6"/>
<line x1="403.7" y1="436.9" x2="403.7" y2="436.9" stroke="#000" stroke-width="1.05"/>
<line x1="401.9" y1="436.9" x2="405.5" y2="436.9" stroke="#000" stroke-width="1.05"/>
<line x1="401.9" y1="436.9" x2="405.5" y2="436.9" stroke="#000" stroke-width="1.05"/>
<line x1="399.9" y1="436.9" x2="407.5" y2="436.9" stroke="#000" stroke-width="1.2"/>
<path d="M409.03 435.59L412.37 435.59L410.7 438.66Z" fill="#f6c400" stroke="#2a2000" stroke-width="0.6"/>
<path d="M411.03 435.59L414.37 435.59L412.7 438.66Z" fill="#f6c400" stroke="#2a2000" stroke-width="0.6"/>
<path d="M413.03 435.59L416.37 435.59L414.7 438.66Z" fill="#f6c400" stroke="#2a2000" stroke-width="0.6"/>
<path d="M415.03 435.59L418.37 435.59L416.7 438.66Z" fill="#f6c400" stroke="#2a2000" stroke-width="0.6"/>
<line x1="413.7" y1="436.9" x2="413.7" y2="436.9" stroke="#000" stroke-width="1.05"/>
<line x1="411.9" y1="436.9" x2="415.5" y2="436.9" stroke="#000" stroke-width="1.05"/>
<line x1="411.9" y1="436.9" x2="415.5" y2="436.9" stroke="#000" stroke-width="1.05"/>
<line x1="409.9" y1="436.9" x2="417.5" y2="436.9" stroke="#000" stroke-width="1.2"/>
<line x1="413.7" y1="436.9" x2="413.7" y2="439.2" stroke="#222" stroke-width="0.9"/>
<path d="M423.1 357.92L424.68 359.5L423.1 361.08L421.52 359.5Z" fill="#bf0029" stroke="#1a1020" stroke-width="0.6"/>
<path d="M423.1 368.24L424.68 369.82L423.1 371.4L421.52 369.82Z" fill="#bf0029" stroke="#1a1020" stroke-width="0.6"/>
<path d="M421.8 378.56L423.38 380.14L421.8 381.72L420.22 380.14Z" fill="#bf0029" stroke="#1a1020" stroke-width="0.6"/>
<path d="M424.4 378.56L425.98 380.14L424.4 381.72L422.82 380.14Z" fill="#bf0029" stroke="#1a1020" stroke-width="0.6"/>
<path d="M423.1 383.72L424.68 385.3L423.1 386.88L421.52 385.3Z" fill="#bf0029" stroke="#1a1020" stroke-width="0.6"/>
<path d="M421.8 388.88L423.38 390.46L421.8 392.04L420.22 390.46Z" fill="#bf0029" stroke="#1a1020" stroke-width="0.6"/>
<path d="M424.4 388.88L425.98 390.46L424.4 392.04L422.82 390.46Z" fill="#bf0029" stroke="#1a1020" stroke-width="0.6"/>
<path d="M423.1 394.04L424.68 395.62L423.1 397.2L421.52 395.62Z" fill="#bf0029" stroke="#1a1020" stroke-width="0.6"/>
<path d="M423.1 399.2L424.68 400.78L423.1 402.36L421.52 400.78Z" fill="#bf0029" stroke="#1a1020" stroke-width="0.6"/>
<path d="M423.1 414.68L424.68 416.26L423.1 417.84L421.52 416.26Z" fill="#bf0029" stroke="#1a1020" stroke-width="0.6"/>
<path d="M420.5 419.84L422.08 421.42L420.5 423L418.92 421.42Z" fill="#bf0029" stroke="#1a1020" stroke-width="0.6"/>
<path d="M423.1 419.84L424.68 421.42L423.1 423L421.52 421.42Z" fill="#bf0029" stroke="#1a1020" stroke-width="0.6"/>
<path d="M425.7 419.84L427.28 421.42L425.7 423L424.12 421.42Z" fill="#bf0029" stroke="#1a1020" stroke-width="0.6"/>
<path d="M423.1 425L424.68 426.58L423.1 428.16L421.52 426.58Z" fill="#bf0029" stroke="#1a1020" stroke-width="0.6"/>
<path d="M423.1 430.16L424.68 431.74L423.1 433.32L421.52 431.74Z" fill="#bf0029" stroke="#1a1020" stroke-width="0.6"/>
<line x1="423.1" y1="377.04" x2="423.1" y2="421.42" stroke="#000" stroke-width="1.05"/>
<line x1="421.3" y1="377.04" x2="424.9" y2="377.04" stroke="#000" stroke-width="1.05"/>
<line x1="421.3" y1="421.42" x2="424.9" y2="421.42" stroke="#000" stroke-width="1.05"/>
<line x1="419.3" y1="399.23" x2="426.9" y2="399.23" stroke="#000" stroke-width="1.2"/>
<line x1="423.1" y1="436.9" x2="423.1" y2="439.2" stroke="#222" stroke-width="0.9"/>
<rect x="431.14" y="394.26" width="2.73" height="2.73" fill="#26457f" stroke="#1a1020" stroke-width="0.6"/>
<rect x="431.14" y="404.58" width="2.73" height="2.73" fill="#26457f" stroke="#1a1020" stroke-width="0.6"/>
<rect x="431.14" y="409.74" width="2.73" height="2.73" fill="#26457f" stroke="#1a1020" stroke-width="0.6"/>
<rect x="431.14" y="414.9" width="2.73" height="2.73" fill="#26457f" stroke="#1a1020" stroke-width="0.6"/>
<rect x="431.14" y="425.22" width="2.73" height="2.73" fill="#26457f" stroke="#1a1020" stroke-width="0.6"/>
<rect x="431.14" y="430.38" width="2.73" height="2.73" fill="#26457f" stroke="#1a1020" stroke-width="0.6"/>
<rect x="428.54" y="435.54" width="2.73" height="2.73" fill="#26457f" stroke="#1a1020" stroke-width="0.6"/>
<rect x="431.14" y="435.54" width="2.73" height="2.73" fill="#26457f" stroke="#1a1020" stroke-width="0.6"/>
<rect x="433.74" y="435.54" width="2.73" height="2.73" fill="#26457f" stroke="#1a1020" stroke-width="0.6"/>
<line x1="432.5" y1="412.65" x2="432.5" y2="436.9" stroke="#000" stroke-width="1.05"/>
<line x1="430.7" y1="412.65" x2="434.3" y2="412.65" stroke="#000" stroke-width="1.05"/>
<line x1="430.7" y1="436.9" x2="434.3" y2="436.9" stroke="#000" stroke-width="1.05"/>
<line x1="428.7" y1="426.22" x2="436.3" y2="426.22" stroke="#000" stroke-width="1.2"/>
<line x1="432.5" y1="436.9" x2="432.5" y2="439.2" stroke="#222" stroke-width="0.9"/>
<line x1="407.7" y1="357.7" x2="421" y2="357.7" stroke="#111" stroke-width="1"/>
<text transform="translate(414.35,357.5)" font-size="8.4" text-anchor="middle" font-weight="normal" fill="#111">****</text>
<line x1="424.4" y1="357.7" x2="436.5" y2="357.7" stroke="#111" stroke-width="1"/>
<text transform="translate(430.45,357.5)" font-size="8.4" text-anchor="middle" font-weight="normal" fill="#111">***</text>
<text transform="translate(254,397.2) rotate(-90)" font-size="9.2" text-anchor="middle" font-weight="normal" fill="#222" textLength="52.5" lengthAdjust="spacingAndGlyphs">Pathology score</text>
<circle cx="448.7" cy="381.2" r="1.55" fill="#5a2a84" stroke="#1a1020" stroke-width="0.6"/>
<text transform="translate(452.9,383.7) scale(0.97,1)" font-size="7.9" text-anchor="start" font-weight="normal" fill="#111">WT BM</text>
<path d="M447.03 389.94L450.37 389.94L448.7 393.01Z" fill="#f6c400" stroke="#2a2000" stroke-width="0.6"/>
<text transform="translate(452.9,393.75) scale(0.97,1)" font-size="7.9" text-anchor="start" font-weight="normal" fill="#111">GM-CSF<tspan font-size="4.8" dy="-3.1">-/-</tspan><tspan dy="3.1"> </tspan>BM</text>
<circle cx="448.7" cy="401.3" r="1.55" fill="#a0102a" stroke="#1a1020" stroke-width="0.5"/>
<text transform="translate(452.9,403.8) scale(0.97,1)" font-size="7.9" text-anchor="start" font-weight="normal" fill="#111">WT BM + T</text>
<rect x="447.34" y="409.99" width="2.73" height="2.73" fill="#26457f" stroke="#1a1020" stroke-width="0.6"/>
<text transform="translate(452.9,413.85) scale(0.97,1)" font-size="7.9" text-anchor="start" font-weight="normal" fill="#111">GM-CSF<tspan font-size="4.8" dy="-3.1">-/-</tspan><tspan dy="3.1"> </tspan>BM + T</text>
<line x1="38.3" y1="501.7" x2="38.3" y2="614.1" stroke="#222" stroke-width="1.2"/>
<line x1="37.7" y1="613.5" x2="110.4" y2="613.5" stroke="#222" stroke-width="1.2"/>
<line x1="35.5" y1="613.5" x2="38.3" y2="613.5" stroke="#222" stroke-width="1"/>
<text transform="translate(33.1,616.5)" font-size="8.6" text-anchor="end" font-weight="normal" fill="#222">0</text>
<line x1="35.5" y1="577.03" x2="38.3" y2="577.03" stroke="#222" stroke-width="1"/>
<text transform="translate(33.1,580.03)" font-size="8.6" text-anchor="end" font-weight="normal" fill="#222">5</text>
<line x1="35.5" y1="540.57" x2="38.3" y2="540.57" stroke="#222" stroke-width="1"/>
<text transform="translate(33.1,543.57)" font-size="8.6" text-anchor="end" font-weight="normal" fill="#222">10</text>
<line x1="35.5" y1="504.1" x2="38.3" y2="504.1" stroke="#222" stroke-width="1"/>
<text transform="translate(33.1,507.1)" font-size="8.6" text-anchor="end" font-weight="normal" fill="#222">15</text>
<line x1="74.9" y1="503.9" x2="74.9" y2="613.5" stroke="#707070" stroke-width="1.4"/>
<text transform="translate(74.8,483.4) scale(0.99,1)" font-size="9.7" text-anchor="middle" font-weight="normal" fill="#111">Liver</text>
<text transform="translate(56.6,495.3) scale(0.96,1)" font-size="7.9" text-anchor="middle" font-weight="normal" fill="#111">CD4</text>
<text transform="translate(93.1,495.3) scale(0.96,1)" font-size="7.9" text-anchor="middle" font-weight="normal" fill="#111">CD8</text>
<path d="M48.2 574.26L50.24 576.3L48.2 578.34L46.16 576.3Z" fill="#bf0029" stroke="#1a1020" stroke-width="0.6"/>
<path d="M49.6 590.67L51.64 592.71L49.6 594.75L47.56 592.71Z" fill="#bf0029" stroke="#1a1020" stroke-width="0.6"/>
<path d="M47.4 593.23L49.44 595.27L47.4 597.31L45.36 595.27Z" fill="#bf0029" stroke="#1a1020" stroke-width="0.6"/>
<path d="M44 598.33L46.04 600.37L44 602.41L41.96 600.37Z" fill="#bf0029" stroke="#1a1020" stroke-width="0.6"/>
<path d="M48.2 596.87L50.24 598.91L48.2 600.95L46.16 598.91Z" fill="#bf0029" stroke="#1a1020" stroke-width="0.6"/>
<path d="M50.4 599.06L52.44 601.1L50.4 603.14L48.36 601.1Z" fill="#bf0029" stroke="#1a1020" stroke-width="0.6"/>
<path d="M52.8 600.88L54.84 602.92L52.8 604.96L50.76 602.92Z" fill="#bf0029" stroke="#1a1020" stroke-width="0.6"/>
<path d="M49.6 603.07L51.64 605.11L49.6 607.15L47.56 605.11Z" fill="#bf0029" stroke="#1a1020" stroke-width="0.6"/>
<path d="M42.4 604.68L44.44 606.72L42.4 608.76L40.36 606.72Z" fill="#bf0029" stroke="#1a1020" stroke-width="0.6"/>
<path d="M44.8 605.04L46.84 607.08L44.8 609.12L42.76 607.08Z" fill="#bf0029" stroke="#1a1020" stroke-width="0.6"/>
<path d="M47.2 605.48L49.24 607.52L47.2 609.56L45.16 607.52Z" fill="#bf0029" stroke="#1a1020" stroke-width="0.6"/>
<path d="M51.2 607.23L53.24 609.27L51.2 611.31L49.16 609.27Z" fill="#bf0029" stroke="#1a1020" stroke-width="0.6"/>
<path d="M54.4 608.69L56.44 610.73L54.4 612.77L52.36 610.73Z" fill="#bf0029" stroke="#1a1020" stroke-width="0.6"/>
<line x1="48.2" y1="592.35" x2="48.2" y2="609.12" stroke="#000" stroke-width="1.05"/>
<line x1="45.2" y1="592.35" x2="51.2" y2="592.35" stroke="#000" stroke-width="1.05"/>
<line x1="45.2" y1="609.12" x2="51.2" y2="609.12" stroke="#000" stroke-width="1.05"/>
<line x1="40.6" y1="600.74" x2="55.8" y2="600.74" stroke="#000" stroke-width="1.2"/>
<line x1="48.2" y1="613.5" x2="48.2" y2="615.8" stroke="#222" stroke-width="0.9"/>
<rect x="63.64" y="573.38" width="3.52" height="3.52" fill="#26457f" stroke="#1a1020" stroke-width="0.6"/>
<rect x="59.44" y="586.58" width="3.52" height="3.52" fill="#26457f" stroke="#1a1020" stroke-width="0.6"/>
<rect x="67.84" y="585.78" width="3.52" height="3.52" fill="#26457f" stroke="#1a1020" stroke-width="0.6"/>
<rect x="62.44" y="590.22" width="3.52" height="3.52" fill="#26457f" stroke="#1a1020" stroke-width="0.6"/>
<rect x="64.84" y="589.13" width="3.52" height="3.52" fill="#26457f" stroke="#1a1020" stroke-width="0.6"/>
<rect x="65.44" y="593.51" width="3.52" height="3.52" fill="#26457f" stroke="#1a1020" stroke-width="0.6"/>
<rect x="59.64" y="597.88" width="3.52" height="3.52" fill="#26457f" stroke="#1a1020" stroke-width="0.6"/>
<rect x="68.14" y="596.42" width="3.52" height="3.52" fill="#26457f" stroke="#1a1020" stroke-width="0.6"/>
<rect x="58.04" y="600.44" width="3.52" height="3.52" fill="#26457f" stroke="#1a1020" stroke-width="0.6"/>
<rect x="60.64" y="603.35" width="3.52" height="3.52" fill="#26457f" stroke="#1a1020" stroke-width="0.6"/>
<rect x="63.64" y="604.81" width="3.52" height="3.52" fill="#26457f" stroke="#1a1020" stroke-width="0.6"/>
<rect x="66.64" y="605.18" width="3.52" height="3.52" fill="#26457f" stroke="#1a1020" stroke-width="0.6"/>
<rect x="69.44" y="605.18" width="3.52" height="3.52" fill="#26457f" stroke="#1a1020" stroke-width="0.6"/>
<line x1="65.4" y1="588.7" x2="65.4" y2="604.02" stroke="#000" stroke-width="1.05"/>
<line x1="62.4" y1="588.7" x2="68.4" y2="588.7" stroke="#000" stroke-width="1.05"/>
<line x1="62.4" y1="604.02" x2="68.4" y2="604.02" stroke="#000" stroke-width="1.05"/>
<line x1="57.8" y1="595.63" x2="73" y2="595.63" stroke="#000" stroke-width="1.2"/>
<line x1="65.4" y1="613.5" x2="65.4" y2="615.8" stroke="#222" stroke-width="0.9"/>
<path d="M84.1 545.46L86.14 547.5L84.1 549.54L82.06 547.5Z" fill="#bf0029" stroke="#1a1020" stroke-width="0.6"/>
<path d="M78.9 558.58L80.94 560.62L78.9 562.66L76.86 560.62Z" fill="#bf0029" stroke="#1a1020" stroke-width="0.6"/>
<path d="M82.2 559.31L84.24 561.35L82.2 563.39L80.16 561.35Z" fill="#bf0029" stroke="#1a1020" stroke-width="0.6"/>
<path d="M86.1 556.76L88.14 558.8L86.1 560.84L84.06 558.8Z" fill="#bf0029" stroke="#1a1020" stroke-width="0.6"/>
<path d="M89.9 561.87L91.94 563.91L89.9 565.95L87.86 563.91Z" fill="#bf0029" stroke="#1a1020" stroke-width="0.6"/>
<path d="M84.1 569.89L86.14 571.93L84.1 573.97L82.06 571.93Z" fill="#bf0029" stroke="#1a1020" stroke-width="0.6"/>
<path d="M80.4 582.65L82.44 584.69L80.4 586.73L78.36 584.69Z" fill="#bf0029" stroke="#1a1020" stroke-width="0.6"/>
<path d="M84.1 581.92L86.14 583.96L84.1 586L82.06 583.96Z" fill="#bf0029" stroke="#1a1020" stroke-width="0.6"/>
<path d="M84.1 587.76L86.14 589.8L84.1 591.84L82.06 589.8Z" fill="#bf0029" stroke="#1a1020" stroke-width="0.6"/>
<path d="M88 589.22L90.04 591.26L88 593.3L85.96 591.26Z" fill="#bf0029" stroke="#1a1020" stroke-width="0.6"/>
<path d="M82.2 597.97L84.24 600.01L82.2 602.05L80.16 600.01Z" fill="#bf0029" stroke="#1a1020" stroke-width="0.6"/>
<path d="M86.1 597.97L88.14 600.01L86.1 602.05L84.06 600.01Z" fill="#bf0029" stroke="#1a1020" stroke-width="0.6"/>
<line x1="84.4" y1="558.07" x2="84.4" y2="593.44" stroke="#000" stroke-width="1.05"/>
<line x1="81.4" y1="558.07" x2="87.4" y2="558.07" stroke="#000" stroke-width="1.05"/>
<line x1="81.4" y1="593.44" x2="87.4" y2="593.44" stroke="#000" stroke-width="1.05"/>
<line x1="76.8" y1="576.3" x2="92" y2="576.3" stroke="#000" stroke-width="1.2"/>
<line x1="84.4" y1="613.5" x2="84.4" y2="615.8" stroke="#222" stroke-width="0.9"/>
<rect x="99.64" y="540.99" width="3.52" height="3.52" fill="#26457f" stroke="#1a1020" stroke-width="0.6"/>
<rect x="102.54" y="551.57" width="3.52" height="3.52" fill="#26457f" stroke="#1a1020" stroke-width="0.6"/>
<rect x="97.04" y="557.04" width="3.52" height="3.52" fill="#26457f" stroke="#1a1020" stroke-width="0.6"/>
<rect x="102.44" y="559.96" width="3.52" height="3.52" fill="#26457f" stroke="#1a1020" stroke-width="0.6"/>
<rect x="97.04" y="566.16" width="3.52" height="3.52" fill="#26457f" stroke="#1a1020" stroke-width="0.6"/>
<rect x="99.64" y="576" width="3.52" height="3.52" fill="#26457f" stroke="#1a1020" stroke-width="0.6"/>
<rect x="94.14" y="582.93" width="3.52" height="3.52" fill="#26457f" stroke="#1a1020" stroke-width="0.6"/>
<rect x="105.04" y="580.74" width="3.52" height="3.52" fill="#26457f" stroke="#1a1020" stroke-width="0.6"/>
<rect x="99.64" y="586.58" width="3.52" height="3.52" fill="#26457f" stroke="#1a1020" stroke-width="0.6"/>
<rect x="105.04" y="589.5" width="3.52" height="3.52" fill="#26457f" stroke="#1a1020" stroke-width="0.6"/>
<rect x="97.04" y="594.24" width="3.52" height="3.52" fill="#26457f" stroke="#1a1020" stroke-width="0.6"/>
<rect x="102.44" y="597.74" width="3.52" height="3.52" fill="#26457f" stroke="#1a1020" stroke-width="0.6"/>
<line x1="101.2" y1="560.99" x2="101.2" y2="593.44" stroke="#000" stroke-width="1.05"/>
<line x1="98.2" y1="560.99" x2="104.2" y2="560.99" stroke="#000" stroke-width="1.05"/>
<line x1="98.2" y1="593.44" x2="104.2" y2="593.44" stroke="#000" stroke-width="1.05"/>
<line x1="93.6" y1="576.3" x2="108.8" y2="576.3" stroke="#000" stroke-width="1.2"/>
<line x1="101.2" y1="613.5" x2="101.2" y2="615.8" stroke="#222" stroke-width="0.9"/>
<text transform="translate(18.2,557.6) rotate(-90)" font-size="9.4" text-anchor="middle" font-weight="normal" fill="#222" textLength="50.6" lengthAdjust="spacingAndGlyphs">Total cells (10<tspan font-size="4.6" dy="-3">5</tspan><tspan dy="3">)</tspan></text>
<line x1="152.7" y1="501.7" x2="152.7" y2="614.1" stroke="#222" stroke-width="1.2"/>
<line x1="152.1" y1="613.5" x2="225.8" y2="613.5" stroke="#222" stroke-width="1.2"/>
<line x1="149.9" y1="613.5" x2="152.7" y2="613.5" stroke="#222" stroke-width="1"/>
<text transform="translate(147.5,616.5)" font-size="8.6" text-anchor="end" font-weight="normal" fill="#222">0</text>
<line x1="149.9" y1="577.03" x2="152.7" y2="577.03" stroke="#222" stroke-width="1"/>
<text transform="translate(147.5,580.03)" font-size="8.6" text-anchor="end" font-weight="normal" fill="#222">5</text>
<line x1="149.9" y1="540.57" x2="152.7" y2="540.57" stroke="#222" stroke-width="1"/>
<text transform="translate(147.5,543.57)" font-size="8.6" text-anchor="end" font-weight="normal" fill="#222">10</text>
<line x1="149.9" y1="504.1" x2="152.7" y2="504.1" stroke="#222" stroke-width="1"/>
<text transform="translate(147.5,507.1)" font-size="8.6" text-anchor="end" font-weight="normal" fill="#222">15</text>
<line x1="188.8" y1="503.9" x2="188.8" y2="613.5" stroke="#707070" stroke-width="1.4"/>
<text transform="translate(189.4,483.4) scale(0.99,1)" font-size="9.7" text-anchor="middle" font-weight="normal" fill="#111">Lung</text>
<text transform="translate(171.2,495.3) scale(0.96,1)" font-size="7.9" text-anchor="middle" font-weight="normal" fill="#111">CD4</text>
<text transform="translate(207.1,495.3) scale(0.96,1)" font-size="7.9" text-anchor="middle" font-weight="normal" fill="#111">CD8</text>
<path d="M162.3 531.96L164.34 534L162.3 536.04L160.26 534Z" fill="#bf0029" stroke="#1a1020" stroke-width="0.6"/>
<path d="M158.8 572.08L160.84 574.12L158.8 576.16L156.76 574.12Z" fill="#bf0029" stroke="#1a1020" stroke-width="0.6"/>
<path d="M166 571.35L168.04 573.39L166 575.43L163.96 573.39Z" fill="#bf0029" stroke="#1a1020" stroke-width="0.6"/>
<path d="M162.3 574.99L164.34 577.03L162.3 579.07L160.26 577.03Z" fill="#bf0029" stroke="#1a1020" stroke-width="0.6"/>
<path d="M158.8 579.37L160.84 581.41L158.8 583.45L156.76 581.41Z" fill="#bf0029" stroke="#1a1020" stroke-width="0.6"/>
<path d="M162.3 582.29L164.34 584.33L162.3 586.37L160.26 584.33Z" fill="#bf0029" stroke="#1a1020" stroke-width="0.6"/>
<path d="M166 583.75L168.04 585.79L166 587.83L163.96 585.79Z" fill="#bf0029" stroke="#1a1020" stroke-width="0.6"/>
<path d="M167.9 587.03L169.94 589.07L167.9 591.11L165.86 589.07Z" fill="#bf0029" stroke="#1a1020" stroke-width="0.6"/>
<path d="M156.7 591.04L158.74 593.08L156.7 595.12L154.66 593.08Z" fill="#bf0029" stroke="#1a1020" stroke-width="0.6"/>
<path d="M164.1 590.67L166.14 592.71L164.1 594.75L162.06 592.71Z" fill="#bf0029" stroke="#1a1020" stroke-width="0.6"/>
<path d="M160.4 592.5L162.44 594.54L160.4 596.58L158.36 594.54Z" fill="#bf0029" stroke="#1a1020" stroke-width="0.6"/>
<path d="M158.8 604.24L160.84 606.28L158.8 608.32L156.76 606.28Z" fill="#bf0029" stroke="#1a1020" stroke-width="0.6"/>
<path d="M162.3 606.21L164.34 608.25L162.3 610.29L160.26 608.25Z" fill="#bf0029" stroke="#1a1020" stroke-width="0.6"/>
<path d="M166 607.74L168.04 609.78L166 611.82L163.96 609.78Z" fill="#bf0029" stroke="#1a1020" stroke-width="0.6"/>
<line x1="162.2" y1="567.11" x2="162.2" y2="605.19" stroke="#000" stroke-width="1.05"/>
<line x1="159.2" y1="567.11" x2="165.2" y2="567.11" stroke="#000" stroke-width="1.05"/>
<line x1="159.2" y1="605.19" x2="165.2" y2="605.19" stroke="#000" stroke-width="1.05"/>
<line x1="154.6" y1="586" x2="169.8" y2="586" stroke="#000" stroke-width="1.2"/>
<line x1="162.2" y1="613.5" x2="162.2" y2="615.8" stroke="#222" stroke-width="0.9"/>
<rect x="177.54" y="529.69" width="3.52" height="3.52" fill="#26457f" stroke="#1a1020" stroke-width="0.6"/>
<rect x="177.54" y="552.66" width="3.52" height="3.52" fill="#26457f" stroke="#1a1020" stroke-width="0.6"/>
<rect x="177.54" y="563.6" width="3.52" height="3.52" fill="#26457f" stroke="#1a1020" stroke-width="0.6"/>
<rect x="174.64" y="571.63" width="3.52" height="3.52" fill="#26457f" stroke="#1a1020" stroke-width="0.6"/>
<rect x="180.24" y="571.63" width="3.52" height="3.52" fill="#26457f" stroke="#1a1020" stroke-width="0.6"/>
<rect x="177.54" y="578.92" width="3.52" height="3.52" fill="#26457f" stroke="#1a1020" stroke-width="0.6"/>
<rect x="183.14" y="579.65" width="3.52" height="3.52" fill="#26457f" stroke="#1a1020" stroke-width="0.6"/>
<rect x="172.24" y="582.2" width="3.52" height="3.52" fill="#26457f" stroke="#1a1020" stroke-width="0.6"/>
<rect x="177.54" y="588.4" width="3.52" height="3.52" fill="#26457f" stroke="#1a1020" stroke-width="0.6"/>
<rect x="174.64" y="594.24" width="3.52" height="3.52" fill="#26457f" stroke="#1a1020" stroke-width="0.6"/>
<rect x="180.24" y="595.69" width="3.52" height="3.52" fill="#26457f" stroke="#1a1020" stroke-width="0.6"/>
<rect x="174.64" y="600.8" width="3.52" height="3.52" fill="#26457f" stroke="#1a1020" stroke-width="0.6"/>
<rect x="180.24" y="604.45" width="3.52" height="3.52" fill="#26457f" stroke="#1a1020" stroke-width="0.6"/>
<line x1="179.3" y1="559.16" x2="179.3" y2="599.64" stroke="#000" stroke-width="1.05"/>
<line x1="176.3" y1="559.16" x2="182.3" y2="559.16" stroke="#000" stroke-width="1.05"/>
<line x1="176.3" y1="599.64" x2="182.3" y2="599.64" stroke="#000" stroke-width="1.05"/>
<line x1="171.7" y1="579.95" x2="186.9" y2="579.95" stroke="#000" stroke-width="1.2"/>
<line x1="179.3" y1="613.5" x2="179.3" y2="615.8" stroke="#222" stroke-width="0.9"/>
<path d="M198.2 519.2L200.24 521.24L198.2 523.28L196.16 521.24Z" fill="#bf0029" stroke="#1a1020" stroke-width="0.6"/>
<path d="M198.2 550.93L200.24 552.97L198.2 555.01L196.16 552.97Z" fill="#bf0029" stroke="#1a1020" stroke-width="0.6"/>
<path d="M192.9 554.57L194.94 556.61L192.9 558.65L190.86 556.61Z" fill="#bf0029" stroke="#1a1020" stroke-width="0.6"/>
<path d="M195.6 559.31L197.64 561.35L195.6 563.39L193.56 561.35Z" fill="#bf0029" stroke="#1a1020" stroke-width="0.6"/>
<path d="M198.2 559.31L200.24 561.35L198.2 563.39L196.16 561.35Z" fill="#bf0029" stroke="#1a1020" stroke-width="0.6"/>
<path d="M200.8 558.22L202.84 560.26L200.8 562.3L198.76 560.26Z" fill="#bf0029" stroke="#1a1020" stroke-width="0.6"/>
<path d="M203.5 559.31L205.54 561.35L203.5 563.39L201.46 561.35Z" fill="#bf0029" stroke="#1a1020" stroke-width="0.6"/>
<path d="M202.6 572.44L204.64 574.48L202.6 576.52L200.56 574.48Z" fill="#bf0029" stroke="#1a1020" stroke-width="0.6"/>
<path d="M200 573.53L202.04 575.57L200 577.61L197.96 575.57Z" fill="#bf0029" stroke="#1a1020" stroke-width="0.6"/>
<path d="M193.8 576.45L195.84 578.49L193.8 580.53L191.76 578.49Z" fill="#bf0029" stroke="#1a1020" stroke-width="0.6"/>
<path d="M197 577.91L199.04 579.95L197 581.99L194.96 579.95Z" fill="#bf0029" stroke="#1a1020" stroke-width="0.6"/>
<path d="M198.2 587.39L200.24 589.43L198.2 591.47L196.16 589.43Z" fill="#bf0029" stroke="#1a1020" stroke-width="0.6"/>
<path d="M196.4 593.96L198.44 596L196.4 598.04L194.36 596Z" fill="#bf0029" stroke="#1a1020" stroke-width="0.6"/>
<path d="M200 595.05L202.04 597.09L200 599.13L197.96 597.09Z" fill="#bf0029" stroke="#1a1020" stroke-width="0.6"/>
<line x1="198.4" y1="548.95" x2="198.4" y2="589.43" stroke="#000" stroke-width="1.05"/>
<line x1="195.4" y1="548.95" x2="201.4" y2="548.95" stroke="#000" stroke-width="1.05"/>
<line x1="195.4" y1="589.43" x2="201.4" y2="589.43" stroke="#000" stroke-width="1.05"/>
<line x1="190.8" y1="569.16" x2="206" y2="569.16" stroke="#000" stroke-width="1.2"/>
<line x1="198.4" y1="613.5" x2="198.4" y2="615.8" stroke="#222" stroke-width="0.9"/>
<rect x="213.74" y="537.35" width="3.52" height="3.52" fill="#26457f" stroke="#1a1020" stroke-width="0.6"/>
<rect x="213.74" y="545.74" width="3.52" height="3.52" fill="#26457f" stroke="#1a1020" stroke-width="0.6"/>
<rect x="211.44" y="565.43" width="3.52" height="3.52" fill="#26457f" stroke="#1a1020" stroke-width="0.6"/>
<rect x="215.84" y="564.7" width="3.52" height="3.52" fill="#26457f" stroke="#1a1020" stroke-width="0.6"/>
<rect x="213.14" y="567.25" width="3.52" height="3.52" fill="#26457f" stroke="#1a1020" stroke-width="0.6"/>
<rect x="212.24" y="573.81" width="3.52" height="3.52" fill="#26457f" stroke="#1a1020" stroke-width="0.6"/>
<rect x="214.54" y="573.09" width="3.52" height="3.52" fill="#26457f" stroke="#1a1020" stroke-width="0.6"/>
<rect x="207.84" y="579.65" width="3.52" height="3.52" fill="#26457f" stroke="#1a1020" stroke-width="0.6"/>
<rect x="210.54" y="580.74" width="3.52" height="3.52" fill="#26457f" stroke="#1a1020" stroke-width="0.6"/>
<rect x="214.04" y="579.28" width="3.52" height="3.52" fill="#26457f" stroke="#1a1020" stroke-width="0.6"/>
<rect x="213.14" y="583.3" width="3.52" height="3.52" fill="#26457f" stroke="#1a1020" stroke-width="0.6"/>
<rect x="217.04" y="583.3" width="3.52" height="3.52" fill="#26457f" stroke="#1a1020" stroke-width="0.6"/>
<rect x="219.34" y="585.12" width="3.52" height="3.52" fill="#26457f" stroke="#1a1020" stroke-width="0.6"/>
<line x1="215.4" y1="558.07" x2="215.4" y2="585.79" stroke="#000" stroke-width="1.05"/>
<line x1="212.4" y1="558.07" x2="218.4" y2="558.07" stroke="#000" stroke-width="1.05"/>
<line x1="212.4" y1="585.79" x2="218.4" y2="585.79" stroke="#000" stroke-width="1.05"/>
<line x1="207.8" y1="572.66" x2="223" y2="572.66" stroke="#000" stroke-width="1.2"/>
<line x1="215.4" y1="613.5" x2="215.4" y2="615.8" stroke="#222" stroke-width="0.9"/>
<text transform="translate(132.9,557.6) rotate(-90)" font-size="9.4" text-anchor="middle" font-weight="normal" fill="#222" textLength="50.6" lengthAdjust="spacingAndGlyphs">Total cells (10<tspan font-size="4.6" dy="-3">5</tspan><tspan dy="3">)</tspan></text>
<line x1="262.6" y1="502.2" x2="262.6" y2="613.7" stroke="#222" stroke-width="1.2"/>
<line x1="262" y1="613.1" x2="333.9" y2="613.1" stroke="#222" stroke-width="1.2"/>
<line x1="259.8" y1="613.1" x2="262.6" y2="613.1" stroke="#222" stroke-width="1"/>
<text transform="translate(257.4,616.1)" font-size="8.6" text-anchor="end" font-weight="normal" fill="#222">0</text>
<line x1="259.8" y1="585.98" x2="262.6" y2="585.98" stroke="#222" stroke-width="1"/>
<text transform="translate(257.4,588.98)" font-size="8.6" text-anchor="end" font-weight="normal" fill="#222">2</text>
<line x1="259.8" y1="558.85" x2="262.6" y2="558.85" stroke="#222" stroke-width="1"/>
<text transform="translate(257.4,561.85)" font-size="8.6" text-anchor="end" font-weight="normal" fill="#222">4</text>
<line x1="259.8" y1="531.73" x2="262.6" y2="531.73" stroke="#222" stroke-width="1"/>
<text transform="translate(257.4,534.73)" font-size="8.6" text-anchor="end" font-weight="normal" fill="#222">6</text>
<line x1="259.8" y1="504.6" x2="262.6" y2="504.6" stroke="#222" stroke-width="1"/>
<text transform="translate(257.4,507.6)" font-size="8.6" text-anchor="end" font-weight="normal" fill="#222">8</text>
<line x1="298.4" y1="504.4" x2="298.4" y2="613.1" stroke="#333" stroke-width="1"/>
<text transform="translate(298.4,483.4) scale(0.99,1)" font-size="9.7" text-anchor="middle" font-weight="normal" fill="#111">Colon</text>
<text transform="translate(279.9,495.3) scale(0.96,1)" font-size="7.9" text-anchor="middle" font-weight="normal" fill="#111">CD4</text>
<text transform="translate(316,495.3) scale(0.96,1)" font-size="7.9" text-anchor="middle" font-weight="normal" fill="#111">CD8</text>
<path d="M272.1 509.34L274.14 511.38L272.1 513.42L270.06 511.38Z" fill="#bf0029" stroke="#1a1020" stroke-width="0.6"/>
<path d="M272.1 538.77L274.14 540.81L272.1 542.85L270.06 540.81Z" fill="#bf0029" stroke="#1a1020" stroke-width="0.6"/>
<path d="M274.5 543.25L276.54 545.29L274.5 547.33L272.46 545.29Z" fill="#bf0029" stroke="#1a1020" stroke-width="0.6"/>
<path d="M269.4 547.59L271.44 549.63L269.4 551.67L267.36 549.63Z" fill="#bf0029" stroke="#1a1020" stroke-width="0.6"/>
<path d="M272.1 554.64L274.14 556.68L272.1 558.72L270.06 556.68Z" fill="#bf0029" stroke="#1a1020" stroke-width="0.6"/>
<path d="M269.4 563.86L271.44 565.9L269.4 567.94L267.36 565.9Z" fill="#bf0029" stroke="#1a1020" stroke-width="0.6"/>
<path d="M274.5 567.52L276.54 569.56L274.5 571.6L272.46 569.56Z" fill="#bf0029" stroke="#1a1020" stroke-width="0.6"/>
<path d="M272.1 576.61L274.14 578.65L272.1 580.69L270.06 578.65Z" fill="#bf0029" stroke="#1a1020" stroke-width="0.6"/>
<path d="M272.1 583.53L274.14 585.57L272.1 587.61L270.06 585.57Z" fill="#bf0029" stroke="#1a1020" stroke-width="0.6"/>
<path d="M266.6 587.73L268.64 589.77L266.6 591.81L264.56 589.77Z" fill="#bf0029" stroke="#1a1020" stroke-width="0.6"/>
<path d="M272.1 588.41L274.14 590.45L272.1 592.49L270.06 590.45Z" fill="#bf0029" stroke="#1a1020" stroke-width="0.6"/>
<path d="M277.1 589.36L279.14 591.4L277.1 593.44L275.06 591.4Z" fill="#bf0029" stroke="#1a1020" stroke-width="0.6"/>
<path d="M272.1 596.96L274.14 599L272.1 601.03L270.06 599Z" fill="#bf0029" stroke="#1a1020" stroke-width="0.6"/>
<line x1="272.2" y1="540.81" x2="272.2" y2="592.89" stroke="#000" stroke-width="1.05"/>
<line x1="269.2" y1="540.81" x2="275.2" y2="540.81" stroke="#000" stroke-width="1.05"/>
<line x1="269.2" y1="592.89" x2="275.2" y2="592.89" stroke="#000" stroke-width="1.05"/>
<line x1="264.6" y1="567.12" x2="279.8" y2="567.12" stroke="#000" stroke-width="1.2"/>
<line x1="272.2" y1="613.1" x2="272.2" y2="615.4" stroke="#222" stroke-width="0.9"/>
<rect x="287.44" y="523.05" width="3.52" height="3.52" fill="#26457f" stroke="#1a1020" stroke-width="0.6"/>
<rect x="289.64" y="581.91" width="3.52" height="3.52" fill="#26457f" stroke="#1a1020" stroke-width="0.6"/>
<rect x="285.64" y="583.27" width="3.52" height="3.52" fill="#26457f" stroke="#1a1020" stroke-width="0.6"/>
<rect x="287.44" y="587.88" width="3.52" height="3.52" fill="#26457f" stroke="#1a1020" stroke-width="0.6"/>
<rect x="285.04" y="590.18" width="3.52" height="3.52" fill="#26457f" stroke="#1a1020" stroke-width="0.6"/>
<rect x="288.74" y="594.79" width="3.52" height="3.52" fill="#26457f" stroke="#1a1020" stroke-width="0.6"/>
<rect x="281.94" y="599.41" width="3.52" height="3.52" fill="#26457f" stroke="#1a1020" stroke-width="0.6"/>
<rect x="286.04" y="599.81" width="3.52" height="3.52" fill="#26457f" stroke="#1a1020" stroke-width="0.6"/>
<rect x="291.14" y="598.59" width="3.52" height="3.52" fill="#26457f" stroke="#1a1020" stroke-width="0.6"/>
<rect x="285.04" y="602.25" width="3.52" height="3.52" fill="#26457f" stroke="#1a1020" stroke-width="0.6"/>
<rect x="289.64" y="602.8" width="3.52" height="3.52" fill="#26457f" stroke="#1a1020" stroke-width="0.6"/>
<rect x="293.04" y="604.56" width="3.52" height="3.52" fill="#26457f" stroke="#1a1020" stroke-width="0.6"/>
<line x1="289.2" y1="571.33" x2="289.2" y2="612.56" stroke="#000" stroke-width="1.05"/>
<line x1="286.2" y1="571.33" x2="292.2" y2="571.33" stroke="#000" stroke-width="1.05"/>
<line x1="286.2" y1="612.56" x2="292.2" y2="612.56" stroke="#000" stroke-width="1.05"/>
<line x1="281.6" y1="591.94" x2="296.8" y2="591.94" stroke="#000" stroke-width="1.2"/>
<line x1="289.2" y1="613.1" x2="289.2" y2="615.4" stroke="#222" stroke-width="0.9"/>
<path d="M307.4 513L309.44 515.04L307.4 517.08L305.36 515.04Z" fill="#bf0029" stroke="#1a1020" stroke-width="0.6"/>
<path d="M307.4 551.39L309.44 553.43L307.4 555.47L305.36 553.43Z" fill="#bf0029" stroke="#1a1020" stroke-width="0.6"/>
<path d="M309.2 570.1L311.24 572.14L309.2 574.18L307.16 572.14Z" fill="#bf0029" stroke="#1a1020" stroke-width="0.6"/>
<path d="M305.6 572.41L307.64 574.45L305.6 576.49L303.56 574.45Z" fill="#bf0029" stroke="#1a1020" stroke-width="0.6"/>
<path d="M305.6 578.51L307.64 580.55L305.6 582.59L303.56 580.55Z" fill="#bf0029" stroke="#1a1020" stroke-width="0.6"/>
<path d="M309.2 581.63L311.24 583.67L309.2 585.71L307.16 583.67Z" fill="#bf0029" stroke="#1a1020" stroke-width="0.6"/>
<path d="M311.1 587.73L313.14 589.77L311.1 591.81L309.06 589.77Z" fill="#bf0029" stroke="#1a1020" stroke-width="0.6"/>
<path d="M303.7 592.75L305.74 594.79L303.7 596.83L301.66 594.79Z" fill="#bf0029" stroke="#1a1020" stroke-width="0.6"/>
<path d="M307.4 592.75L309.44 594.79L307.4 596.83L305.36 594.79Z" fill="#bf0029" stroke="#1a1020" stroke-width="0.6"/>
<path d="M301.9 597.36L303.94 599.4L301.9 601.44L299.86 599.4Z" fill="#bf0029" stroke="#1a1020" stroke-width="0.6"/>
<path d="M305.6 598.31L307.64 600.35L305.6 602.39L303.56 600.35Z" fill="#bf0029" stroke="#1a1020" stroke-width="0.6"/>
<path d="M309.2 599.53L311.24 601.57L309.2 603.61L307.16 601.57Z" fill="#bf0029" stroke="#1a1020" stroke-width="0.6"/>
<path d="M312.9 601.02L314.94 603.06L312.9 605.1L310.86 603.06Z" fill="#bf0029" stroke="#1a1020" stroke-width="0.6"/>
<line x1="307.4" y1="556.95" x2="307.4" y2="606.32" stroke="#000" stroke-width="1.05"/>
<line x1="304.4" y1="556.95" x2="310.4" y2="556.95" stroke="#000" stroke-width="1.05"/>
<line x1="304.4" y1="606.32" x2="310.4" y2="606.32" stroke="#000" stroke-width="1.05"/>
<line x1="299.8" y1="581.23" x2="315" y2="581.23" stroke="#000" stroke-width="1.2"/>
<line x1="307.4" y1="613.1" x2="307.4" y2="615.4" stroke="#222" stroke-width="0.9"/>
<rect x="322.74" y="595.07" width="3.52" height="3.52" fill="#26457f" stroke="#1a1020" stroke-width="0.6"/>
<rect x="321.84" y="598.46" width="3.52" height="3.52" fill="#26457f" stroke="#1a1020" stroke-width="0.6"/>
<rect x="323.64" y="599.81" width="3.52" height="3.52" fill="#26457f" stroke="#1a1020" stroke-width="0.6"/>
<rect x="318.24" y="604.56" width="3.52" height="3.52" fill="#26457f" stroke="#1a1020" stroke-width="0.6"/>
<rect x="320.94" y="605.24" width="3.52" height="3.52" fill="#26457f" stroke="#1a1020" stroke-width="0.6"/>
<rect x="324.64" y="605.92" width="3.52" height="3.52" fill="#26457f" stroke="#1a1020" stroke-width="0.6"/>
<rect x="327.44" y="607" width="3.52" height="3.52" fill="#26457f" stroke="#1a1020" stroke-width="0.6"/>
<rect x="317.34" y="608.9" width="3.52" height="3.52" fill="#26457f" stroke="#1a1020" stroke-width="0.6"/>
<rect x="320.04" y="609.31" width="3.52" height="3.52" fill="#26457f" stroke="#1a1020" stroke-width="0.6"/>
<rect x="323.64" y="609.71" width="3.52" height="3.52" fill="#26457f" stroke="#1a1020" stroke-width="0.6"/>
<rect x="328.24" y="608.63" width="3.52" height="3.52" fill="#26457f" stroke="#1a1020" stroke-width="0.6"/>
<rect x="325.54" y="610.53" width="3.52" height="3.52" fill="#26457f" stroke="#1a1020" stroke-width="0.6"/>
<line x1="324.5" y1="602.25" x2="324.5" y2="612.01" stroke="#000" stroke-width="1.05"/>
<line x1="321.5" y1="602.25" x2="327.5" y2="602.25" stroke="#000" stroke-width="1.05"/>
<line x1="321.5" y1="612.01" x2="327.5" y2="612.01" stroke="#000" stroke-width="1.05"/>
<line x1="316.9" y1="607.4" x2="332.1" y2="607.4" stroke="#000" stroke-width="1.2"/>
<line x1="324.5" y1="613.1" x2="324.5" y2="615.4" stroke="#222" stroke-width="0.9"/>
<line x1="272.4" y1="506" x2="289.1" y2="506" stroke="#111" stroke-width="1"/>
<text transform="translate(280.75,505.8)" font-size="8.4" text-anchor="middle" font-weight="normal" fill="#111">**</text>
<line x1="307.3" y1="508.9" x2="323.7" y2="508.9" stroke="#111" stroke-width="1"/>
<text transform="translate(315.5,508.7)" font-size="8.4" text-anchor="middle" font-weight="normal" fill="#111">****</text>
<text transform="translate(247.4,557.6) rotate(-90)" font-size="9.4" text-anchor="middle" font-weight="normal" fill="#222" textLength="50.6" lengthAdjust="spacingAndGlyphs">Total cells (10<tspan font-size="4.6" dy="-3">5</tspan><tspan dy="3">)</tspan></text>
<line x1="378.5" y1="501.2" x2="378.5" y2="614.1" stroke="#222" stroke-width="1.2"/>
<line x1="377.9" y1="613.5" x2="448.8" y2="613.5" stroke="#222" stroke-width="1.2"/>
<line x1="375.7" y1="613.5" x2="378.5" y2="613.5" stroke="#222" stroke-width="1"/>
<text transform="translate(373.3,616.5)" font-size="8.6" text-anchor="end" font-weight="normal" fill="#222">0</text>
<line x1="375.7" y1="586.02" x2="378.5" y2="586.02" stroke="#222" stroke-width="1"/>
<text transform="translate(373.3,589.02)" font-size="8.6" text-anchor="end" font-weight="normal" fill="#222">1</text>
<line x1="375.7" y1="558.55" x2="378.5" y2="558.55" stroke="#222" stroke-width="1"/>
<text transform="translate(373.3,561.55)" font-size="8.6" text-anchor="end" font-weight="normal" fill="#222">2</text>
<line x1="375.7" y1="531.08" x2="378.5" y2="531.08" stroke="#222" stroke-width="1"/>
<text transform="translate(373.3,534.08)" font-size="8.6" text-anchor="end" font-weight="normal" fill="#222">3</text>
<line x1="375.7" y1="503.6" x2="378.5" y2="503.6" stroke="#222" stroke-width="1"/>
<text transform="translate(373.3,506.6)" font-size="8.6" text-anchor="end" font-weight="normal" fill="#222">4</text>
<line x1="411.5" y1="503.4" x2="411.5" y2="613.5" stroke="#222" stroke-width="1"/>
<text transform="translate(407.1,483.4) scale(0.99,1)" font-size="9.7" text-anchor="middle" font-weight="normal" fill="#111">Colon</text>
<text transform="translate(396,495.3) scale(0.96,1)" font-size="7.9" text-anchor="middle" font-weight="normal" fill="#111">CD4</text>
<text transform="translate(426.8,495.3) scale(0.96,1)" font-size="7.9" text-anchor="middle" font-weight="normal" fill="#111">CD8</text>
<path d="M385.2 538.1L387.24 540.14L385.2 542.18L383.16 540.14Z" fill="#bf0029" stroke="#1a1020" stroke-width="0.6"/>
<path d="M392.4 540.57L394.44 542.61L392.4 544.65L390.36 542.61Z" fill="#bf0029" stroke="#1a1020" stroke-width="0.6"/>
<path d="M388.9 557.33L390.94 559.37L388.9 561.41L386.86 559.37Z" fill="#bf0029" stroke="#1a1020" stroke-width="0.6"/>
<path d="M385.2 570.52L387.24 572.56L385.2 574.6L383.16 572.56Z" fill="#bf0029" stroke="#1a1020" stroke-width="0.6"/>
<path d="M392.4 575.74L394.44 577.78L392.4 579.82L390.36 577.78Z" fill="#bf0029" stroke="#1a1020" stroke-width="0.6"/>
<path d="M385.2 580.96L387.24 583L385.2 585.04L383.16 583Z" fill="#bf0029" stroke="#1a1020" stroke-width="0.6"/>
<path d="M392.4 585.08L394.44 587.12L392.4 589.16L390.36 587.12Z" fill="#bf0029" stroke="#1a1020" stroke-width="0.6"/>
<path d="M388.9 598.55L390.94 600.59L388.9 602.63L386.86 600.59Z" fill="#bf0029" stroke="#1a1020" stroke-width="0.6"/>
<line x1="388.9" y1="548.93" x2="388.9" y2="591.52" stroke="#000" stroke-width="1.05"/>
<line x1="385.9" y1="548.93" x2="391.9" y2="548.93" stroke="#000" stroke-width="1.05"/>
<line x1="385.9" y1="591.52" x2="391.9" y2="591.52" stroke="#000" stroke-width="1.05"/>
<line x1="381.3" y1="570.36" x2="396.5" y2="570.36" stroke="#000" stroke-width="1.2"/>
<line x1="388.9" y1="613.5" x2="388.9" y2="615.8" stroke="#222" stroke-width="0.9"/>
<rect x="401.54" y="579.32" width="3.52" height="3.52" fill="#26457f" stroke="#1a1020" stroke-width="0.6"/>
<rect x="399.44" y="594.16" width="3.52" height="3.52" fill="#26457f" stroke="#1a1020" stroke-width="0.6"/>
<rect x="403.44" y="594.16" width="3.52" height="3.52" fill="#26457f" stroke="#1a1020" stroke-width="0.6"/>
<rect x="397.04" y="598.28" width="3.52" height="3.52" fill="#26457f" stroke="#1a1020" stroke-width="0.6"/>
<rect x="400.24" y="602.12" width="3.52" height="3.52" fill="#26457f" stroke="#1a1020" stroke-width="0.6"/>
<rect x="403.44" y="604.32" width="3.52" height="3.52" fill="#26457f" stroke="#1a1020" stroke-width="0.6"/>
<rect x="406.34" y="605.15" width="3.52" height="3.52" fill="#26457f" stroke="#1a1020" stroke-width="0.6"/>
<line x1="403.3" y1="589.6" x2="403.3" y2="606.91" stroke="#000" stroke-width="1.05"/>
<line x1="400.3" y1="589.6" x2="406.3" y2="589.6" stroke="#000" stroke-width="1.05"/>
<line x1="400.3" y1="606.91" x2="406.3" y2="606.91" stroke="#000" stroke-width="1.05"/>
<line x1="395.7" y1="598.39" x2="410.9" y2="598.39" stroke="#000" stroke-width="1.2"/>
<line x1="403.3" y1="613.5" x2="403.3" y2="615.8" stroke="#222" stroke-width="0.9"/>
<path d="M419.6 530.41L421.64 532.45L419.6 534.49L417.56 532.45Z" fill="#bf0029" stroke="#1a1020" stroke-width="0.6"/>
<path d="M422 545.52L424.04 547.56L422 549.6L419.96 547.56Z" fill="#bf0029" stroke="#1a1020" stroke-width="0.6"/>
<path d="M417.7 551.29L419.74 553.33L417.7 555.37L415.66 553.33Z" fill="#bf0029" stroke="#1a1020" stroke-width="0.6"/>
<path d="M419.6 562.83L421.64 564.87L419.6 566.91L417.56 564.87Z" fill="#bf0029" stroke="#1a1020" stroke-width="0.6"/>
<path d="M415.1 582.06L417.14 584.1L415.1 586.14L413.06 584.1Z" fill="#bf0029" stroke="#1a1020" stroke-width="0.6"/>
<path d="M419.6 581.79L421.64 583.83L419.6 585.87L417.56 583.83Z" fill="#bf0029" stroke="#1a1020" stroke-width="0.6"/>
<path d="M419.9 584.53L421.94 586.57L419.9 588.61L417.86 586.57Z" fill="#bf0029" stroke="#1a1020" stroke-width="0.6"/>
<path d="M424.1 588.11L426.14 590.15L424.1 592.19L422.06 590.15Z" fill="#bf0029" stroke="#1a1020" stroke-width="0.6"/>
<line x1="419.6" y1="546.19" x2="419.6" y2="589.05" stroke="#000" stroke-width="1.05"/>
<line x1="416.6" y1="546.19" x2="422.6" y2="546.19" stroke="#000" stroke-width="1.05"/>
<line x1="416.6" y1="589.05" x2="422.6" y2="589.05" stroke="#000" stroke-width="1.05"/>
<line x1="412" y1="567.62" x2="427.2" y2="567.62" stroke="#000" stroke-width="1.2"/>
<line x1="419.6" y1="613.5" x2="419.6" y2="615.8" stroke="#222" stroke-width="0.9"/>
<rect x="432.24" y="591.41" width="3.52" height="3.52" fill="#26457f" stroke="#1a1020" stroke-width="0.6"/>
<rect x="435.14" y="593.33" width="3.52" height="3.52" fill="#26457f" stroke="#1a1020" stroke-width="0.6"/>
<rect x="430.34" y="596.35" width="3.52" height="3.52" fill="#26457f" stroke="#1a1020" stroke-width="0.6"/>
<rect x="427.74" y="600.48" width="3.52" height="3.52" fill="#26457f" stroke="#1a1020" stroke-width="0.6"/>
<rect x="431.74" y="601.3" width="3.52" height="3.52" fill="#26457f" stroke="#1a1020" stroke-width="0.6"/>
<rect x="430.34" y="605.15" width="3.52" height="3.52" fill="#26457f" stroke="#1a1020" stroke-width="0.6"/>
<rect x="433.84" y="605.7" width="3.52" height="3.52" fill="#26457f" stroke="#1a1020" stroke-width="0.6"/>
<rect x="436.74" y="606.79" width="3.52" height="3.52" fill="#26457f" stroke="#1a1020" stroke-width="0.6"/>
<line x1="434" y1="597.01" x2="434" y2="608" stroke="#000" stroke-width="1.05"/>
<line x1="431" y1="597.01" x2="437" y2="597.01" stroke="#000" stroke-width="1.05"/>
<line x1="431" y1="608" x2="437" y2="608" stroke="#000" stroke-width="1.05"/>
<line x1="426.4" y1="602.78" x2="441.6" y2="602.78" stroke="#000" stroke-width="1.2"/>
<line x1="434" y1="613.5" x2="434" y2="615.8" stroke="#222" stroke-width="0.9"/>
<line x1="387.7" y1="531.3" x2="404" y2="531.3" stroke="#111" stroke-width="1"/>
<text transform="translate(395.85,531.1)" font-size="8.4" text-anchor="middle" font-weight="normal" fill="#111">**</text>
<line x1="420" y1="526.4" x2="436.3" y2="526.4" stroke="#111" stroke-width="1"/>
<text transform="translate(428.15,526.2)" font-size="8.4" text-anchor="middle" font-weight="normal" fill="#111">***</text>
<text transform="translate(363,557.6) rotate(-90)" font-size="9.4" text-anchor="middle" font-weight="normal" fill="#222" textLength="72" lengthAdjust="spacingAndGlyphs">Total IFN&#947;<tspan font-size="4.6" dy="-3">+</tspan><tspan dy="3"> cells (10</tspan><tspan font-size="4.6" dy="-3">5</tspan><tspan dy="3">)</tspan></text>
<path d="M447.7 550.76L449.74 552.8L447.7 554.84L445.66 552.8Z" fill="#bf0029" stroke="#1a1020" stroke-width="0.6"/>
<text transform="translate(452.4,555.3) scale(0.97,1)" font-size="7.9" text-anchor="start" font-weight="normal" fill="#111">WT BM + T</text>
<rect x="445.94" y="560.04" width="3.52" height="3.52" fill="#26457f" stroke="#1a1020" stroke-width="0.6"/>
<text transform="translate(452.4,564.3) scale(0.97,1)" font-size="7.9" text-anchor="start" font-weight="normal" fill="#111">GM-CSF<tspan font-size="4.8" dy="-3.1">-/-</tspan><tspan dy="3.1"> </tspan>BM + T</text>
</svg>
<div id="frame"></div>
</div></body></html>
